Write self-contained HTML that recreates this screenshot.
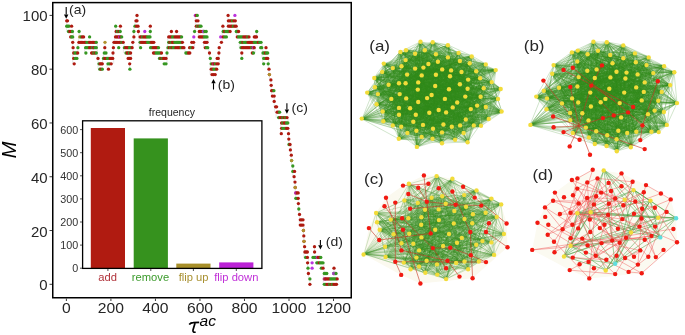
<!DOCTYPE html>
<html><head><meta charset="utf-8"><style>
html,body{margin:0;padding:0;background:#fff;}
body{width:685px;height:335px;overflow:hidden;position:relative;font-family:"Liberation Sans",sans-serif;}
</style></head><body>
<svg width="685" height="335" viewBox="0 0 685 335" style="position:absolute;left:0;top:0;will-change:transform">
<path d="M137.0 15.4V20.8M195.3 15.4V20.8M228.1 15.4V20.8M66.7 20.8V26.2M135.0 20.8V26.2M195.3 20.8V26.2M227.4 20.8V26.2M66.7 26.2V31.5M115.7 26.2V31.5M120.4 26.2V31.5M134.0 26.2V31.5M139.0 26.2V31.5M150.3 26.2V31.5M195.3 26.2V31.5M222.9 26.2V31.5M237.1 26.2V31.5M73.4 31.5V36.9M79.1 31.5V36.9M115.2 31.5V36.9M133.9 31.5V36.9M138.4 31.5V36.9M150.3 31.5V36.9M198.3 31.5V36.9M222.2 31.5V36.9M236.3 31.5V36.9M256.7 31.5V36.9M73.7 36.9V42.3M78.7 36.9V42.3M114.5 36.9V42.3M133.9 36.9V42.3M139.1 36.9V42.3M167.7 36.9V42.3M208.0 36.9V42.3M222.2 36.9V42.3M72.7 42.3V47.7M77.9 42.3V47.7M97.3 42.3V47.7M105.0 42.3V47.7M113.0 42.3V47.7M124.2 42.3V47.7M132.8 42.3V47.7M139.1 42.3V47.7M167.7 42.3V47.7M194.6 42.3V47.7M203.5 42.3V47.7M239.3 42.3V47.7M262.0 42.3V47.7M73.1 47.7V53.0M77.9 47.7V53.0M84.6 47.7V53.0M97.3 47.7V53.0M104.8 47.7V53.0M113.4 47.7V53.0M123.4 47.7V53.0M167.0 47.7V53.0M184.9 47.7V53.0M208.7 47.7V53.0M219.2 47.7V53.0M255.2 47.7V53.0M262.7 47.7V53.0M72.7 53.0V58.4M97.3 53.0V58.4M103.3 53.0V58.4M113.0 53.0V58.4M131.6 53.0V58.4M167.0 53.0V58.4M209.5 53.0V58.4M218.9 53.0V58.4M241.8 53.0V58.4M262.0 53.0V58.4M72.7 58.4V63.8M98.0 58.4V63.8M102.5 58.4V63.8M113.7 58.4V63.8M167.0 58.4V63.8M210.3 58.4V63.8M219.2 58.4V63.8M262.7 58.4V63.8M268.7 58.4V63.8M98.0 63.8V69.2M107.0 63.8V69.2M129.7 63.8V69.2M210.2 63.8V69.2M268.2 63.8V69.2M210.2 69.2V74.6M269.0 69.2V74.6M269.4 74.6V79.9M270.9 79.9V85.3M271.2 85.3V90.7M271.6 90.7V96.1M274.2 96.1V101.4M274.2 101.4V106.8M274.6 106.8V112.2M276.1 112.2V117.6M288.0 117.6V123.0M280.6 123.0V128.3M280.6 128.3V133.7M288.8 128.3V133.7M288.5 133.7V139.1M288.8 139.1V144.5M291.0 144.5V149.9M290.4 149.9V155.2M291.3 155.2V160.6M291.6 160.6V166.0M292.8 166.0V171.4M292.8 171.4V176.7M294.1 176.7V182.1M295.0 182.1V187.5M295.2 187.5V192.9M295.8 192.9V198.3M298.2 198.3V203.6M298.4 203.6V209.0M298.8 209.0V214.4M299.5 214.4V219.8M299.3 219.8V225.1M304.0 225.1V230.5M303.4 230.5V235.9M303.8 235.9V241.3M304.0 241.3V246.7M304.6 246.7V252.0M314.5 246.7V252.0M303.9 252.0V257.4M308.4 257.4V262.8M307.6 262.8V268.2M324.0 262.8V268.2M308.0 268.2V273.5M324.0 268.2V273.5M334.0 268.2V273.5M308.4 273.5V278.9M323.3 273.5V278.9M309.9 278.9V284.3M323.3 278.9V284.3" stroke="#cfcfcf" stroke-width="0.5" fill="none"/>
<style>.r{fill:#ae1a10}.g{fill:#369722}.p{fill:#bb33dd}.o{fill:#b0922e}</style>
<g><circle class="r" cx="66.7" cy="20.8" r="1.65"/><circle class="g" cx="66.7" cy="26.2" r="1.65"/><circle class="r" cx="67.5" cy="20.8" r="1.65"/><circle class="g" cx="67.8" cy="26.2" r="1.65"/><circle class="g" cx="68.5" cy="31.5" r="1.65"/><circle class="g" cx="69.0" cy="26.2" r="1.65"/><circle class="r" cx="69.8" cy="31.5" r="1.65"/><circle class="r" cx="70.7" cy="36.9" r="1.65"/><circle class="r" cx="71.1" cy="31.5" r="1.65"/><circle class="r" cx="71.6" cy="26.2" r="1.65"/><circle class="g" cx="71.7" cy="36.9" r="1.65"/><circle class="g" cx="72.4" cy="31.5" r="1.65"/><circle class="g" cx="72.7" cy="36.9" r="1.65"/><circle class="r" cx="72.7" cy="42.3" r="1.65"/><circle class="r" cx="73.1" cy="47.7" r="1.65"/><circle class="r" cx="73.7" cy="53.0" r="1.65"/><circle class="r" cx="73.7" cy="58.4" r="1.65"/><circle class="r" cx="74.2" cy="63.8" r="1.65"/><circle class="g" cx="75.0" cy="53.0" r="1.65"/><circle class="g" cx="75.3" cy="58.4" r="1.65"/><circle class="g" cx="76.4" cy="53.0" r="1.65"/><circle class="g" cx="76.9" cy="58.4" r="1.65"/><circle class="r" cx="77.7" cy="53.0" r="1.65"/><circle class="g" cx="77.9" cy="47.7" r="1.65"/><circle class="r" cx="78.9" cy="42.3" r="1.65"/><circle class="g" cx="79.1" cy="31.5" r="1.65"/><circle class="o" cx="79.7" cy="36.9" r="1.65"/><circle class="r" cx="80.2" cy="42.3" r="1.65"/><circle class="g" cx="81.0" cy="36.9" r="1.65"/><circle class="r" cx="81.6" cy="42.3" r="1.65"/><circle class="r" cx="82.3" cy="36.9" r="1.65"/><circle class="r" cx="82.9" cy="42.3" r="1.65"/><circle class="r" cx="83.6" cy="36.9" r="1.65"/><circle class="r" cx="84.3" cy="42.3" r="1.65"/><circle class="r" cx="85.6" cy="42.3" r="1.65"/><circle class="g" cx="85.6" cy="47.7" r="1.65"/><circle class="g" cx="85.9" cy="53.0" r="1.65"/><circle class="g" cx="86.9" cy="42.3" r="1.65"/><circle class="g" cx="86.9" cy="47.7" r="1.65"/><circle class="g" cx="88.3" cy="42.3" r="1.65"/><circle class="g" cx="88.3" cy="47.7" r="1.65"/><circle class="g" cx="89.6" cy="36.9" r="1.65"/><circle class="r" cx="89.6" cy="42.3" r="1.65"/><circle class="r" cx="89.6" cy="47.7" r="1.65"/><circle class="r" cx="90.9" cy="42.3" r="1.65"/><circle class="r" cx="90.9" cy="47.7" r="1.65"/><circle class="r" cx="91.6" cy="53.0" r="1.65"/><circle class="r" cx="92.3" cy="42.3" r="1.65"/><circle class="g" cx="92.3" cy="47.7" r="1.65"/><circle class="r" cx="92.8" cy="53.0" r="1.65"/><circle class="p" cx="93.6" cy="47.7" r="1.65"/><circle class="r" cx="93.6" cy="42.3" r="1.65"/><circle class="r" cx="93.6" cy="47.7" r="1.65"/><circle class="g" cx="93.9" cy="53.0" r="1.65"/><circle class="r" cx="95.0" cy="42.3" r="1.65"/><circle class="g" cx="95.0" cy="47.7" r="1.65"/><circle class="r" cx="95.1" cy="53.0" r="1.65"/><circle class="g" cx="96.3" cy="42.3" r="1.65"/><circle class="g" cx="96.3" cy="47.7" r="1.65"/><circle class="g" cx="96.3" cy="53.0" r="1.65"/><circle class="r" cx="98.0" cy="58.4" r="1.65"/><circle class="g" cx="99.0" cy="63.8" r="1.65"/><circle class="g" cx="99.8" cy="69.2" r="1.65"/><circle class="r" cx="100.1" cy="63.8" r="1.65"/><circle class="r" cx="101.0" cy="69.2" r="1.65"/><circle class="r" cx="101.2" cy="63.8" r="1.65"/><circle class="r" cx="102.3" cy="63.8" r="1.65"/><circle class="g" cx="102.3" cy="69.2" r="1.65"/><circle class="g" cx="103.5" cy="58.4" r="1.65"/><circle class="g" cx="104.3" cy="53.0" r="1.65"/><circle class="r" cx="104.8" cy="47.7" r="1.65"/><circle class="r" cx="104.8" cy="58.4" r="1.65"/><circle class="o" cx="105.0" cy="42.3" r="1.65"/><circle class="g" cx="106.0" cy="53.0" r="1.65"/><circle class="r" cx="106.1" cy="58.4" r="1.65"/><circle class="g" cx="107.4" cy="58.4" r="1.65"/><circle class="g" cx="108.0" cy="63.8" r="1.65"/><circle class="r" cx="108.5" cy="69.2" r="1.65"/><circle class="g" cx="108.8" cy="58.4" r="1.65"/><circle class="g" cx="109.6" cy="63.8" r="1.65"/><circle class="r" cx="110.1" cy="58.4" r="1.65"/><circle class="r" cx="111.2" cy="63.8" r="1.65"/><circle class="r" cx="111.4" cy="58.4" r="1.65"/><circle class="r" cx="112.7" cy="58.4" r="1.65"/><circle class="r" cx="113.0" cy="53.0" r="1.65"/><circle class="r" cx="113.4" cy="47.7" r="1.65"/><circle class="r" cx="114.0" cy="42.3" r="1.65"/><circle class="r" cx="115.3" cy="42.3" r="1.65"/><circle class="r" cx="115.5" cy="36.9" r="1.65"/><circle class="g" cx="115.7" cy="26.2" r="1.65"/><circle class="r" cx="116.2" cy="31.5" r="1.65"/><circle class="r" cx="116.6" cy="42.3" r="1.65"/><circle class="r" cx="116.7" cy="36.9" r="1.65"/><circle class="g" cx="117.5" cy="31.5" r="1.65"/><circle class="r" cx="117.9" cy="42.3" r="1.65"/><circle class="r" cx="118.0" cy="36.9" r="1.65"/><circle class="g" cx="118.7" cy="47.7" r="1.65"/><circle class="r" cx="118.9" cy="31.5" r="1.65"/><circle class="r" cx="119.2" cy="36.9" r="1.65"/><circle class="r" cx="119.3" cy="42.3" r="1.65"/><circle class="p" cx="119.7" cy="36.9" r="1.65"/><circle class="g" cx="120.2" cy="31.5" r="1.65"/><circle class="r" cx="120.4" cy="26.2" r="1.65"/><circle class="r" cx="120.5" cy="36.9" r="1.65"/><circle class="r" cx="120.6" cy="42.3" r="1.65"/><circle class="g" cx="121.7" cy="36.9" r="1.65"/><circle class="g" cx="121.9" cy="42.3" r="1.65"/><circle class="r" cx="123.2" cy="42.3" r="1.65"/><circle class="g" cx="124.4" cy="47.7" r="1.65"/><circle class="r" cx="125.7" cy="47.7" r="1.65"/><circle class="g" cx="126.0" cy="53.0" r="1.65"/><circle class="r" cx="127.0" cy="47.7" r="1.65"/><circle class="r" cx="127.2" cy="53.0" r="1.65"/><circle class="r" cx="128.2" cy="58.4" r="1.65"/><circle class="r" cx="128.2" cy="47.7" r="1.65"/><circle class="r" cx="128.3" cy="53.0" r="1.65"/><circle class="r" cx="129.4" cy="58.4" r="1.65"/><circle class="g" cx="129.4" cy="53.0" r="1.65"/><circle class="g" cx="129.5" cy="47.7" r="1.65"/><circle class="r" cx="129.7" cy="63.8" r="1.65"/><circle class="g" cx="129.9" cy="69.2" r="1.65"/><circle class="r" cx="130.6" cy="53.0" r="1.65"/><circle class="r" cx="130.6" cy="58.4" r="1.65"/><circle class="g" cx="130.8" cy="47.7" r="1.65"/><circle class="r" cx="132.1" cy="47.7" r="1.65"/><circle class="r" cx="132.8" cy="42.3" r="1.65"/><circle class="g" cx="133.9" cy="31.5" r="1.65"/><circle class="r" cx="133.9" cy="36.9" r="1.65"/><circle class="g" cx="135.0" cy="26.2" r="1.65"/><circle class="r" cx="136.0" cy="20.8" r="1.65"/><circle class="r" cx="136.5" cy="26.2" r="1.65"/><circle class="r" cx="137.0" cy="15.4" r="1.65"/><circle class="r" cx="137.0" cy="20.8" r="1.65"/><circle class="r" cx="138.0" cy="26.2" r="1.65"/><circle class="r" cx="138.4" cy="31.5" r="1.65"/><circle class="r" cx="140.1" cy="36.9" r="1.65"/><circle class="g" cx="140.1" cy="42.3" r="1.65"/><circle class="g" cx="140.6" cy="47.7" r="1.65"/><circle class="r" cx="141.3" cy="36.9" r="1.65"/><circle class="r" cx="141.3" cy="42.3" r="1.65"/><circle class="g" cx="142.6" cy="36.9" r="1.65"/><circle class="r" cx="142.6" cy="42.3" r="1.65"/><circle class="r" cx="143.8" cy="36.9" r="1.65"/><circle class="r" cx="143.8" cy="42.3" r="1.65"/><circle class="p" cx="144.8" cy="31.5" r="1.65"/><circle class="r" cx="145.1" cy="36.9" r="1.65"/><circle class="r" cx="145.1" cy="42.3" r="1.65"/><circle class="r" cx="146.3" cy="36.9" r="1.65"/><circle class="r" cx="146.3" cy="42.3" r="1.65"/><circle class="g" cx="147.5" cy="36.9" r="1.65"/><circle class="g" cx="147.6" cy="42.3" r="1.65"/><circle class="g" cx="148.8" cy="36.9" r="1.65"/><circle class="g" cx="148.8" cy="42.3" r="1.65"/><circle class="g" cx="150.0" cy="36.9" r="1.65"/><circle class="g" cx="150.1" cy="42.3" r="1.65"/><circle class="r" cx="150.3" cy="26.2" r="1.65"/><circle class="g" cx="150.3" cy="31.5" r="1.65"/><circle class="g" cx="150.6" cy="47.7" r="1.65"/><circle class="r" cx="151.3" cy="42.3" r="1.65"/><circle class="g" cx="151.9" cy="47.7" r="1.65"/><circle class="r" cx="152.6" cy="42.3" r="1.65"/><circle class="r" cx="153.2" cy="47.7" r="1.65"/><circle class="r" cx="153.5" cy="53.0" r="1.65"/><circle class="r" cx="153.8" cy="42.3" r="1.65"/><circle class="r" cx="154.6" cy="47.7" r="1.65"/><circle class="r" cx="154.8" cy="53.0" r="1.65"/><circle class="r" cx="155.9" cy="47.7" r="1.65"/><circle class="g" cx="156.2" cy="53.0" r="1.65"/><circle class="r" cx="157.2" cy="47.7" r="1.65"/><circle class="g" cx="157.5" cy="53.0" r="1.65"/><circle class="g" cx="158.5" cy="47.7" r="1.65"/><circle class="g" cx="158.8" cy="53.0" r="1.65"/><circle class="g" cx="159.5" cy="58.4" r="1.65"/><circle class="g" cx="160.2" cy="53.0" r="1.65"/><circle class="r" cx="160.8" cy="58.4" r="1.65"/><circle class="r" cx="161.5" cy="53.0" r="1.65"/><circle class="g" cx="162.1" cy="58.4" r="1.65"/><circle class="r" cx="163.4" cy="58.4" r="1.65"/><circle class="g" cx="164.2" cy="63.8" r="1.65"/><circle class="r" cx="164.7" cy="58.4" r="1.65"/><circle class="r" cx="166.0" cy="58.4" r="1.65"/><circle class="g" cx="166.0" cy="63.8" r="1.65"/><circle class="g" cx="167.0" cy="53.0" r="1.65"/><circle class="g" cx="168.0" cy="47.7" r="1.65"/><circle class="r" cx="168.7" cy="36.9" r="1.65"/><circle class="g" cx="168.7" cy="42.3" r="1.65"/><circle class="r" cx="169.3" cy="47.7" r="1.65"/><circle class="r" cx="169.9" cy="42.3" r="1.65"/><circle class="r" cx="170.0" cy="36.9" r="1.65"/><circle class="g" cx="170.7" cy="47.7" r="1.65"/><circle class="g" cx="171.2" cy="42.3" r="1.65"/><circle class="r" cx="171.3" cy="36.9" r="1.65"/><circle class="r" cx="171.4" cy="31.5" r="1.65"/><circle class="r" cx="172.0" cy="47.7" r="1.65"/><circle class="r" cx="172.4" cy="42.3" r="1.65"/><circle class="g" cx="172.6" cy="36.9" r="1.65"/><circle class="g" cx="173.3" cy="47.7" r="1.65"/><circle class="r" cx="173.7" cy="42.3" r="1.65"/><circle class="g" cx="173.9" cy="36.9" r="1.65"/><circle class="g" cx="174.6" cy="47.7" r="1.65"/><circle class="g" cx="174.9" cy="42.3" r="1.65"/><circle class="r" cx="175.1" cy="36.9" r="1.65"/><circle class="r" cx="175.9" cy="47.7" r="1.65"/><circle class="g" cx="176.2" cy="42.3" r="1.65"/><circle class="r" cx="176.4" cy="36.9" r="1.65"/><circle class="r" cx="176.6" cy="31.5" r="1.65"/><circle class="r" cx="177.3" cy="47.7" r="1.65"/><circle class="g" cx="177.4" cy="42.3" r="1.65"/><circle class="r" cx="177.7" cy="36.9" r="1.65"/><circle class="r" cx="178.6" cy="47.7" r="1.65"/><circle class="g" cx="178.7" cy="42.3" r="1.65"/><circle class="r" cx="179.0" cy="36.9" r="1.65"/><circle class="g" cx="179.9" cy="42.3" r="1.65"/><circle class="r" cx="179.9" cy="47.7" r="1.65"/><circle class="r" cx="180.3" cy="36.9" r="1.65"/><circle class="g" cx="181.2" cy="42.3" r="1.65"/><circle class="g" cx="181.2" cy="47.7" r="1.65"/><circle class="g" cx="181.6" cy="36.9" r="1.65"/><circle class="r" cx="182.4" cy="42.3" r="1.65"/><circle class="r" cx="182.6" cy="47.7" r="1.65"/><circle class="r" cx="183.9" cy="47.7" r="1.65"/><circle class="g" cx="185.9" cy="53.0" r="1.65"/><circle class="g" cx="187.2" cy="53.0" r="1.65"/><circle class="r" cx="188.5" cy="53.0" r="1.65"/><circle class="r" cx="189.6" cy="47.7" r="1.65"/><circle class="r" cx="189.8" cy="53.0" r="1.65"/><circle class="g" cx="191.2" cy="47.7" r="1.65"/><circle class="r" cx="191.8" cy="42.3" r="1.65"/><circle class="r" cx="192.8" cy="47.7" r="1.65"/><circle class="r" cx="193.6" cy="42.3" r="1.65"/><circle class="p" cx="193.8" cy="36.9" r="1.65"/><circle class="g" cx="194.6" cy="31.5" r="1.65"/><circle class="p" cx="195.3" cy="15.4" r="1.65"/><circle class="r" cx="196.3" cy="15.4" r="1.65"/><circle class="r" cx="196.3" cy="20.8" r="1.65"/><circle class="r" cx="196.3" cy="26.2" r="1.65"/><circle class="g" cx="197.3" cy="15.4" r="1.65"/><circle class="g" cx="197.5" cy="26.2" r="1.65"/><circle class="r" cx="198.0" cy="20.8" r="1.65"/><circle class="r" cx="198.7" cy="26.2" r="1.65"/><circle class="r" cx="199.3" cy="31.5" r="1.65"/><circle class="r" cx="199.3" cy="36.9" r="1.65"/><circle class="g" cx="199.8" cy="26.2" r="1.65"/><circle class="r" cx="200.6" cy="36.9" r="1.65"/><circle class="r" cx="200.7" cy="31.5" r="1.65"/><circle class="g" cx="201.0" cy="26.2" r="1.65"/><circle class="r" cx="201.9" cy="36.9" r="1.65"/><circle class="r" cx="202.1" cy="31.5" r="1.65"/><circle class="r" cx="203.2" cy="36.9" r="1.65"/><circle class="g" cx="203.4" cy="31.5" r="1.65"/><circle class="p" cx="203.5" cy="31.5" r="1.65"/><circle class="g" cx="204.4" cy="36.9" r="1.65"/><circle class="r" cx="204.5" cy="42.3" r="1.65"/><circle class="g" cx="204.8" cy="31.5" r="1.65"/><circle class="r" cx="205.3" cy="47.7" r="1.65"/><circle class="g" cx="205.7" cy="36.9" r="1.65"/><circle class="r" cx="205.8" cy="42.3" r="1.65"/><circle class="g" cx="206.2" cy="31.5" r="1.65"/><circle class="g" cx="206.5" cy="47.7" r="1.65"/><circle class="g" cx="207.0" cy="36.9" r="1.65"/><circle class="r" cx="207.0" cy="42.3" r="1.65"/><circle class="g" cx="207.7" cy="47.7" r="1.65"/><circle class="r" cx="209.5" cy="53.0" r="1.65"/><circle class="g" cx="210.3" cy="58.4" r="1.65"/><circle class="g" cx="211.2" cy="63.8" r="1.65"/><circle class="r" cx="211.2" cy="69.2" r="1.65"/><circle class="r" cx="212.0" cy="74.6" r="1.65"/><circle class="r" cx="212.6" cy="69.2" r="1.65"/><circle class="r" cx="212.6" cy="63.8" r="1.65"/><circle class="r" cx="213.6" cy="74.6" r="1.65"/><circle class="p" cx="213.7" cy="63.8" r="1.65"/><circle class="g" cx="213.9" cy="69.2" r="1.65"/><circle class="r" cx="214.0" cy="63.8" r="1.65"/><circle class="r" cx="215.2" cy="74.6" r="1.65"/><circle class="g" cx="215.3" cy="69.2" r="1.65"/><circle class="g" cx="215.4" cy="63.8" r="1.65"/><circle class="r" cx="216.7" cy="69.2" r="1.65"/><circle class="r" cx="216.8" cy="63.8" r="1.65"/><circle class="r" cx="217.2" cy="58.4" r="1.65"/><circle class="r" cx="218.2" cy="58.4" r="1.65"/><circle class="r" cx="218.2" cy="63.8" r="1.65"/><circle class="r" cx="218.9" cy="53.0" r="1.65"/><circle class="r" cx="219.2" cy="47.7" r="1.65"/><circle class="p" cx="220.7" cy="36.9" r="1.65"/><circle class="r" cx="221.4" cy="42.3" r="1.65"/><circle class="r" cx="222.9" cy="26.2" r="1.65"/><circle class="g" cx="223.2" cy="31.5" r="1.65"/><circle class="r" cx="223.2" cy="36.9" r="1.65"/><circle class="r" cx="224.6" cy="31.5" r="1.65"/><circle class="g" cx="224.8" cy="36.9" r="1.65"/><circle class="g" cx="226.0" cy="31.5" r="1.65"/><circle class="g" cx="226.4" cy="36.9" r="1.65"/><circle class="g" cx="227.3" cy="31.5" r="1.65"/><circle class="r" cx="228.1" cy="15.4" r="1.65"/><circle class="r" cx="228.4" cy="20.8" r="1.65"/><circle class="r" cx="228.4" cy="26.2" r="1.65"/><circle class="g" cx="228.7" cy="31.5" r="1.65"/><circle class="r" cx="229.7" cy="26.2" r="1.65"/><circle class="r" cx="229.8" cy="20.8" r="1.65"/><circle class="r" cx="230.1" cy="31.5" r="1.65"/><circle class="r" cx="231.0" cy="26.2" r="1.65"/><circle class="r" cx="231.2" cy="20.8" r="1.65"/><circle class="r" cx="232.2" cy="26.2" r="1.65"/><circle class="g" cx="232.5" cy="20.8" r="1.65"/><circle class="g" cx="233.5" cy="26.2" r="1.65"/><circle class="r" cx="233.9" cy="20.8" r="1.65"/><circle class="r" cx="234.8" cy="26.2" r="1.65"/><circle class="p" cx="234.9" cy="15.4" r="1.65"/><circle class="r" cx="235.3" cy="20.8" r="1.65"/><circle class="r" cx="236.1" cy="26.2" r="1.65"/><circle class="g" cx="236.3" cy="31.5" r="1.65"/><circle class="r" cx="237.3" cy="36.9" r="1.65"/><circle class="g" cx="237.4" cy="31.5" r="1.65"/><circle class="r" cx="238.6" cy="31.5" r="1.65"/><circle class="g" cx="238.6" cy="36.9" r="1.65"/><circle class="g" cx="239.9" cy="36.9" r="1.65"/><circle class="g" cx="240.3" cy="42.3" r="1.65"/><circle class="g" cx="241.0" cy="47.7" r="1.65"/><circle class="g" cx="241.2" cy="36.9" r="1.65"/><circle class="g" cx="241.6" cy="42.3" r="1.65"/><circle class="r" cx="241.8" cy="53.0" r="1.65"/><circle class="g" cx="241.8" cy="58.4" r="1.65"/><circle class="r" cx="242.3" cy="47.7" r="1.65"/><circle class="g" cx="242.5" cy="36.9" r="1.65"/><circle class="r" cx="242.9" cy="42.3" r="1.65"/><circle class="r" cx="243.6" cy="47.7" r="1.65"/><circle class="r" cx="243.8" cy="36.9" r="1.65"/><circle class="g" cx="244.2" cy="42.3" r="1.65"/><circle class="r" cx="245.0" cy="47.7" r="1.65"/><circle class="r" cx="245.1" cy="36.9" r="1.65"/><circle class="g" cx="245.5" cy="42.3" r="1.65"/><circle class="r" cx="246.3" cy="47.7" r="1.65"/><circle class="r" cx="246.4" cy="36.9" r="1.65"/><circle class="g" cx="246.8" cy="42.3" r="1.65"/><circle class="r" cx="247.6" cy="47.7" r="1.65"/><circle class="g" cx="247.7" cy="36.9" r="1.65"/><circle class="r" cx="248.1" cy="42.3" r="1.65"/><circle class="r" cx="248.9" cy="47.7" r="1.65"/><circle class="r" cx="249.0" cy="36.9" r="1.65"/><circle class="r" cx="249.4" cy="42.3" r="1.65"/><circle class="r" cx="250.2" cy="47.7" r="1.65"/><circle class="r" cx="250.7" cy="42.3" r="1.65"/><circle class="g" cx="251.6" cy="47.7" r="1.65"/><circle class="r" cx="251.9" cy="42.3" r="1.65"/><circle class="r" cx="252.3" cy="53.0" r="1.65"/><circle class="r" cx="252.9" cy="47.7" r="1.65"/><circle class="r" cx="253.2" cy="42.3" r="1.65"/><circle class="p" cx="253.3" cy="47.7" r="1.65"/><circle class="g" cx="253.5" cy="53.0" r="1.65"/><circle class="p" cx="253.5" cy="47.7" r="1.65"/><circle class="r" cx="254.2" cy="47.7" r="1.65"/><circle class="r" cx="254.3" cy="36.9" r="1.65"/><circle class="g" cx="254.5" cy="42.3" r="1.65"/><circle class="r" cx="255.4" cy="36.9" r="1.65"/><circle class="g" cx="255.8" cy="42.3" r="1.65"/><circle class="r" cx="256.5" cy="36.9" r="1.65"/><circle class="g" cx="256.7" cy="31.5" r="1.65"/><circle class="g" cx="257.1" cy="42.3" r="1.65"/><circle class="r" cx="258.4" cy="42.3" r="1.65"/><circle class="g" cx="259.7" cy="42.3" r="1.65"/><circle class="g" cx="260.7" cy="47.7" r="1.65"/><circle class="g" cx="261.0" cy="42.3" r="1.65"/><circle class="g" cx="261.7" cy="47.7" r="1.65"/><circle class="g" cx="263.0" cy="53.0" r="1.65"/><circle class="g" cx="263.7" cy="58.4" r="1.65"/><circle class="g" cx="263.7" cy="63.8" r="1.65"/><circle class="g" cx="264.2" cy="53.0" r="1.65"/><circle class="g" cx="265.0" cy="58.4" r="1.65"/><circle class="r" cx="265.4" cy="53.0" r="1.65"/><circle class="r" cx="266.0" cy="47.7" r="1.65"/><circle class="r" cx="266.4" cy="58.4" r="1.65"/><circle class="g" cx="266.5" cy="53.0" r="1.65"/><circle class="g" cx="267.7" cy="53.0" r="1.65"/><circle class="r" cx="267.7" cy="58.4" r="1.65"/><circle class="g" cx="268.2" cy="63.8" r="1.65"/><circle class="r" cx="269.0" cy="69.2" r="1.65"/><circle class="r" cx="269.4" cy="74.6" r="1.65"/><circle class="o" cx="269.4" cy="74.6" r="1.65"/><circle class="r" cx="270.9" cy="79.9" r="1.65"/><circle class="r" cx="271.2" cy="85.3" r="1.65"/><circle class="r" cx="271.6" cy="90.7" r="1.65"/><circle class="r" cx="272.4" cy="96.1" r="1.65"/><circle class="r" cx="272.8" cy="90.7" r="1.65"/><circle class="g" cx="273.9" cy="90.7" r="1.65"/><circle class="r" cx="274.2" cy="96.1" r="1.65"/><circle class="r" cx="274.2" cy="101.4" r="1.65"/><circle class="r" cx="275.6" cy="106.8" r="1.65"/><circle class="r" cx="276.6" cy="106.8" r="1.65"/><circle class="r" cx="277.1" cy="112.2" r="1.65"/><circle class="r" cx="278.4" cy="112.2" r="1.65"/><circle class="g" cx="278.6" cy="117.6" r="1.65"/><circle class="g" cx="279.6" cy="112.2" r="1.65"/><circle class="r" cx="280.0" cy="117.6" r="1.65"/><circle class="r" cx="281.3" cy="133.7" r="1.65"/><circle class="r" cx="281.4" cy="117.6" r="1.65"/><circle class="r" cx="281.6" cy="123.0" r="1.65"/><circle class="r" cx="281.6" cy="128.3" r="1.65"/><circle class="g" cx="282.8" cy="117.6" r="1.65"/><circle class="g" cx="282.8" cy="123.0" r="1.65"/><circle class="g" cx="282.8" cy="128.3" r="1.65"/><circle class="r" cx="284.1" cy="123.0" r="1.65"/><circle class="g" cx="284.1" cy="128.3" r="1.65"/><circle class="r" cx="284.2" cy="117.6" r="1.65"/><circle class="r" cx="285.3" cy="123.0" r="1.65"/><circle class="g" cx="285.3" cy="128.3" r="1.65"/><circle class="g" cx="285.6" cy="117.6" r="1.65"/><circle class="g" cx="286.6" cy="123.0" r="1.65"/><circle class="r" cx="286.6" cy="128.3" r="1.65"/><circle class="r" cx="287.0" cy="117.6" r="1.65"/><circle class="g" cx="287.8" cy="123.0" r="1.65"/><circle class="r" cx="287.8" cy="128.3" r="1.65"/><circle class="r" cx="288.5" cy="133.7" r="1.65"/><circle class="r" cx="288.8" cy="139.1" r="1.65"/><circle class="g" cx="289.0" cy="144.5" r="1.65"/><circle class="r" cx="290.0" cy="144.5" r="1.65"/><circle class="r" cx="290.4" cy="149.9" r="1.65"/><circle class="r" cx="291.3" cy="155.2" r="1.65"/><circle class="g" cx="291.6" cy="160.6" r="1.65"/><circle class="o" cx="291.6" cy="160.6" r="1.65"/><circle class="g" cx="292.8" cy="166.0" r="1.65"/><circle class="g" cx="292.8" cy="171.4" r="1.65"/><circle class="r" cx="294.1" cy="176.7" r="1.65"/><circle class="r" cx="294.6" cy="171.4" r="1.65"/><circle class="r" cx="295.0" cy="182.1" r="1.65"/><circle class="r" cx="295.2" cy="187.5" r="1.65"/><circle class="o" cx="295.2" cy="187.5" r="1.65"/><circle class="r" cx="295.8" cy="192.9" r="1.65"/><circle class="g" cx="295.8" cy="198.3" r="1.65"/><circle class="p" cx="295.8" cy="192.9" r="1.65"/><circle class="r" cx="297.0" cy="192.9" r="1.65"/><circle class="g" cx="297.0" cy="198.3" r="1.65"/><circle class="r" cx="298.2" cy="192.9" r="1.65"/><circle class="r" cx="298.2" cy="198.3" r="1.65"/><circle class="r" cx="298.4" cy="203.6" r="1.65"/><circle class="g" cx="298.8" cy="209.0" r="1.65"/><circle class="r" cx="299.5" cy="214.4" r="1.65"/><circle class="r" cx="300.3" cy="219.8" r="1.65"/><circle class="r" cx="300.3" cy="225.1" r="1.65"/><circle class="r" cx="301.6" cy="219.8" r="1.65"/><circle class="r" cx="301.6" cy="225.1" r="1.65"/><circle class="r" cx="303.0" cy="219.8" r="1.65"/><circle class="r" cx="303.0" cy="225.1" r="1.65"/><circle class="r" cx="303.4" cy="230.5" r="1.65"/><circle class="o" cx="303.4" cy="230.5" r="1.65"/><circle class="r" cx="303.8" cy="235.9" r="1.65"/><circle class="r" cx="304.0" cy="241.3" r="1.65"/><circle class="o" cx="304.0" cy="241.3" r="1.65"/><circle class="r" cx="304.6" cy="246.7" r="1.65"/><circle class="r" cx="304.9" cy="252.0" r="1.65"/><circle class="g" cx="305.6" cy="257.4" r="1.65"/><circle class="r" cx="306.1" cy="252.0" r="1.65"/><circle class="r" cx="307.4" cy="252.0" r="1.65"/><circle class="r" cx="307.4" cy="257.4" r="1.65"/><circle class="r" cx="307.6" cy="262.8" r="1.65"/><circle class="g" cx="308.0" cy="268.2" r="1.65"/><circle class="r" cx="308.4" cy="273.5" r="1.65"/><circle class="g" cx="309.9" cy="278.9" r="1.65"/><circle class="r" cx="309.9" cy="284.3" r="1.65"/><circle class="p" cx="312.1" cy="262.8" r="1.65"/><circle class="p" cx="312.1" cy="268.2" r="1.65"/><circle class="g" cx="313.0" cy="257.4" r="1.65"/><circle class="g" cx="314.3" cy="257.4" r="1.65"/><circle class="r" cx="314.5" cy="246.7" r="1.65"/><circle class="r" cx="314.6" cy="252.0" r="1.65"/><circle class="g" cx="315.6" cy="257.4" r="1.65"/><circle class="g" cx="316.8" cy="262.8" r="1.65"/><circle class="g" cx="316.9" cy="257.4" r="1.65"/><circle class="p" cx="317.3" cy="257.4" r="1.65"/><circle class="g" cx="318.0" cy="262.8" r="1.65"/><circle class="r" cx="318.2" cy="257.4" r="1.65"/><circle class="r" cx="319.3" cy="262.8" r="1.65"/><circle class="r" cx="319.5" cy="257.4" r="1.65"/><circle class="g" cx="320.5" cy="262.8" r="1.65"/><circle class="g" cx="320.8" cy="257.4" r="1.65"/><circle class="g" cx="321.3" cy="268.2" r="1.65"/><circle class="g" cx="321.8" cy="262.8" r="1.65"/><circle class="g" cx="323.0" cy="262.8" r="1.65"/><circle class="r" cx="323.0" cy="268.2" r="1.65"/><circle class="g" cx="324.3" cy="273.5" r="1.65"/><circle class="r" cx="324.3" cy="278.9" r="1.65"/><circle class="g" cx="324.3" cy="284.3" r="1.65"/><circle class="p" cx="325.0" cy="278.9" r="1.65"/><circle class="g" cx="325.6" cy="273.5" r="1.65"/><circle class="r" cx="325.6" cy="278.9" r="1.65"/><circle class="g" cx="325.7" cy="284.3" r="1.65"/><circle class="g" cx="326.8" cy="273.5" r="1.65"/><circle class="r" cx="326.9" cy="278.9" r="1.65"/><circle class="r" cx="327.0" cy="284.3" r="1.65"/><circle class="r" cx="328.2" cy="278.9" r="1.65"/><circle class="r" cx="328.4" cy="284.3" r="1.65"/><circle class="r" cx="329.5" cy="278.9" r="1.65"/><circle class="g" cx="329.7" cy="284.3" r="1.65"/><circle class="g" cx="330.8" cy="278.9" r="1.65"/><circle class="r" cx="331.1" cy="284.3" r="1.65"/><circle class="g" cx="332.0" cy="278.9" r="1.65"/><circle class="g" cx="332.4" cy="284.3" r="1.65"/><circle class="g" cx="333.3" cy="278.9" r="1.65"/><circle class="g" cx="333.7" cy="273.5" r="1.65"/><circle class="p" cx="333.7" cy="273.5" r="1.65"/><circle class="r" cx="333.8" cy="284.3" r="1.65"/><circle class="r" cx="334.0" cy="268.2" r="1.65"/><circle class="g" cx="334.6" cy="278.9" r="1.65"/><circle class="g" cx="334.9" cy="273.5" r="1.65"/><circle class="p" cx="335.0" cy="273.5" r="1.65"/><circle class="r" cx="335.1" cy="284.3" r="1.65"/><circle class="g" cx="335.9" cy="278.9" r="1.65"/><circle class="g" cx="336.0" cy="273.5" r="1.65"/><circle class="r" cx="336.5" cy="284.3" r="1.65"/><circle class="r" cx="337.2" cy="278.9" r="1.65"/></g>
<rect x="52.75" y="2.6" width="298.5" height="295.15" fill="none" stroke="#000" stroke-width="1.5"/>
<path d="M49.5 284.30H52M49.5 230.52H52M49.5 176.74H52M49.5 122.96H52M49.5 69.18H52M49.5 15.40H52M66.40 298.5V301M110.92 298.5V301M155.44 298.5V301M199.96 298.5V301M244.48 298.5V301M289.00 298.5V301M333.52 298.5V301" stroke="#262626" stroke-width="0.9" fill="none"/>
<g font-family="Liberation Sans, sans-serif" font-size="14" fill="#262626"><text transform="translate(47.6,290.3) scale(1.07,1)" text-anchor="end">0</text><text transform="translate(47.6,236.5) scale(1.07,1)" text-anchor="end">20</text><text transform="translate(47.6,182.7) scale(1.07,1)" text-anchor="end">40</text><text transform="translate(47.6,129.0) scale(1.07,1)" text-anchor="end">60</text><text transform="translate(47.6,75.2) scale(1.07,1)" text-anchor="end">80</text><text transform="translate(47.6,21.4) scale(1.07,1)" text-anchor="end">100</text><text transform="translate(66.4,312.7) scale(1.12,1)" text-anchor="middle">0</text><text transform="translate(110.9,312.7) scale(1.12,1)" text-anchor="middle">200</text><text transform="translate(155.4,312.7) scale(1.12,1)" text-anchor="middle">400</text><text transform="translate(200.0,312.7) scale(1.12,1)" text-anchor="middle">600</text><text transform="translate(244.5,312.7) scale(1.12,1)" text-anchor="middle">800</text><text transform="translate(289.0,312.7) scale(1.12,1)" text-anchor="middle">1000</text><text transform="translate(333.5,312.7) scale(1.12,1)" text-anchor="middle">1200</text></g>
<text transform="translate(15.5,150) rotate(-90)" text-anchor="middle" font-family="Liberation Sans, sans-serif" font-style="italic" font-size="20" fill="#000">M</text>
<path d="M189.2 324.6C190.5 322.9 191.6 322.6 193.2 322.6L199.2 322.4M195.2 322.6L193.0 330.0C192.6 331.8 193.6 332.6 195.6 332.1" stroke="#000" stroke-width="1.7" fill="none" stroke-linecap="butt"/>
<text x="199.6" y="326.1" font-family="Liberation Sans, sans-serif" font-style="italic" font-size="15.5" fill="#000">ac</text>
<path d="M66.2 7.0V14.6" stroke="#000" stroke-width="1.1"/><path d="M64.0 14.6L68.4 14.6L66.2 18.8Z" fill="#000"/>
<path d="M213.5 89.5V83.2" stroke="#000" stroke-width="1.1"/><path d="M211.3 83.2L215.7 83.2L213.5 79.0Z" fill="#000"/>
<path d="M286.9 103.2V109.6" stroke="#000" stroke-width="1.1"/><path d="M284.7 109.6L289.1 109.6L286.9 113.8Z" fill="#000"/>
<path d="M320.4 239.9V245.3" stroke="#000" stroke-width="1.1"/><path d="M318.2 245.3L322.6 245.3L320.4 249.5Z" fill="#000"/>
<g font-family="Liberation Sans, sans-serif" font-size="14" fill="#262626"><text transform="translate(69.0,14.3) scale(1,0.9)">(a)</text><text transform="translate(217.8,89.4) scale(1,0.9)">(b)</text><text transform="translate(291.6,111.7) scale(1,0.9)">(c)</text><text transform="translate(325.8,246.2) scale(1,0.9)">(d)</text></g>
<rect x="90.8" y="128.0" width="34.2" height="140.2" fill="#b01b11"/>
<rect x="133.7" y="138.4" width="34.2" height="129.8" fill="#36921e"/>
<rect x="176.3" y="263.6" width="34.2" height="4.6" fill="#a78f2a"/>
<rect x="219.2" y="262.4" width="34.2" height="5.8" fill="#bb22d6"/>
<rect x="82.6" y="120.8" width="179.3" height="147.6" fill="none" stroke="#000" stroke-width="1.3"/>
<path d="M80 268.20H82M80 245.10H82M80 222.00H82M80 198.90H82M80 175.80H82M80 152.70H82M80 129.60H82M107.9 269V271M150.8 269V271M193.4 269V271M236.3 269V271" stroke="#262626" stroke-width="0.8" fill="none"/>
<g font-family="Liberation Sans, sans-serif" font-size="10" fill="#333"><text transform="translate(78.2,272.2) scale(1.08,1)" text-anchor="end">0</text><text transform="translate(78.2,249.1) scale(1.08,1)" text-anchor="end">100</text><text transform="translate(78.2,226.0) scale(1.08,1)" text-anchor="end">200</text><text transform="translate(78.2,202.9) scale(1.08,1)" text-anchor="end">300</text><text transform="translate(78.2,179.8) scale(1.08,1)" text-anchor="end">400</text><text transform="translate(78.2,156.7) scale(1.08,1)" text-anchor="end">500</text><text transform="translate(78.2,133.6) scale(1.08,1)" text-anchor="end">600</text></g>
<g font-family="Liberation Sans, sans-serif" font-size="11.2" text-anchor="middle"><text x="107.6" y="280.5" fill="#b0323a">add</text><text x="150.5" y="280.5" fill="#3a9a2a">remove</text><text x="193.6" y="280.5" fill="#a89030">flip up</text><text x="236.3" y="280.5" fill="#c030d8">flip down</text></g>
<text x="171.9" y="116.3" text-anchor="middle" font-family="Liberation Sans, sans-serif" font-size="10.5" fill="#262626">frequency</text>
<path d="M420 42L400 52M420 42L436 54M420 42L402 66M420 42L415 69M420 42L423 68M420 42L407 75M420 42L436 75M420 42L374 78M420 42L399 83M420 42L435 86M420 42L378 94M420 42L448 45M420 42L472 56M420 42L496 70M420 42L442 69M420 42L451 70M420 42L476 71M420 42L468 80M420 42L460 84M420 42L391 99M420 42L432 95M420 42L418 102M420 42L410 108M420 42L429 113M420 42L439 110M420 42L383 112M420 42L416 115M420 42L413 122M420 42L433 129M420 42L407 133M420 42L416 131M420 42L432 139M420 42L417 147M420 42L445 99M420 42L465 97M420 42L481 97M420 42L457 102M420 42L477 106M420 42L486 107M420 42L446 112M420 42L502 112M420 42L464 133M433 42L406 50M433 42L415 54M433 42L436 54M433 42L384 64M433 42L428 64M433 42L402 66M433 42L423 68M433 42L407 75M433 42L422 75M433 42L436 75M433 42L374 78M433 42L418 82M433 42L375 87M433 42L418 90M433 42L367 93M433 42L378 94M433 42L400 94M433 42L448 45M433 42L448 57M433 42L459 53M433 42L486 64M433 42L496 70M433 42L451 70M433 42L462 72M433 42L476 71M433 42L450 76M433 42L480 78M433 42L501 89M433 42L449 89M433 42L468 89M433 42L391 99M433 42L406 98M433 42L377 104M433 42L399 108M433 42L399 115M433 42L416 115M433 42L401 127M433 42L423 125M433 42L433 129M433 42L481 97M433 42L457 102M433 42L486 107M433 42L471 109M433 42L446 112M433 42L489 119M433 42L443 124M433 42L474 125M433 42L481 126M433 42L464 133M433 42L455 140M400 52L436 54M400 52L406 60M400 52L438 62M400 52L393 68M400 52L423 68M400 52L382 72M400 52L436 75M400 52L374 78M400 52L399 83M400 52L406 83M400 52L389 85M400 52L367 93M400 52L400 94M400 52L448 57M400 52L459 53M400 52L460 61M400 52L496 70M400 52L442 69M400 52L451 70M400 52L450 76M400 52L468 80M400 52L480 78M400 52L460 84M400 52L484 88M400 52L501 89M400 52L449 89M400 52L418 102M400 52L377 104M400 52L429 113M400 52L383 112M400 52L399 115M400 52L416 115M400 52L362 119M400 52L383 121M400 52L413 122M400 52L393 125M400 52L423 125M400 52L407 133M400 52L416 131M400 52L432 139M400 52L417 147M400 52L465 97M400 52L498 99M400 52L457 102M400 52L477 106M400 52L486 107M400 52L502 112M400 52L466 120M400 52L489 119M400 52L452 127M400 52L481 126M400 52L442 132M400 52L442 143M406 50L415 54M406 50L425 50M406 50L436 54M406 50L393 68M406 50L402 66M406 50L407 75M406 50L422 75M406 50L436 75M406 50L406 83M406 50L367 93M406 50L378 94M406 50L400 94M406 50L448 57M406 50L459 53M406 50L460 61M406 50L470 63M406 50L486 64M406 50L442 69M406 50L450 76M406 50L468 80M406 50L480 78M406 50L484 88M406 50L501 89M406 50L449 89M406 50L418 102M406 50L399 108M406 50L429 113M406 50L383 112M406 50L399 115M406 50L416 115M406 50L362 119M406 50L393 125M406 50L401 127M406 50L407 133M406 50L432 139M406 50L498 99M406 50L457 102M406 50L453 107M406 50L477 106M406 50L502 112M406 50L489 119M406 50L443 124M406 50L474 125M406 50L464 133M406 50L455 140M406 50L442 143M406 50L468 142M415 54L425 50M415 54L384 64M415 54L428 64M415 54L438 62M415 54L402 66M415 54L415 69M415 54L423 68M415 54L422 75M415 54L436 75M415 54L374 78M415 54L418 82M415 54L389 85M415 54L375 87M415 54L418 90M415 54L367 93M415 54L400 94M415 54L448 57M415 54L459 53M415 54L470 63M415 54L486 64M415 54L442 69M415 54L451 70M415 54L476 71M415 54L468 80M415 54L460 84M415 54L484 88M415 54L391 99M415 54L427 98M415 54L418 102M415 54L377 104M415 54L429 113M415 54L416 115M415 54L362 119M415 54L401 127M415 54L433 129M415 54L399 139M415 54L417 147M415 54L445 99M415 54L498 99M415 54L457 102M415 54L453 107M415 54L486 107M415 54L471 109M415 54L446 112M415 54L489 119M415 54L460 125M415 54L481 126M415 54L442 143M415 54L468 142M425 50L406 60M425 50L428 64M425 50L438 62M425 50L393 68M425 50L423 68M425 50L436 75M425 50L399 83M425 50L406 83M425 50L418 82M425 50L389 85M425 50L435 86M425 50L418 90M425 50L378 94M425 50L459 53M425 50L460 61M425 50L486 64M425 50L476 71M425 50L460 84M425 50L449 89M425 50L468 89M425 50L406 98M425 50L432 95M425 50L377 104M425 50L429 113M425 50L439 110M425 50L399 115M425 50L416 115M425 50L362 119M425 50L383 121M425 50L423 125M425 50L407 133M425 50L399 139M425 50L481 97M425 50L453 107M425 50L486 107M425 50L502 112M425 50L489 119M425 50L443 124M425 50L460 125M425 50L481 126M425 50L468 142M436 54L406 60M436 54L384 64M436 54L428 64M436 54L393 68M436 54L423 68M436 54L382 72M436 54L422 75M436 54L436 75M436 54L374 78M436 54L399 83M436 54L406 83M436 54L418 82M436 54L375 87M436 54L378 94M436 54L448 45M436 54L448 57M436 54L459 53M436 54L486 64M436 54L496 70M436 54L442 69M436 54L476 71M436 54L468 80M436 54L460 84M436 54L501 89M436 54L468 89M436 54L391 99M436 54L406 98M436 54L432 95M436 54L399 108M436 54L410 108M436 54L416 115M436 54L362 119M436 54L383 121M436 54L413 122M436 54L433 129M436 54L417 147M436 54L445 99M436 54L465 97M436 54L481 97M436 54L498 99M436 54L471 109M436 54L502 112M436 54L443 124M436 54L474 125M436 54L442 132M436 54L464 133M436 54L455 140M406 60L428 64M406 60L393 68M406 60L402 66M406 60L418 82M406 60L375 87M406 60L418 90M406 60L378 94M406 60L448 45M406 60L448 57M406 60L459 53M406 60L460 61M406 60L470 63M406 60L486 64M406 60L496 70M406 60L450 76M406 60L480 78M406 60L501 89M406 60L406 98M406 60L427 98M406 60L432 95M406 60L418 102M406 60L383 112M406 60L399 115M406 60L416 115M406 60L383 121M406 60L413 122M406 60L393 125M406 60L401 127M406 60L423 125M406 60L433 129M406 60L416 131M406 60L422 137M406 60L465 97M406 60L481 97M406 60L498 99M406 60L453 107M406 60L471 109M406 60L502 112M406 60L489 119M406 60L443 124M406 60L452 127M406 60L481 126M406 60L442 143M384 64L428 64M384 64L393 68M384 64L415 69M384 64L423 68M384 64L422 75M384 64L374 78M384 64L435 86M384 64L375 87M384 64L418 90M384 64L378 94M384 64L448 45M384 64L448 57M384 64L459 53M384 64L470 63M384 64L496 70M384 64L468 80M384 64L480 78M384 64L492 82M384 64L449 89M384 64L468 89M384 64L427 98M384 64L377 104M384 64L399 108M384 64L410 108M384 64L383 112M384 64L399 115M384 64L416 115M384 64L362 119M384 64L413 122M384 64L393 125M384 64L401 127M384 64L407 133M384 64L422 137M384 64L399 139M384 64L465 97M384 64L481 97M384 64L457 102M384 64L453 107M384 64L477 106M384 64L486 107M384 64L471 109M384 64L452 127M384 64L474 125M384 64L464 133M384 64L468 142M428 64L438 62M428 64L374 78M428 64L406 83M428 64L418 82M428 64L418 90M428 64L367 93M428 64L448 45M428 64L472 56M428 64L486 64M428 64L451 70M428 64L476 71M428 64L492 82M428 64L427 98M428 64L418 102M428 64L399 108M428 64L429 113M428 64L383 112M428 64L399 115M428 64L416 115M428 64L362 119M428 64L383 121M428 64L413 122M428 64L393 125M428 64L423 125M428 64L433 129M428 64L407 133M428 64L432 139M428 64L445 99M428 64L465 97M428 64L481 97M428 64L471 109M428 64L502 112M428 64L460 125M428 64L481 126M428 64L464 133M428 64L442 143M428 64L468 142M438 62L393 68M438 62L402 66M438 62L415 69M438 62L423 68M438 62L407 75M438 62L422 75M438 62L436 75M438 62L399 83M438 62L389 85M438 62L418 90M438 62L448 45M438 62L472 56M438 62L460 61M438 62L496 70M438 62L442 69M438 62L451 70M438 62L462 72M438 62L450 76M438 62L468 80M438 62L460 84M438 62L432 95M438 62L410 108M438 62L383 112M438 62L399 115M438 62L416 115M438 62L383 121M438 62L393 125M438 62L416 131M438 62L465 97M438 62L481 97M438 62L457 102M438 62L486 107M438 62L466 120M438 62L474 125M438 62L464 133M438 62L442 143M393 68L423 68M393 68L382 72M393 68L407 75M393 68L374 78M393 68L406 83M393 68L389 85M393 68L378 94M393 68L400 94M393 68L448 45M393 68L460 61M393 68L442 69M393 68L451 70M393 68L462 72M393 68L476 71M393 68L427 98M393 68L399 108M393 68L410 108M393 68L429 113M393 68L416 115M393 68L393 125M393 68L401 127M393 68L423 125M393 68L433 129M393 68L407 133M393 68L399 139M393 68L417 147M393 68L445 99M393 68L457 102M393 68L453 107M393 68L477 106M393 68L466 120M393 68L489 119M393 68L452 127M393 68L460 125M393 68L474 125M393 68L481 126M393 68L464 133M393 68L442 143M402 66L415 69M402 66L423 68M402 66L407 75M402 66L436 75M402 66L374 78M402 66L435 86M402 66L400 94M402 66L459 53M402 66L472 56M402 66L486 64M402 66L496 70M402 66L451 70M402 66L450 76M402 66L468 80M402 66L492 82M402 66L484 88M402 66L449 89M402 66L406 98M402 66L427 98M402 66L410 108M402 66L429 113M402 66L416 115M402 66L401 127M402 66L423 125M402 66L407 133M402 66L417 147M402 66L445 99M402 66L465 97M402 66L481 97M402 66L477 106M402 66L466 120M402 66L474 125M402 66L481 126M402 66L455 140M415 69L423 68M415 69L436 75M415 69L374 78M415 69L389 85M415 69L418 90M415 69L472 56M415 69L460 61M415 69L470 63M415 69L496 70M415 69L451 70M415 69L476 71M415 69L450 76M415 69L480 78M415 69L492 82M415 69L501 89M415 69L468 89M415 69L406 98M415 69L427 98M415 69L410 108M415 69L439 110M415 69L383 121M415 69L413 122M415 69L393 125M415 69L401 127M415 69L423 125M415 69L433 129M415 69L417 147M415 69L465 97M415 69L481 97M415 69L457 102M415 69L446 112M415 69L502 112M415 69L466 120M415 69L452 127M415 69L460 125M415 69L474 125M415 69L481 126M415 69L442 143M423 68L436 75M423 68L374 78M423 68L389 85M423 68L418 90M423 68L367 93M423 68L378 94M423 68L400 94M423 68L448 57M423 68L459 53M423 68L472 56M423 68L470 63M423 68L496 70M423 68L442 69M423 68L462 72M423 68L480 78M423 68L492 82M423 68L460 84M423 68L391 99M423 68L418 102M423 68L377 104M423 68L399 108M423 68L439 110M423 68L399 115M423 68L416 115M423 68L362 119M423 68L383 121M423 68L393 125M423 68L401 127M423 68L433 129M423 68L416 131M423 68L399 139M423 68L445 99M423 68L481 97M423 68L498 99M423 68L457 102M423 68L453 107M423 68L446 112M423 68L502 112M423 68L489 119M423 68L452 127M423 68L474 125M423 68L442 132M423 68L464 133M423 68L455 140M382 72L407 75M382 72L422 75M382 72L374 78M382 72L406 83M382 72L418 82M382 72L375 87M382 72L418 90M382 72L367 93M382 72L448 45M382 72L448 57M382 72L486 64M382 72L496 70M382 72L451 70M382 72L476 71M382 72L468 80M382 72L484 88M382 72L391 99M382 72L406 98M382 72L432 95M382 72L418 102M382 72L377 104M382 72L410 108M382 72L439 110M382 72L399 115M382 72L413 122M382 72L401 127M382 72L433 129M382 72L445 99M382 72L481 97M382 72L498 99M382 72L457 102M382 72L453 107M382 72L486 107M382 72L471 109M382 72L502 112M382 72L466 120M382 72L474 125M382 72L464 133M382 72L455 140M407 75L422 75M407 75L436 75M407 75L374 78M407 75L399 83M407 75L389 85M407 75L418 90M407 75L400 94M407 75L448 45M407 75L472 56M407 75L486 64M407 75L496 70M407 75L442 69M407 75L451 70M407 75L492 82M407 75L449 89M407 75L468 89M407 75L406 98M407 75L432 95M407 75L418 102M407 75L399 108M407 75L410 108M407 75L413 122M407 75L401 127M407 75L433 129M407 75L399 139M407 75L417 147M407 75L465 97M407 75L481 97M407 75L457 102M407 75L471 109M407 75L466 120M407 75L489 119M407 75L443 124M407 75L452 127M407 75L460 125M407 75L474 125M407 75L481 126M407 75L442 132M422 75L374 78M422 75L375 87M422 75L418 90M422 75L367 93M422 75L400 94M422 75L448 57M422 75L459 53M422 75L460 61M422 75L496 70M422 75L451 70M422 75L476 71M422 75L450 76M422 75L480 78M422 75L492 82M422 75L460 84M422 75L484 88M422 75L449 89M422 75L468 89M422 75L427 98M422 75L432 95M422 75L418 102M422 75L401 127M422 75L433 129M422 75L417 147M422 75L498 99M422 75L486 107M422 75L471 109M422 75L502 112M422 75L466 120M422 75L460 125M422 75L474 125M422 75L481 126M422 75L442 132M422 75L442 143M436 75L374 78M436 75L389 85M436 75L435 86M436 75L418 90M436 75L367 93M436 75L496 70M436 75L442 69M436 75L462 72M436 75L480 78M436 75L492 82M436 75L460 84M436 75L406 98M436 75L418 102M436 75L410 108M436 75L429 113M436 75L416 115M436 75L423 125M436 75L433 129M436 75L407 133M436 75L399 139M436 75L432 139M436 75L465 97M436 75L457 102M436 75L453 107M436 75L486 107M436 75L446 112M436 75L502 112M436 75L452 127M436 75L481 126M436 75L468 142M374 78L399 83M374 78L406 83M374 78L389 85M374 78L435 86M374 78L375 87M374 78L448 45M374 78L448 57M374 78L472 56M374 78L470 63M374 78L486 64M374 78L496 70M374 78L442 69M374 78L476 71M374 78L450 76M374 78L468 80M374 78L480 78M374 78L501 89M374 78L468 89M374 78L391 99M374 78L432 95M374 78L399 108M374 78L399 115M374 78L416 115M374 78L383 121M374 78L413 122M374 78L433 129M374 78L407 133M374 78L416 131M374 78L422 137M374 78L432 139M374 78L445 99M374 78L481 97M374 78L498 99M374 78L457 102M374 78L453 107M374 78L486 107M374 78L471 109M374 78L446 112M374 78L502 112M374 78L466 120M374 78L489 119M374 78L452 127M374 78L460 125M374 78L481 126M374 78L442 132M374 78L455 140M374 78L442 143M399 83L418 82M399 83L389 85M399 83L375 87M399 83L367 93M399 83L448 45M399 83L459 53M399 83L460 61M399 83L496 70M399 83L442 69M399 83L462 72M399 83L450 76M399 83L492 82M399 83L484 88M399 83L468 89M399 83L391 99M399 83L406 98M399 83L427 98M399 83L418 102M399 83L399 108M399 83L429 113M399 83L383 112M399 83L399 115M399 83L416 115M399 83L362 119M399 83L383 121M399 83L393 125M399 83L401 127M399 83L422 137M399 83L399 139M399 83L432 139M399 83L465 97M399 83L481 97M399 83L453 107M399 83L486 107M399 83L446 112M399 83L502 112M399 83L452 127M399 83L460 125M399 83L474 125M399 83L481 126M399 83L442 132M399 83L464 133M399 83L455 140M399 83L442 143M406 83L418 82M406 83L418 90M406 83L367 93M406 83L400 94M406 83L448 45M406 83L472 56M406 83L460 61M406 83L496 70M406 83L442 69M406 83L451 70M406 83L476 71M406 83L480 78M406 83L460 84M406 83L449 89M406 83L468 89M406 83L406 98M406 83L429 113M406 83L383 112M406 83L362 119M406 83L413 122M406 83L423 125M406 83L399 139M406 83L432 139M406 83L417 147M406 83L445 99M406 83L465 97M406 83L481 97M406 83L498 99M406 83L477 106M406 83L486 107M406 83L446 112M406 83L466 120M406 83L489 119M406 83L452 127M406 83L474 125M406 83L455 140M418 82L418 90M418 82L367 93M418 82L378 94M418 82L400 94M418 82L448 45M418 82L448 57M418 82L459 53M418 82L460 61M418 82L470 63M418 82L486 64M418 82L442 69M418 82L451 70M418 82L462 72M418 82L476 71M418 82L480 78M418 82L501 89M418 82L468 89M418 82L391 99M418 82L427 98M418 82L429 113M418 82L439 110M418 82L383 112M418 82L399 115M418 82L383 121M418 82L413 122M418 82L433 129M418 82L399 139M418 82L432 139M418 82L445 99M418 82L465 97M418 82L498 99M418 82L453 107M418 82L477 106M418 82L460 125M418 82L474 125M418 82L442 132M418 82L455 140M418 82L442 143M389 85L435 86M389 85L375 87M389 85L418 90M389 85L367 93M389 85L400 94M389 85L472 56M389 85L460 61M389 85L496 70M389 85L442 69M389 85L451 70M389 85L468 80M389 85L480 78M389 85L492 82M389 85L484 88M389 85L501 89M389 85L449 89M389 85L468 89M389 85L429 113M389 85L399 115M389 85L393 125M389 85L401 127M389 85L433 129M389 85L407 133M389 85L422 137M389 85L399 139M389 85L417 147M389 85L465 97M389 85L457 102M389 85L453 107M389 85L477 106M389 85L446 112M389 85L466 120M389 85L489 119M389 85L452 127M389 85L481 126M389 85L464 133M389 85L468 142M435 86L375 87M435 86L418 90M435 86L367 93M435 86L459 53M435 86L470 63M435 86L496 70M435 86L442 69M435 86L450 76M435 86L480 78M435 86L492 82M435 86L460 84M435 86L484 88M435 86L449 89M435 86L468 89M435 86L406 98M435 86L429 113M435 86L383 112M435 86L383 121M435 86L413 122M435 86L433 129M435 86L416 131M435 86L432 139M435 86L465 97M435 86L481 97M435 86L498 99M435 86L477 106M435 86L486 107M435 86L471 109M435 86L502 112M435 86L489 119M435 86L452 127M435 86L460 125M435 86L442 143M435 86L468 142M375 87L418 90M375 87L448 45M375 87L448 57M375 87L460 61M375 87L486 64M375 87L442 69M375 87L476 71M375 87L450 76M375 87L468 80M375 87L460 84M375 87L484 88M375 87L501 89M375 87L391 99M375 87L406 98M375 87L427 98M375 87L418 102M375 87L377 104M375 87L429 113M375 87L439 110M375 87L399 115M375 87L416 115M375 87L383 121M375 87L433 129M375 87L445 99M375 87L465 97M375 87L477 106M375 87L466 120M375 87L443 124M375 87L452 127M375 87L460 125M375 87L474 125M375 87L464 133M375 87L455 140M375 87L442 143M375 87L468 142M418 90L367 93M418 90L378 94M418 90L448 57M418 90L472 56M418 90L460 61M418 90L470 63M418 90L486 64M418 90L496 70M418 90L476 71M418 90L480 78M418 90L492 82M418 90L501 89M418 90L468 89M418 90L406 98M418 90L418 102M418 90L377 104M418 90L399 108M418 90L410 108M418 90L429 113M418 90L383 112M418 90L399 115M418 90L416 115M418 90L393 125M418 90L407 133M418 90L399 139M418 90L432 139M418 90L417 147M418 90L457 102M418 90L453 107M418 90L471 109M418 90L502 112M418 90L466 120M418 90L489 119M418 90L443 124M418 90L460 125M418 90L442 132M418 90L455 140M367 93L400 94M367 93L459 53M367 93L472 56M367 93L460 61M367 93L470 63M367 93L496 70M367 93L451 70M367 93L492 82M367 93L484 88M367 93L391 99M367 93L418 102M367 93L410 108M367 93L429 113M367 93L416 115M367 93L383 121M367 93L393 125M367 93L401 127M367 93L423 125M367 93L433 129M367 93L422 137M367 93L432 139M367 93L417 147M367 93L445 99M367 93L498 99M367 93L457 102M367 93L477 106M367 93L502 112M367 93L443 124M367 93L460 125M367 93L481 126M367 93L464 133M367 93L442 143M378 94L400 94M378 94L472 56M378 94L460 61M378 94L470 63M378 94L486 64M378 94L496 70M378 94L442 69M378 94L476 71M378 94L468 80M378 94L492 82M378 94L501 89M378 94L391 99M378 94L406 98M378 94L418 102M378 94L383 112M378 94L416 115M378 94L413 122M378 94L423 125M378 94L433 129M378 94L407 133M378 94L422 137M378 94L432 139M378 94L445 99M378 94L465 97M378 94L498 99M378 94L457 102M378 94L446 112M378 94L502 112M378 94L443 124M378 94L460 125M378 94L474 125M378 94L481 126M378 94L442 132M378 94L455 140M378 94L468 142M400 94L448 57M400 94L459 53M400 94L472 56M400 94L470 63M400 94L442 69M400 94L451 70M400 94L450 76M400 94L468 80M400 94L484 88M400 94L501 89M400 94L449 89M400 94L468 89M400 94L391 99M400 94L427 98M400 94L418 102M400 94L377 104M400 94L383 121M400 94L413 122M400 94L393 125M400 94L423 125M400 94L433 129M400 94L407 133M400 94L416 131M400 94L399 139M400 94L445 99M400 94L481 97M400 94L498 99M400 94L457 102M400 94L453 107M400 94L446 112M400 94L466 120M400 94L452 127M400 94L474 125M400 94L468 142M448 45L472 56M448 45L470 63M448 45L451 70M448 45L450 76M448 45L480 78M448 45L468 89M448 45L391 99M448 45L399 108M448 45L410 108M448 45L383 121M448 45L413 122M448 45L423 125M448 45L433 129M448 45L407 133M448 45L416 131M448 45L422 137M448 45L445 99M448 45L465 97M448 45L457 102M448 45L471 109M448 45L502 112M448 45L489 119M448 45L443 124M448 45L452 127M448 45L460 125M448 45L474 125M448 45L481 126M448 45L464 133M448 45L455 140M448 45L468 142M448 57L459 53M448 57L472 56M448 57L470 63M448 57L442 69M448 57L451 70M448 57L450 76M448 57L468 80M448 57L480 78M448 57L492 82M448 57L484 88M448 57L501 89M448 57L391 99M448 57L406 98M448 57L418 102M448 57L410 108M448 57L439 110M448 57L383 112M448 57L416 115M448 57L401 127M448 57L422 137M448 57L417 147M448 57L453 107M448 57L477 106M448 57L466 120M448 57L489 119M448 57L443 124M448 57L460 125M448 57L474 125M448 57L464 133M459 53L472 56M459 53L470 63M459 53L462 72M459 53L476 71M459 53L468 80M459 53L492 82M459 53L460 84M459 53L484 88M459 53L501 89M459 53L406 98M459 53L427 98M459 53L432 95M459 53L410 108M459 53L429 113M459 53L439 110M459 53L399 115M459 53L413 122M459 53L401 127M459 53L407 133M459 53L416 131M459 53L399 139M459 53L417 147M459 53L445 99M459 53L481 97M459 53L471 109M459 53L502 112M459 53L466 120M459 53L443 124M459 53L460 125M459 53L481 126M472 56L470 63M472 56L486 64M472 56L442 69M472 56L462 72M472 56L476 71M472 56L450 76M472 56L492 82M472 56L484 88M472 56L468 89M472 56L391 99M472 56L427 98M472 56L418 102M472 56L377 104M472 56L410 108M472 56L439 110M472 56L399 115M472 56L362 119M472 56L393 125M472 56L401 127M472 56L423 125M472 56L407 133M472 56L422 137M472 56L417 147M472 56L465 97M472 56L498 99M472 56L471 109M472 56L446 112M472 56L443 124M472 56L442 132M472 56L464 133M472 56L455 140M460 61L470 63M460 61L496 70M460 61L462 72M460 61L468 80M460 61L480 78M460 61L492 82M460 61L460 84M460 61L501 89M460 61L468 89M460 61L391 99M460 61L427 98M460 61L410 108M460 61L439 110M460 61L399 115M460 61L362 119M460 61L383 121M460 61L393 125M460 61L401 127M460 61L433 129M460 61L399 139M460 61L432 139M460 61L445 99M460 61L498 99M460 61L453 107M460 61L471 109M460 61L446 112M460 61L502 112M460 61L466 120M460 61L489 119M460 61L443 124M460 61L481 126M470 63L486 64M470 63L442 69M470 63L451 70M470 63L462 72M470 63L476 71M470 63L468 80M470 63L492 82M470 63L484 88M470 63L391 99M470 63L406 98M470 63L418 102M470 63L429 113M470 63L416 115M470 63L383 121M470 63L413 122M470 63L393 125M470 63L401 127M470 63L407 133M470 63L416 131M470 63L422 137M470 63L399 139M470 63L432 139M470 63L417 147M470 63L446 112M470 63L443 124M470 63L460 125M470 63L474 125M470 63L455 140M486 64L450 76M486 64L460 84M486 64L468 89M486 64L427 98M486 64L418 102M486 64L377 104M486 64L410 108M486 64L416 115M486 64L423 125M486 64L433 129M486 64L422 137M486 64L445 99M486 64L481 97M486 64L498 99M486 64L453 107M486 64L471 109M486 64L446 112M486 64L502 112M486 64L443 124M486 64L452 127M486 64L460 125M486 64L481 126M486 64L455 140M486 64L468 142M496 70L451 70M496 70L462 72M496 70L450 76M496 70L468 80M496 70L484 88M496 70L406 98M496 70L432 95M496 70L377 104M496 70L399 108M496 70L383 112M496 70L399 115M496 70L416 115M496 70L393 125M496 70L407 133M496 70L422 137M496 70L432 139M496 70L465 97M496 70L477 106M496 70L471 109M496 70L489 119M496 70L481 126M496 70L442 132M496 70L464 133M496 70L468 142M442 69L476 71M442 69L450 76M442 69L492 82M442 69L484 88M442 69L449 89M442 69L432 95M442 69L410 108M442 69L429 113M442 69L416 115M442 69L362 119M442 69L393 125M442 69L423 125M442 69L433 129M442 69L407 133M442 69L416 131M442 69L422 137M442 69L417 147M442 69L445 99M442 69L481 97M442 69L498 99M442 69L457 102M442 69L453 107M442 69L477 106M442 69L486 107M442 69L471 109M442 69L502 112M442 69L466 120M442 69L481 126M442 69L442 132M451 70L476 71M451 70L450 76M451 70L492 82M451 70L484 88M451 70L449 89M451 70L406 98M451 70L432 95M451 70L418 102M451 70L377 104M451 70L439 110M451 70L399 115M451 70L416 115M451 70L423 125M451 70L416 131M451 70L422 137M451 70L432 139M451 70L417 147M451 70L453 107M451 70L477 106M451 70L486 107M451 70L471 109M451 70L443 124M451 70L460 125M451 70L464 133M462 72L484 88M462 72L391 99M462 72L406 98M462 72L418 102M462 72L377 104M462 72L399 108M462 72L410 108M462 72L399 115M462 72L362 119M462 72L413 122M462 72L393 125M462 72L423 125M462 72L433 129M462 72L407 133M462 72L416 131M462 72L432 139M462 72L445 99M462 72L465 97M462 72L498 99M462 72L457 102M462 72L477 106M462 72L471 109M462 72L489 119M462 72L452 127M462 72L474 125M462 72L481 126M462 72L442 143M476 71L468 80M476 71L501 89M476 71L468 89M476 71L406 98M476 71L399 108M476 71L410 108M476 71L429 113M476 71L439 110M476 71L383 112M476 71L362 119M476 71L383 121M476 71L393 125M476 71L401 127M476 71L445 99M476 71L465 97M476 71L481 97M476 71L477 106M476 71L486 107M476 71L471 109M476 71L466 120M476 71L489 119M476 71L443 124M476 71L452 127M476 71L442 132M476 71L464 133M476 71L455 140M450 76L501 89M450 76L449 89M450 76L406 98M450 76L427 98M450 76L432 95M450 76L429 113M450 76L383 112M450 76L362 119M450 76L383 121M450 76L413 122M450 76L401 127M450 76L423 125M450 76L422 137M450 76L417 147M450 76L445 99M450 76L453 107M450 76L477 106M450 76L471 109M450 76L446 112M450 76L466 120M450 76L489 119M450 76L481 126M450 76L442 132M450 76L455 140M450 76L468 142M468 80L460 84M468 80L468 89M468 80L427 98M468 80L432 95M468 80L377 104M468 80L399 108M468 80L399 115M468 80L416 115M468 80L413 122M468 80L393 125M468 80L401 127M468 80L433 129M468 80L432 139M468 80L417 147M468 80L445 99M468 80L481 97M468 80L453 107M468 80L486 107M468 80L446 112M468 80L443 124M468 80L442 143M468 80L468 142M480 78L460 84M480 78L484 88M480 78L501 89M480 78L468 89M480 78L432 95M480 78L377 104M480 78L399 108M480 78L410 108M480 78L383 112M480 78L399 115M480 78L413 122M480 78L393 125M480 78L401 127M480 78L433 129M480 78L399 139M480 78L432 139M480 78L417 147M480 78L457 102M480 78L443 124M480 78L474 125M480 78L442 132M480 78L455 140M480 78L468 142M492 82L460 84M492 82L484 88M492 82L501 89M492 82L449 89M492 82L468 89M492 82L410 108M492 82L429 113M492 82L439 110M492 82L383 112M492 82L399 115M492 82L383 121M492 82L407 133M492 82L422 137M492 82L432 139M492 82L465 97M492 82L477 106M492 82L502 112M492 82L466 120M492 82L489 119M492 82L452 127M492 82L460 125M492 82L442 132M492 82L464 133M460 84L501 89M460 84L449 89M460 84L468 89M460 84L406 98M460 84L427 98M460 84L439 110M460 84L383 112M460 84L399 115M460 84L416 115M460 84L362 119M460 84L383 121M460 84L413 122M460 84L433 129M460 84L416 131M460 84L422 137M460 84L399 139M460 84L432 139M460 84L445 99M460 84L481 97M460 84L457 102M460 84L477 106M460 84L471 109M460 84L489 119M460 84L443 124M460 84L452 127M460 84L474 125M460 84L455 140M460 84L442 143M460 84L468 142M484 88L449 89M484 88L406 98M484 88L427 98M484 88L432 95M484 88L377 104M484 88L410 108M484 88L439 110M484 88L399 115M484 88L416 115M484 88L383 121M484 88L413 122M484 88L401 127M484 88L423 125M484 88L407 133M484 88L416 131M484 88L422 137M484 88L399 139M484 88L432 139M484 88L481 97M484 88L453 107M484 88L477 106M484 88L486 107M484 88L471 109M484 88L466 120M484 88L489 119M484 88L452 127M484 88L460 125M484 88L474 125M484 88L481 126M484 88L442 132M484 88L464 133M501 89L449 89M501 89L468 89M501 89L377 104M501 89L429 113M501 89L439 110M501 89L399 115M501 89L416 115M501 89L362 119M501 89L401 127M501 89L433 129M501 89L407 133M501 89L422 137M501 89L399 139M501 89L445 99M501 89L465 97M501 89L457 102M501 89L471 109M501 89L489 119M501 89L481 126M501 89L464 133M501 89L455 140M449 89L468 89M449 89L391 99M449 89L406 98M449 89L427 98M449 89L432 95M449 89L418 102M449 89L429 113M449 89L383 112M449 89L416 115M449 89L433 129M449 89L416 131M449 89L432 139M449 89L445 99M449 89L465 97M449 89L481 97M449 89L457 102M449 89L453 107M449 89L477 106M449 89L471 109M449 89L502 112M449 89L452 127M449 89L460 125M449 89L474 125M449 89L442 132M449 89L464 133M468 89L391 99M468 89L406 98M468 89L427 98M468 89L377 104M468 89L383 112M468 89L416 115M468 89L362 119M468 89L413 122M468 89L393 125M468 89L401 127M468 89L423 125M468 89L416 131M468 89L465 97M468 89L481 97M468 89L471 109M468 89L446 112M468 89L489 119M468 89L452 127M468 89L460 125M468 89L474 125M468 89L464 133M391 99L432 95M391 99L429 113M391 99L399 115M391 99L416 115M391 99L383 121M391 99L413 122M391 99L423 125M391 99L407 133M391 99L399 139M391 99L432 139M391 99L417 147M391 99L445 99M391 99L465 97M391 99L481 97M391 99L498 99M391 99L457 102M391 99L453 107M391 99L446 112M391 99L466 120M391 99L489 119M391 99L452 127M391 99L474 125M391 99L481 126M406 98L418 102M406 98L399 108M406 98L410 108M406 98L362 119M406 98L383 121M406 98L401 127M406 98L423 125M406 98L433 129M406 98L407 133M406 98L422 137M406 98L399 139M406 98L432 139M406 98L465 97M406 98L481 97M406 98L453 107M406 98L477 106M406 98L471 109M406 98L446 112M406 98L466 120M406 98L489 119M406 98L443 124M406 98L452 127M406 98L460 125M406 98L442 132M406 98L442 143M427 98L432 95M427 98L399 108M427 98L410 108M427 98L439 110M427 98L399 115M427 98L383 121M427 98L393 125M427 98L407 133M427 98L416 131M427 98L432 139M427 98L417 147M427 98L465 97M427 98L498 99M427 98L457 102M427 98L453 107M427 98L471 109M427 98L502 112M427 98L466 120M427 98L474 125M427 98L481 126M427 98L464 133M427 98L455 140M427 98L442 143M432 95L429 113M432 95L439 110M432 95L399 115M432 95L362 119M432 95L383 121M432 95L393 125M432 95L407 133M432 95L416 131M432 95L432 139M432 95L481 97M432 95L498 99M432 95L457 102M432 95L477 106M432 95L471 109M432 95L446 112M432 95L443 124M432 95L452 127M432 95L442 132M432 95L442 143M432 95L468 142M418 102L410 108M418 102L383 112M418 102L399 115M418 102L383 121M418 102L413 122M418 102L393 125M418 102L401 127M418 102L433 129M418 102L407 133M418 102L422 137M418 102L399 139M418 102L432 139M418 102L417 147M418 102L481 97M418 102L498 99M418 102L453 107M418 102L477 106M418 102L486 107M418 102L471 109M418 102L502 112M418 102L466 120M418 102L442 132M418 102L468 142M377 104L399 108M377 104L429 113M377 104L383 112M377 104L399 115M377 104L416 115M377 104L413 122M377 104L401 127M377 104L423 125M377 104L407 133M377 104L416 131M377 104L422 137M377 104L445 99M377 104L453 107M377 104L471 109M377 104L446 112M377 104L502 112M377 104L466 120M377 104L489 119M377 104L443 124M377 104L452 127M377 104L474 125M377 104L455 140M399 108L399 115M399 108L362 119M399 108L413 122M399 108L401 127M399 108L433 129M399 108L399 139M399 108L481 97M399 108L477 106M399 108L502 112M399 108L466 120M399 108L489 119M399 108L443 124M399 108L452 127M399 108L460 125M399 108L481 126M399 108L442 132M399 108L464 133M399 108L442 143M410 108L429 113M410 108L399 115M410 108L401 127M410 108L407 133M410 108L417 147M410 108L481 97M410 108L498 99M410 108L457 102M410 108L486 107M410 108L446 112M410 108L466 120M410 108L443 124M410 108L452 127M410 108L442 132M410 108L464 133M410 108L468 142M429 113L399 115M429 113L416 115M429 113L413 122M429 113L393 125M429 113L401 127M429 113L433 129M429 113L399 139M429 113L481 97M429 113L486 107M429 113L446 112M429 113L502 112M429 113L442 132M429 113L442 143M439 110L383 112M439 110L399 115M439 110L416 115M439 110L413 122M439 110L393 125M439 110L401 127M439 110L407 133M439 110L416 131M439 110L399 139M439 110L445 99M439 110L477 106M439 110L446 112M439 110L466 120M439 110L489 119M439 110L443 124M439 110L474 125M439 110L455 140M439 110L468 142M383 112L399 115M383 112L416 115M383 112L362 119M383 112L413 122M383 112L393 125M383 112L401 127M383 112L423 125M383 112L433 129M383 112L407 133M383 112L422 137M383 112L432 139M383 112L498 99M383 112L453 107M383 112L477 106M383 112L486 107M383 112L502 112M383 112L466 120M383 112L489 119M383 112L443 124M383 112L460 125M383 112L474 125M383 112L464 133M383 112L468 142M399 115L383 121M399 115L413 122M399 115L393 125M399 115L416 131M399 115L422 137M399 115L465 97M399 115L457 102M399 115L453 107M399 115L477 106M399 115L446 112M399 115L502 112M399 115L443 124M399 115L460 125M399 115L455 140M399 115L442 143M416 115L383 121M416 115L413 122M416 115L393 125M416 115L401 127M416 115L407 133M416 115L416 131M416 115L399 139M416 115L417 147M416 115L445 99M416 115L465 97M416 115L498 99M416 115L457 102M416 115L453 107M416 115L477 106M416 115L443 124M416 115L460 125M416 115L474 125M416 115L464 133M416 115L455 140M362 119L393 125M362 119L401 127M362 119L423 125M362 119L433 129M362 119L422 137M362 119L399 139M362 119L432 139M362 119L481 97M362 119L457 102M362 119L453 107M362 119L477 106M362 119L486 107M362 119L466 120M362 119L489 119M362 119L443 124M362 119L452 127M362 119L474 125M362 119L464 133M362 119L455 140M383 121L423 125M383 121L433 129M383 121L432 139M383 121L417 147M383 121L445 99M383 121L481 97M383 121L477 106M383 121L471 109M383 121L489 119M383 121L481 126M383 121L442 132M383 121L464 133M413 122L433 129M413 122L416 131M413 122L399 139M413 122L445 99M413 122L481 97M413 122L453 107M413 122L502 112M413 122L489 119M413 122L452 127M413 122L460 125M413 122L474 125M413 122L442 132M413 122L455 140M393 125L401 127M393 125L407 133M393 125L422 137M393 125L399 139M393 125L465 97M393 125L486 107M393 125L502 112M393 125L489 119M393 125L452 127M393 125L442 132M393 125L455 140M393 125L442 143M401 127L423 125M401 127L407 133M401 127L399 139M401 127L481 97M401 127L457 102M401 127L453 107M401 127L486 107M401 127L471 109M401 127L502 112M401 127L466 120M401 127L460 125M401 127L481 126M423 125L416 131M423 125L422 137M423 125L465 97M423 125L477 106M423 125L446 112M423 125L502 112M423 125L466 120M423 125L452 127M423 125L460 125M423 125L464 133M423 125L442 143M433 129L416 131M433 129L432 139M433 129L445 99M433 129L465 97M433 129L481 97M433 129L498 99M433 129L457 102M433 129L446 112M433 129L460 125M433 129L481 126M433 129L464 133M433 129L442 143M433 129L468 142M407 133L422 137M407 133L432 139M407 133L477 106M407 133L486 107M407 133L471 109M407 133L502 112M407 133L489 119M407 133L443 124M407 133L481 126M407 133L442 132M407 133L464 133M407 133L442 143M416 131L422 137M416 131L417 147M416 131L465 97M416 131L498 99M416 131L477 106M416 131L471 109M416 131L446 112M416 131L502 112M416 131L481 126M416 131L455 140M416 131L468 142M422 137L399 139M422 137L432 139M422 137L417 147M422 137L481 97M422 137L477 106M422 137L471 109M422 137L446 112M422 137L502 112M422 137L466 120M422 137L443 124M422 137L460 125M422 137L474 125M422 137L442 132M422 137L464 133M422 137L442 143M399 139L498 99M399 139L457 102M399 139L453 107M399 139L477 106M399 139L486 107M399 139L446 112M399 139L502 112M399 139L443 124M399 139L452 127M399 139L460 125M399 139L474 125M399 139L464 133M399 139L455 140M399 139L442 143M399 139L468 142M432 139L465 97M432 139L498 99M432 139L453 107M432 139L477 106M432 139L502 112M432 139L489 119M432 139L452 127M432 139L474 125M432 139L481 126M432 139L442 132M432 139L464 133M432 139L455 140M417 147L445 99M417 147L465 97M417 147L498 99M417 147L457 102M417 147L477 106M417 147L486 107M417 147L471 109M417 147L489 119M417 147L460 125M417 147L464 133M445 99L465 97M445 99L498 99M445 99L471 109M445 99L466 120M445 99L489 119M445 99L443 124M445 99L474 125M445 99L442 132M445 99L455 140M445 99L468 142M465 97L481 97M465 97L498 99M465 97L486 107M465 97L502 112M465 97L466 120M465 97L443 124M465 97L452 127M465 97L460 125M465 97L442 132M481 97L486 107M481 97L502 112M481 97L466 120M481 97L452 127M481 97L460 125M481 97L442 132M481 97L455 140M481 97L468 142M498 99L471 109M498 99L466 120M498 99L489 119M498 99L443 124M498 99L442 132M498 99L455 140M498 99L442 143M498 99L468 142M457 102L486 107M457 102L471 109M457 102L452 127M457 102L460 125M457 102L474 125M457 102L481 126M453 107L477 106M453 107L486 107M453 107L471 109M453 107L489 119M453 107L443 124M453 107L464 133M453 107L455 140M453 107L442 143M477 106L486 107M477 106L471 109M477 106L446 112M477 106L489 119M477 106L460 125M477 106L474 125M477 106L442 132M477 106L464 133M477 106L442 143M477 106L468 142M486 107L446 112M486 107L502 112M486 107L466 120M486 107L489 119M486 107L443 124M486 107L452 127M486 107L474 125M486 107L464 133M486 107L455 140M471 109L446 112M471 109L502 112M471 109L443 124M471 109L474 125M471 109L481 126M471 109L442 132M471 109L468 142M446 112L502 112M446 112L466 120M446 112L489 119M446 112L443 124M446 112L460 125M446 112L481 126M446 112L464 133M446 112L442 143M446 112L468 142M502 112L443 124M502 112L481 126M502 112L442 132M502 112L464 133M466 120L443 124M466 120L460 125M466 120L474 125M466 120L442 132M466 120L455 140M466 120L468 142M489 119L443 124M489 119L452 127M489 119L460 125M489 119L474 125M489 119L481 126M489 119L464 133M443 124L452 127M443 124L481 126M443 124L464 133M443 124L442 143M443 124L468 142M452 127L481 126M452 127L442 132M452 127L455 140M452 127L442 143M460 125L481 126M460 125L442 132M460 125L455 140M460 125L442 143M474 125L481 126M474 125L442 132M474 125L464 133M474 125L468 142M481 126L442 132M481 126L464 133M442 132L464 133M442 132L442 143M442 132L468 142M442 143L468 142" stroke="#318a1b" stroke-width="0.50" stroke-opacity="0.45" fill="none"/>
<g fill="#f2dc3a"><circle cx="420.5" cy="41.8" r="2.2"/><circle cx="432.7" cy="42.2" r="2.2"/><circle cx="400.4" cy="52.0" r="2.2"/><circle cx="406.0" cy="50.2" r="2.2"/><circle cx="415.1" cy="53.8" r="2.2"/><circle cx="424.8" cy="50.2" r="2.2"/><circle cx="435.9" cy="54.3" r="2.2"/><circle cx="405.6" cy="60.1" r="2.2"/><circle cx="383.8" cy="63.6" r="2.2"/><circle cx="428.4" cy="64.0" r="2.2"/><circle cx="437.9" cy="61.8" r="2.2"/><circle cx="392.8" cy="68.1" r="2.2"/><circle cx="401.5" cy="66.3" r="2.2"/><circle cx="415.1" cy="68.6" r="2.2"/><circle cx="423.4" cy="67.6" r="2.2"/><circle cx="382.2" cy="71.9" r="2.2"/><circle cx="407.1" cy="74.6" r="2.2"/><circle cx="421.7" cy="75.4" r="2.2"/><circle cx="435.9" cy="74.7" r="2.2"/><circle cx="374.3" cy="78.0" r="2.2"/><circle cx="399.0" cy="83.3" r="2.2"/><circle cx="405.6" cy="83.3" r="2.2"/><circle cx="418.2" cy="82.4" r="2.2"/><circle cx="388.6" cy="84.8" r="2.2"/><circle cx="435.2" cy="86.0" r="2.2"/><circle cx="374.9" cy="87.3" r="2.2"/><circle cx="417.8" cy="89.6" r="2.2"/><circle cx="367.2" cy="92.6" r="2.2"/><circle cx="377.9" cy="94.1" r="2.2"/><circle cx="399.7" cy="94.1" r="2.2"/><circle cx="447.9" cy="45.2" r="2.2"/><circle cx="447.9" cy="57.4" r="2.2"/><circle cx="458.6" cy="52.9" r="2.2"/><circle cx="471.7" cy="56.5" r="2.2"/><circle cx="459.9" cy="61.0" r="2.2"/><circle cx="469.7" cy="63.3" r="2.2"/><circle cx="485.8" cy="64.4" r="2.2"/><circle cx="495.7" cy="70.1" r="2.2"/><circle cx="442.2" cy="69.4" r="2.2"/><circle cx="451.1" cy="70.4" r="2.2"/><circle cx="461.5" cy="72.0" r="2.2"/><circle cx="476.2" cy="71.3" r="2.2"/><circle cx="450.0" cy="76.3" r="2.2"/><circle cx="468.1" cy="79.6" r="2.2"/><circle cx="480.1" cy="78.3" r="2.2"/><circle cx="491.7" cy="82.1" r="2.2"/><circle cx="459.9" cy="84.2" r="2.2"/><circle cx="483.7" cy="88.2" r="2.2"/><circle cx="500.7" cy="89.0" r="2.2"/><circle cx="449.0" cy="89.2" r="2.2"/><circle cx="467.6" cy="88.7" r="2.2"/><circle cx="391.3" cy="98.9" r="2.2"/><circle cx="406.2" cy="98.4" r="2.2"/><circle cx="427.1" cy="98.1" r="2.2"/><circle cx="431.6" cy="95.0" r="2.2"/><circle cx="418.2" cy="102.0" r="2.2"/><circle cx="376.6" cy="104.3" r="2.2"/><circle cx="399.0" cy="107.9" r="2.2"/><circle cx="410.1" cy="108.3" r="2.2"/><circle cx="429.3" cy="112.7" r="2.2"/><circle cx="438.7" cy="110.0" r="2.2"/><circle cx="382.7" cy="111.5" r="2.2"/><circle cx="399.0" cy="114.7" r="2.2"/><circle cx="415.8" cy="114.7" r="2.2"/><circle cx="361.8" cy="118.6" r="2.2"/><circle cx="383.3" cy="121.3" r="2.2"/><circle cx="413.3" cy="121.7" r="2.2"/><circle cx="392.8" cy="125.4" r="2.2"/><circle cx="401.2" cy="126.7" r="2.2"/><circle cx="423.0" cy="124.9" r="2.2"/><circle cx="433.0" cy="128.8" r="2.2"/><circle cx="407.4" cy="133.0" r="2.2"/><circle cx="416.4" cy="130.8" r="2.2"/><circle cx="421.7" cy="136.9" r="2.2"/><circle cx="398.8" cy="138.7" r="2.2"/><circle cx="432.5" cy="138.7" r="2.2"/><circle cx="416.9" cy="146.9" r="2.2"/><circle cx="444.9" cy="98.9" r="2.2"/><circle cx="465.3" cy="96.6" r="2.2"/><circle cx="480.6" cy="96.8" r="2.2"/><circle cx="498.0" cy="98.9" r="2.2"/><circle cx="457.2" cy="102.5" r="2.2"/><circle cx="452.7" cy="107.4" r="2.2"/><circle cx="477.1" cy="105.6" r="2.2"/><circle cx="485.8" cy="107.0" r="2.2"/><circle cx="470.8" cy="109.1" r="2.2"/><circle cx="446.1" cy="112.4" r="2.2"/><circle cx="501.6" cy="111.5" r="2.2"/><circle cx="465.8" cy="119.5" r="2.2"/><circle cx="488.7" cy="119.0" r="2.2"/><circle cx="443.4" cy="124.5" r="2.2"/><circle cx="451.8" cy="126.7" r="2.2"/><circle cx="460.1" cy="125.4" r="2.2"/><circle cx="473.8" cy="125.4" r="2.2"/><circle cx="481.0" cy="125.8" r="2.2"/><circle cx="442.0" cy="132.4" r="2.2"/><circle cx="463.6" cy="133.0" r="2.2"/><circle cx="455.1" cy="139.8" r="2.2"/><circle cx="442.0" cy="143.3" r="2.2"/><circle cx="467.6" cy="142.3" r="2.2"/></g>
<g fill="#f11a12"></g>
<g fill="#5fdede"></g>
<path d="M593 42L572 52M593 42L598 51M593 42L554 65M593 42L597 69M593 42L552 74M593 42L579 77M593 42L595 78M593 42L559 88M593 42L577 86M593 42L590 93M593 42L607 42M593 42L610 55M593 42L649 57M593 42L612 63M593 42L636 62M593 42L664 66M593 42L616 72M593 42L626 73M593 42L625 78M593 42L670 85M593 42L644 92M593 42L536 97M593 42L562 103M593 42L572 98M593 42L601 102M593 42L570 113M593 42L570 120M593 42L530 125M593 42L586 128M593 42L573 133M593 42L596 131M593 42L589 137M593 42L605 99M593 42L620 103M593 42L642 100M593 42L658 101M593 42L621 117M593 42L618 131M593 42L659 132M593 42L607 135M593 42L607 146M572 52L578 51M572 52L598 51M572 52L554 65M572 52L587 71M572 52L552 74M572 52L559 88M572 52L544 91M572 52L590 93M572 52L607 42M572 52L610 55M572 52L623 58M572 52L635 53M572 52L649 57M572 52L664 66M572 52L674 72M572 52L616 72M572 52L653 73M572 52L610 77M572 52L625 78M572 52L670 85M572 52L609 89M572 52L624 93M572 52L662 92M572 52L547 98M572 52L562 103M572 52L578 102M572 52L601 102M572 52L591 106M572 52L546 109M572 52L570 113M572 52L582 113M572 52L588 120M572 52L586 128M572 52L589 137M572 52L605 99M572 52L648 114M572 52L621 117M572 52L667 125M572 52L618 131M572 52L627 133M572 52L636 132M572 52L651 132M572 52L607 135M572 52L617 139M572 52L607 146M572 52L631 147M572 52L617 151M578 51L588 54M578 51L598 51M578 51L577 62M578 51L554 65M578 51L597 69M578 51L579 77M578 51L595 78M578 51L577 86M578 51L544 91M578 51L590 93M578 51L623 45M578 51L623 58M578 51L635 53M578 51L612 63M578 51L636 62M578 51L646 65M578 51L616 72M578 51L626 73M578 51L653 73M578 51L645 82M578 51L670 85M578 51L609 89M578 51L636 87M578 51L624 93M578 51L644 92M578 51L662 92M578 51L536 97M578 51L547 98M578 51L562 103M578 51L601 102M578 51L591 106M578 51L546 109M578 51L570 113M578 51L582 113M578 51L586 128M578 51L573 133M578 51L589 137M578 51L605 99M578 51L620 103M578 51L642 100M578 51L677 103M578 51L648 114M578 51L655 111M578 51L667 125M578 51L618 131M578 51L627 133M578 51L651 132M578 51L607 135M578 51L617 139M578 51L607 146M578 51L631 147M578 51L617 151M588 54L577 62M588 54L554 65M588 54L552 74M588 54L577 86M588 54L544 91M588 54L590 93M588 54L610 55M588 54L612 63M588 54L636 62M588 54L646 65M588 54L664 66M588 54L674 72M588 54L616 72M588 54L638 74M588 54L610 77M588 54L625 78M588 54L670 85M588 54L636 87M588 54L644 92M588 54L536 97M588 54L547 98M588 54L562 103M588 54L572 98M588 54L578 102M588 54L601 102M588 54L591 106M588 54L546 109M588 54L582 113M588 54L570 120M588 54L588 120M588 54L586 128M588 54L589 137M588 54L605 99M588 54L620 103M588 54L642 100M588 54L658 101M588 54L648 114M588 54L655 111M588 54L621 117M588 54L667 125M588 54L618 131M588 54L627 133M588 54L659 132M588 54L607 135M588 54L617 139M588 54L607 146M588 54L631 147M598 51L577 62M598 51L554 65M598 51L597 69M598 51L579 77M598 51L595 78M598 51L577 86M598 51L544 91M598 51L590 93M598 51L607 42M598 51L623 45M598 51L610 55M598 51L623 58M598 51L635 53M598 51L649 57M598 51L612 63M598 51L636 62M598 51L646 65M598 51L674 72M598 51L616 72M598 51L626 73M598 51L653 73M598 51L625 78M598 51L670 85M598 51L609 89M598 51L624 93M598 51L644 92M598 51L536 97M598 51L562 103M598 51L572 98M598 51L578 102M598 51L601 102M598 51L591 106M598 51L546 109M598 51L570 113M598 51L582 113M598 51L588 120M598 51L586 128M598 51L573 133M598 51L596 131M598 51L589 137M598 51L595 144M598 51L620 103M598 51L642 100M598 51L677 103M598 51L667 125M598 51L636 132M598 51L617 139M598 51L607 146M598 51L617 151M577 62L554 65M577 62L597 69M577 62L552 74M577 62L595 78M577 62L577 86M577 62L544 91M577 62L623 45M577 62L610 55M577 62L635 53M577 62L649 57M577 62L612 63M577 62L674 72M577 62L616 72M577 62L626 73M577 62L638 74M577 62L670 85M577 62L636 87M577 62L562 103M577 62L578 102M577 62L601 102M577 62L591 106M577 62L588 120M577 62L530 125M577 62L586 128M577 62L573 133M577 62L596 131M577 62L589 137M577 62L595 144M577 62L620 103M577 62L658 101M577 62L648 114M577 62L655 111M577 62L664 112M577 62L621 117M577 62L667 125M577 62L618 131M577 62L627 133M577 62L651 132M577 62L659 132M577 62L617 139M577 62L607 146M577 62L631 147M577 62L617 151M554 65L597 69M554 65L552 74M554 65L579 77M554 65L595 78M554 65L577 86M554 65L607 42M554 65L610 55M554 65L612 63M554 65L646 65M554 65L664 66M554 65L674 72M554 65L616 72M554 65L626 73M554 65L653 73M554 65L645 82M554 65L636 87M554 65L624 93M554 65L662 92M554 65L536 97M554 65L547 98M554 65L570 113M554 65L582 113M554 65L588 120M554 65L530 125M554 65L596 131M554 65L605 99M554 65L620 103M554 65L642 100M554 65L658 101M554 65L655 111M554 65L667 125M554 65L627 133M554 65L636 132M554 65L651 132M554 65L659 132M554 65L607 135M554 65L617 139M554 65L631 147M587 71L552 74M587 71L579 77M587 71L595 78M587 71L559 88M587 71L577 86M587 71L590 93M587 71L607 42M587 71L623 58M587 71L635 53M587 71L649 57M587 71L612 63M587 71L636 62M587 71L646 65M587 71L638 74M587 71L653 73M587 71L610 77M587 71L625 78M587 71L645 82M587 71L609 89M587 71L636 87M587 71L624 93M587 71L644 92M587 71L662 92M587 71L536 97M587 71L572 98M587 71L578 102M587 71L601 102M587 71L582 113M587 71L530 125M587 71L589 137M587 71L595 144M587 71L605 99M587 71L620 103M587 71L677 103M587 71L648 114M587 71L664 112M587 71L667 125M587 71L627 133M587 71L636 132M587 71L651 132M587 71L607 146M587 71L617 151M597 69L595 78M597 69L559 88M597 69L544 91M597 69L607 42M597 69L623 58M597 69L635 53M597 69L649 57M597 69L636 62M597 69L664 66M597 69L674 72M597 69L653 73M597 69L610 77M597 69L625 78M597 69L645 82M597 69L609 89M597 69L636 87M597 69L662 92M597 69L536 97M597 69L547 98M597 69L572 98M597 69L601 102M597 69L591 106M597 69L570 113M597 69L582 113M597 69L570 120M597 69L588 120M597 69L530 125M597 69L573 133M597 69L596 131M597 69L595 144M597 69L605 99M597 69L658 101M597 69L655 111M597 69L664 112M597 69L618 131M597 69L617 139M597 69L617 151M552 74L577 86M552 74L544 91M552 74L590 93M552 74L607 42M552 74L623 45M552 74L635 53M552 74L636 62M552 74L674 72M552 74L616 72M552 74L626 73M552 74L653 73M552 74L625 78M552 74L645 82M552 74L670 85M552 74L636 87M552 74L624 93M552 74L662 92M552 74L547 98M552 74L562 103M552 74L601 102M552 74L591 106M552 74L546 109M552 74L570 113M552 74L582 113M552 74L586 128M552 74L596 131M552 74L589 137M552 74L595 144M552 74L605 99M552 74L642 100M552 74L658 101M552 74L677 103M552 74L664 112M552 74L621 117M552 74L627 133M552 74L636 132M552 74L659 132M552 74L607 135M552 74L617 139M552 74L607 146M552 74L617 151M579 77L595 78M579 77L577 86M579 77L544 91M579 77L623 45M579 77L610 55M579 77L636 62M579 77L646 65M579 77L664 66M579 77L674 72M579 77L616 72M579 77L610 77M579 77L645 82M579 77L624 93M579 77L662 92M579 77L562 103M579 77L578 102M579 77L591 106M579 77L546 109M579 77L570 113M579 77L588 120M579 77L586 128M579 77L573 133M579 77L596 131M579 77L589 137M579 77L642 100M579 77L658 101M579 77L677 103M579 77L648 114M579 77L655 111M579 77L664 112M579 77L667 125M579 77L618 131M579 77L627 133M579 77L636 132M579 77L659 132M579 77L607 135M579 77L617 139M579 77L607 146M579 77L631 147M579 77L617 151M595 78L559 88M595 78L544 91M595 78L590 93M595 78L607 42M595 78L623 45M595 78L610 55M595 78L649 57M595 78L636 62M595 78L646 65M595 78L664 66M595 78L674 72M595 78L616 72M595 78L653 73M595 78L645 82M595 78L670 85M595 78L609 89M595 78L624 93M595 78L644 92M595 78L662 92M595 78L536 97M595 78L572 98M595 78L578 102M595 78L601 102M595 78L591 106M595 78L546 109M595 78L582 113M595 78L588 120M595 78L586 128M595 78L596 131M595 78L589 137M595 78L595 144M595 78L642 100M595 78L677 103M595 78L648 114M595 78L655 111M595 78L621 117M595 78L667 125M595 78L651 132M595 78L659 132M595 78L617 139M595 78L631 147M559 88L577 86M559 88L607 42M559 88L610 55M559 88L635 53M559 88L649 57M559 88L612 63M559 88L646 65M559 88L664 66M559 88L616 72M559 88L638 74M559 88L653 73M559 88L625 78M559 88L645 82M559 88L670 85M559 88L609 89M559 88L662 92M559 88L562 103M559 88L572 98M559 88L578 102M559 88L591 106M559 88L546 109M559 88L570 113M559 88L582 113M559 88L570 120M559 88L530 125M559 88L586 128M559 88L596 131M559 88L595 144M559 88L605 99M559 88L620 103M559 88L642 100M559 88L658 101M559 88L655 111M559 88L667 125M559 88L618 131M559 88L651 132M559 88L659 132M559 88L607 135M559 88L617 139M559 88L607 146M559 88L617 151M577 86L590 93M577 86L607 42M577 86L610 55M577 86L623 58M577 86L635 53M577 86L649 57M577 86L612 63M577 86L636 62M577 86L646 65M577 86L664 66M577 86L674 72M577 86L616 72M577 86L626 73M577 86L610 77M577 86L670 85M577 86L609 89M577 86L636 87M577 86L624 93M577 86L536 97M577 86L572 98M577 86L601 102M577 86L591 106M577 86L570 113M577 86L582 113M577 86L588 120M577 86L586 128M577 86L596 131M577 86L595 144M577 86L605 99M577 86L620 103M577 86L642 100M577 86L658 101M577 86L677 103M577 86L655 111M577 86L667 125M577 86L618 131M577 86L636 132M577 86L659 132M577 86L607 135M577 86L607 146M544 91L590 93M544 91L607 42M544 91L610 55M544 91L636 62M544 91L664 66M544 91L626 73M544 91L653 73M544 91L625 78M544 91L670 85M544 91L636 87M544 91L644 92M544 91L662 92M544 91L536 97M544 91L547 98M544 91L562 103M544 91L601 102M544 91L582 113M544 91L586 128M544 91L596 131M544 91L589 137M544 91L605 99M544 91L620 103M544 91L658 101M544 91L677 103M544 91L648 114M544 91L621 117M544 91L667 125M544 91L636 132M544 91L651 132M544 91L659 132M544 91L617 139M544 91L607 146M544 91L631 147M590 93L607 42M590 93L635 53M590 93L612 63M590 93L636 62M590 93L646 65M590 93L664 66M590 93L616 72M590 93L638 74M590 93L653 73M590 93L610 77M590 93L625 78M590 93L670 85M590 93L636 87M590 93L624 93M590 93L662 92M590 93L536 97M590 93L547 98M590 93L562 103M590 93L572 98M590 93L578 102M590 93L601 102M590 93L546 109M590 93L530 125M590 93L573 133M590 93L596 131M590 93L589 137M590 93L605 99M590 93L620 103M590 93L648 114M590 93L655 111M590 93L664 112M590 93L636 132M590 93L651 132M590 93L607 146M590 93L631 147M607 42L623 45M607 42L610 55M607 42L623 58M607 42L635 53M607 42L649 57M607 42L612 63M607 42L636 62M607 42L646 65M607 42L664 66M607 42L674 72M607 42L626 73M607 42L638 74M607 42L610 77M607 42L625 78M607 42L645 82M607 42L670 85M607 42L609 89M607 42L636 87M607 42L662 92M607 42L536 97M607 42L547 98M607 42L562 103M607 42L601 102M607 42L591 106M607 42L582 113M607 42L570 120M607 42L588 120M607 42L596 131M607 42L589 137M607 42L620 103M607 42L642 100M607 42L658 101M607 42L648 114M607 42L621 117M607 42L636 132M607 42L651 132M607 42L659 132M607 42L607 135M607 42L631 147M607 42L617 151M623 45L610 55M623 45L623 58M623 45L635 53M623 45L649 57M623 45L636 62M623 45L664 66M623 45L626 73M623 45L653 73M623 45L610 77M623 45L670 85M623 45L609 89M623 45L636 87M623 45L624 93M623 45L644 92M623 45L662 92M623 45L562 103M623 45L572 98M623 45L578 102M623 45L601 102M623 45L546 109M623 45L570 113M623 45L582 113M623 45L588 120M623 45L530 125M623 45L586 128M623 45L573 133M623 45L596 131M623 45L589 137M623 45L605 99M623 45L620 103M623 45L642 100M623 45L648 114M623 45L664 112M623 45L667 125M623 45L627 133M623 45L636 132M623 45L651 132M623 45L607 135M623 45L607 146M623 45L631 147M623 45L617 151M610 55L623 58M610 55L635 53M610 55L612 63M610 55L636 62M610 55L664 66M610 55L674 72M610 55L616 72M610 55L626 73M610 55L653 73M610 55L610 77M610 55L625 78M610 55L645 82M610 55L670 85M610 55L609 89M610 55L547 98M610 55L562 103M610 55L572 98M610 55L578 102M610 55L601 102M610 55L546 109M610 55L570 113M610 55L582 113M610 55L530 125M610 55L586 128M610 55L596 131M610 55L595 144M610 55L620 103M610 55L658 101M610 55L677 103M610 55L648 114M610 55L618 131M610 55L627 133M610 55L636 132M610 55L659 132M610 55L617 139M610 55L607 146M610 55L631 147M623 58L635 53M623 58L649 57M623 58L646 65M623 58L664 66M623 58L616 72M623 58L626 73M623 58L638 74M623 58L653 73M623 58L610 77M623 58L625 78M623 58L609 89M623 58L636 87M623 58L644 92M623 58L662 92M623 58L536 97M623 58L572 98M623 58L578 102M623 58L546 109M623 58L570 120M623 58L588 120M623 58L586 128M623 58L573 133M623 58L596 131M623 58L589 137M623 58L595 144M623 58L605 99M623 58L620 103M623 58L642 100M623 58L658 101M623 58L648 114M623 58L655 111M623 58L627 133M623 58L651 132M623 58L659 132M623 58L607 135M623 58L617 139M623 58L631 147M623 58L617 151M635 53L649 57M635 53L612 63M635 53L616 72M635 53L626 73M635 53L610 77M635 53L625 78M635 53L645 82M635 53L609 89M635 53L624 93M635 53L644 92M635 53L662 92M635 53L562 103M635 53L578 102M635 53L546 109M635 53L570 113M635 53L582 113M635 53L530 125M635 53L586 128M635 53L573 133M635 53L589 137M635 53L605 99M635 53L620 103M635 53L642 100M635 53L658 101M635 53L677 103M635 53L648 114M635 53L664 112M635 53L621 117M635 53L659 132M635 53L607 135M635 53L617 139M635 53L631 147M635 53L617 151M649 57L636 62M649 57L646 65M649 57L616 72M649 57L626 73M649 57L638 74M649 57L645 82M649 57L609 89M649 57L624 93M649 57L536 97M649 57L547 98M649 57L572 98M649 57L601 102M649 57L570 113M649 57L570 120M649 57L588 120M649 57L573 133M649 57L595 144M649 57L605 99M649 57L620 103M649 57L642 100M649 57L658 101M649 57L677 103M649 57L648 114M649 57L655 111M649 57L667 125M649 57L618 131M649 57L627 133M649 57L651 132M649 57L631 147M649 57L617 151M612 63L636 62M612 63L646 65M612 63L664 66M612 63L638 74M612 63L653 73M612 63L610 77M612 63L625 78M612 63L645 82M612 63L670 85M612 63L609 89M612 63L624 93M612 63L644 92M612 63L662 92M612 63L572 98M612 63L578 102M612 63L601 102M612 63L591 106M612 63L546 109M612 63L582 113M612 63L573 133M612 63L596 131M612 63L589 137M612 63L620 103M612 63L642 100M612 63L658 101M612 63L677 103M612 63L648 114M612 63L655 111M612 63L621 117M612 63L618 131M612 63L627 133M612 63L636 132M612 63L659 132M612 63L617 139M612 63L607 146M636 62L664 66M636 62L674 72M636 62L626 73M636 62L653 73M636 62L610 77M636 62L645 82M636 62L670 85M636 62L609 89M636 62L636 87M636 62L536 97M636 62L562 103M636 62L572 98M636 62L601 102M636 62L591 106M636 62L546 109M636 62L570 113M636 62L588 120M636 62L586 128M636 62L596 131M636 62L589 137M636 62L595 144M636 62L642 100M636 62L655 111M636 62L664 112M636 62L621 117M636 62L651 132M636 62L659 132M636 62L617 139M636 62L631 147M636 62L617 151M646 65L664 66M646 65L674 72M646 65L626 73M646 65L638 74M646 65L653 73M646 65L610 77M646 65L625 78M646 65L645 82M646 65L670 85M646 65L636 87M646 65L624 93M646 65L547 98M646 65L562 103M646 65L578 102M646 65L601 102M646 65L591 106M646 65L546 109M646 65L570 113M646 65L582 113M646 65L588 120M646 65L530 125M646 65L573 133M646 65L596 131M646 65L589 137M646 65L605 99M646 65L620 103M646 65L642 100M646 65L658 101M646 65L677 103M646 65L655 111M646 65L621 117M646 65L667 125M646 65L627 133M646 65L651 132M646 65L617 139M646 65L607 146M664 66L674 72M664 66L616 72M664 66L653 73M664 66L610 77M664 66L625 78M664 66L645 82M664 66L636 87M664 66L624 93M664 66L644 92M664 66L547 98M664 66L578 102M664 66L591 106M664 66L582 113M664 66L570 120M664 66L530 125M664 66L586 128M664 66L573 133M664 66L620 103M664 66L642 100M664 66L658 101M664 66L677 103M664 66L648 114M664 66L655 111M664 66L621 117M664 66L618 131M664 66L636 132M664 66L659 132M664 66L607 135M664 66L607 146M664 66L631 147M664 66L617 151M674 72L626 73M674 72L638 74M674 72L653 73M674 72L645 82M674 72L609 89M674 72L636 87M674 72L624 93M674 72L644 92M674 72L578 102M674 72L601 102M674 72L582 113M674 72L570 120M674 72L530 125M674 72L586 128M674 72L573 133M674 72L596 131M674 72L589 137M674 72L642 100M674 72L658 101M674 72L677 103M674 72L667 125M674 72L618 131M674 72L627 133M674 72L659 132M674 72L607 135M674 72L607 146M674 72L631 147M674 72L617 151M616 72L638 74M616 72L625 78M616 72L624 93M616 72L662 92M616 72L536 97M616 72L547 98M616 72L572 98M616 72L578 102M616 72L601 102M616 72L546 109M616 72L582 113M616 72L588 120M616 72L530 125M616 72L589 137M616 72L620 103M616 72L642 100M616 72L658 101M616 72L677 103M616 72L648 114M616 72L655 111M616 72L664 112M616 72L621 117M616 72L636 132M616 72L617 139M616 72L607 146M616 72L631 147M616 72L617 151M626 73L638 74M626 73L645 82M626 73L670 85M626 73L609 89M626 73L636 87M626 73L624 93M626 73L644 92M626 73L662 92M626 73L547 98M626 73L572 98M626 73L601 102M626 73L591 106M626 73L582 113M626 73L570 120M626 73L588 120M626 73L586 128M626 73L573 133M626 73L596 131M626 73L589 137M626 73L595 144M626 73L605 99M626 73L620 103M626 73L642 100M626 73L658 101M626 73L677 103M626 73L648 114M626 73L655 111M626 73L664 112M626 73L621 117M626 73L667 125M626 73L636 132M626 73L651 132M626 73L659 132M626 73L617 139M626 73L607 146M638 74L653 73M638 74L610 77M638 74L625 78M638 74L645 82M638 74L670 85M638 74L662 92M638 74L536 97M638 74L547 98M638 74L601 102M638 74L546 109M638 74L570 113M638 74L582 113M638 74L586 128M638 74L596 131M638 74L589 137M638 74L605 99M638 74L620 103M638 74L642 100M638 74L677 103M638 74L648 114M638 74L655 111M638 74L667 125M638 74L636 132M638 74L651 132M638 74L659 132M638 74L607 135M638 74L617 139M638 74L607 146M638 74L631 147M653 73L625 78M653 73L645 82M653 73L670 85M653 73L609 89M653 73L636 87M653 73L624 93M653 73L644 92M653 73L536 97M653 73L562 103M653 73L572 98M653 73L578 102M653 73L601 102M653 73L546 109M653 73L570 113M653 73L582 113M653 73L586 128M653 73L620 103M653 73L642 100M653 73L658 101M653 73L677 103M653 73L655 111M653 73L621 117M653 73L667 125M653 73L607 135M653 73L607 146M653 73L617 151M610 77L625 78M610 77L645 82M610 77L670 85M610 77L609 89M610 77L636 87M610 77L624 93M610 77L644 92M610 77L662 92M610 77L536 97M610 77L547 98M610 77L562 103M610 77L572 98M610 77L578 102M610 77L601 102M610 77L591 106M610 77L546 109M610 77L570 113M610 77L570 120M610 77L588 120M610 77L530 125M610 77L573 133M610 77L589 137M610 77L595 144M610 77L605 99M610 77L620 103M610 77L642 100M610 77L658 101M610 77L648 114M610 77L655 111M610 77L667 125M610 77L627 133M610 77L636 132M610 77L659 132M610 77L607 135M610 77L617 139M610 77L631 147M625 78L645 82M625 78L609 89M625 78L636 87M625 78L644 92M625 78L662 92M625 78L536 97M625 78L562 103M625 78L572 98M625 78L601 102M625 78L591 106M625 78L570 120M625 78L530 125M625 78L573 133M625 78L589 137M625 78L595 144M625 78L605 99M625 78L620 103M625 78L642 100M625 78L658 101M625 78L648 114M625 78L664 112M625 78L621 117M625 78L667 125M625 78L618 131M625 78L627 133M625 78L659 132M625 78L631 147M625 78L617 151M645 82L609 89M645 82L636 87M645 82L624 93M645 82L644 92M645 82L662 92M645 82L536 97M645 82L547 98M645 82L562 103M645 82L578 102M645 82L601 102M645 82L570 120M645 82L588 120M645 82L530 125M645 82L586 128M645 82L589 137M645 82L595 144M645 82L642 100M645 82L658 101M645 82L677 103M645 82L648 114M645 82L664 112M645 82L621 117M645 82L618 131M645 82L636 132M645 82L659 132M645 82L617 139M645 82L631 147M645 82L617 151M670 85L609 89M670 85L636 87M670 85L624 93M670 85L662 92M670 85L547 98M670 85L562 103M670 85L572 98M670 85L578 102M670 85L601 102M670 85L591 106M670 85L546 109M670 85L570 120M670 85L588 120M670 85L530 125M670 85L586 128M670 85L605 99M670 85L658 101M670 85L648 114M670 85L655 111M670 85L664 112M670 85L621 117M670 85L636 132M670 85L651 132M670 85L607 135M670 85L617 139M670 85L631 147M609 89L624 93M609 89L662 92M609 89L572 98M609 89L578 102M609 89L601 102M609 89L546 109M609 89L570 113M609 89L582 113M609 89L588 120M609 89L530 125M609 89L573 133M609 89L596 131M609 89L589 137M609 89L605 99M609 89L620 103M609 89L642 100M609 89L648 114M609 89L655 111M609 89L664 112M609 89L621 117M609 89L618 131M609 89L627 133M609 89L636 132M609 89L651 132M609 89L607 135M609 89L607 146M609 89L631 147M609 89L617 151M636 87L624 93M636 87L644 92M636 87L536 97M636 87L547 98M636 87L562 103M636 87L591 106M636 87L546 109M636 87L582 113M636 87L530 125M636 87L586 128M636 87L596 131M636 87L589 137M636 87L620 103M636 87L642 100M636 87L658 101M636 87L677 103M636 87L648 114M636 87L664 112M636 87L667 125M636 87L627 133M636 87L636 132M636 87L651 132M636 87L659 132M636 87L617 139M636 87L607 146M636 87L631 147M636 87L617 151M624 93L662 92M624 93L536 97M624 93L572 98M624 93L578 102M624 93L591 106M624 93L570 113M624 93L582 113M624 93L570 120M624 93L586 128M624 93L573 133M624 93L589 137M624 93L595 144M624 93L648 114M624 93L655 111M624 93L621 117M624 93L667 125M624 93L636 132M624 93L651 132M624 93L659 132M624 93L631 147M624 93L617 151M644 92L662 92M644 92L536 97M644 92L547 98M644 92L562 103M644 92L572 98M644 92L570 113M644 92L570 120M644 92L530 125M644 92L586 128M644 92L596 131M644 92L595 144M644 92L620 103M644 92L642 100M644 92L648 114M644 92L655 111M644 92L664 112M644 92L667 125M644 92L618 131M644 92L627 133M644 92L651 132M644 92L659 132M644 92L617 139M644 92L631 147M644 92L617 151M662 92L536 97M662 92L572 98M662 92L591 106M662 92L570 113M662 92L582 113M662 92L588 120M662 92L530 125M662 92L573 133M662 92L596 131M662 92L595 144M662 92L605 99M662 92L620 103M662 92L642 100M662 92L658 101M662 92L677 103M662 92L621 117M662 92L618 131M662 92L607 135M662 92L607 146M536 97L547 98M536 97L562 103M536 97L572 98M536 97L578 102M536 97L546 109M536 97L570 113M536 97L570 120M536 97L588 120M536 97L586 128M536 97L573 133M536 97L596 131M536 97L589 137M536 97L605 99M536 97L677 103M536 97L648 114M536 97L655 111M536 97L664 112M536 97L621 117M536 97L667 125M536 97L636 132M536 97L651 132M536 97L607 135M536 97L631 147M547 98L572 98M547 98L578 102M547 98L591 106M547 98L582 113M547 98L570 120M547 98L573 133M547 98L596 131M547 98L595 144M547 98L605 99M547 98L642 100M547 98L677 103M547 98L648 114M547 98L664 112M547 98L659 132M547 98L617 151M562 103L572 98M562 103L578 102M562 103L546 109M562 103L582 113M562 103L570 120M562 103L588 120M562 103L530 125M562 103L573 133M562 103L596 131M562 103L595 144M562 103L620 103M562 103L642 100M562 103L677 103M562 103L648 114M562 103L655 111M562 103L664 112M562 103L621 117M562 103L667 125M562 103L627 133M562 103L636 132M562 103L659 132M562 103L617 139M562 103L631 147M562 103L617 151M572 98L578 102M572 98L591 106M572 98L546 109M572 98L570 113M572 98L582 113M572 98L570 120M572 98L530 125M572 98L586 128M572 98L573 133M572 98L596 131M572 98L595 144M572 98L620 103M572 98L658 101M572 98L677 103M572 98L648 114M572 98L655 111M572 98L664 112M572 98L667 125M572 98L627 133M572 98L636 132M572 98L651 132M572 98L617 139M572 98L607 146M572 98L631 147M572 98L617 151M578 102L601 102M578 102L591 106M578 102L570 113M578 102L570 120M578 102L588 120M578 102L530 125M578 102L586 128M578 102L596 131M578 102L589 137M578 102L620 103M578 102L677 103M578 102L648 114M578 102L655 111M578 102L621 117M578 102L618 131M578 102L651 132M578 102L659 132M578 102L607 135M578 102L617 139M578 102L607 146M578 102L631 147M601 102L591 106M601 102L530 125M601 102L586 128M601 102L605 99M601 102L620 103M601 102L642 100M601 102L658 101M601 102L677 103M601 102L648 114M601 102L664 112M601 102L667 125M601 102L618 131M601 102L627 133M601 102L651 132M601 102L607 135M601 102L617 139M601 102L607 146M601 102L631 147M601 102L617 151M591 106L570 113M591 106L582 113M591 106L570 120M591 106L530 125M591 106L573 133M591 106L596 131M591 106L595 144M591 106L605 99M591 106L620 103M591 106L658 101M591 106L677 103M591 106L648 114M591 106L655 111M591 106L664 112M591 106L667 125M591 106L618 131M591 106L627 133M591 106L636 132M591 106L607 135M591 106L607 146M591 106L631 147M591 106L617 151M546 109L582 113M546 109L570 120M546 109L588 120M546 109L530 125M546 109L586 128M546 109L605 99M546 109L620 103M546 109L658 101M546 109L648 114M546 109L664 112M546 109L621 117M546 109L667 125M546 109L618 131M546 109L627 133M546 109L636 132M546 109L659 132M546 109L617 151M570 113L570 120M570 113L573 133M570 113L596 131M570 113L620 103M570 113L655 111M570 113L664 112M570 113L618 131M570 113L636 132M570 113L651 132M570 113L659 132M570 113L607 135M570 113L607 146M570 113L617 151M582 113L570 120M582 113L586 128M582 113L573 133M582 113L596 131M582 113L595 144M582 113L605 99M582 113L620 103M582 113L642 100M582 113L677 103M582 113L621 117M582 113L667 125M582 113L618 131M582 113L627 133M582 113L636 132M582 113L607 135M582 113L631 147M570 120L588 120M570 120L530 125M570 120L586 128M570 120L596 131M570 120L589 137M570 120L605 99M570 120L620 103M570 120L642 100M570 120L658 101M570 120L648 114M570 120L664 112M570 120L621 117M570 120L618 131M570 120L627 133M570 120L651 132M570 120L659 132M570 120L607 135M570 120L617 139M570 120L631 147M570 120L617 151M588 120L530 125M588 120L586 128M588 120L573 133M588 120L596 131M588 120L595 144M588 120L605 99M588 120L620 103M588 120L642 100M588 120L658 101M588 120L648 114M588 120L655 111M588 120L664 112M588 120L636 132M588 120L651 132M588 120L617 139M588 120L607 146M588 120L631 147M588 120L617 151M530 125L573 133M530 125L595 144M530 125L620 103M530 125L642 100M530 125L658 101M530 125L648 114M530 125L664 112M530 125L621 117M530 125L627 133M530 125L651 132M530 125L607 135M530 125L617 139M530 125L631 147M586 128L573 133M586 128L596 131M586 128L589 137M586 128L595 144M586 128L605 99M586 128L620 103M586 128L658 101M586 128L655 111M586 128L667 125M586 128L618 131M586 128L627 133M586 128L636 132M586 128L651 132M586 128L659 132M586 128L617 139M586 128L631 147M573 133L596 131M573 133L595 144M573 133L620 103M573 133L658 101M573 133L648 114M573 133L655 111M573 133L664 112M573 133L667 125M573 133L627 133M573 133L651 132M573 133L659 132M573 133L607 135M573 133L607 146M573 133L631 147M573 133L617 151M596 131L589 137M596 131L595 144M596 131L605 99M596 131L620 103M596 131L658 101M596 131L655 111M596 131L664 112M596 131L621 117M596 131L627 133M596 131L636 132M596 131L651 132M596 131L607 135M596 131L631 147M589 137L605 99M589 137L677 103M589 137L655 111M589 137L667 125M589 137L659 132M589 137L607 146M589 137L631 147M589 137L617 151M595 144L605 99M595 144L620 103M595 144L655 111M595 144L664 112M595 144L667 125M595 144L618 131M595 144L636 132M595 144L651 132M595 144L659 132M595 144L607 135M595 144L607 146M605 99L642 100M605 99L677 103M605 99L648 114M605 99L664 112M605 99L667 125M605 99L618 131M605 99L627 133M605 99L636 132M605 99L659 132M605 99L607 146M605 99L617 151M620 103L642 100M620 103L658 101M620 103L655 111M620 103L621 117M620 103L667 125M620 103L618 131M620 103L636 132M620 103L651 132M620 103L659 132M620 103L607 135M620 103L617 139M620 103L607 146M620 103L631 147M620 103L617 151M642 100L677 103M642 100L664 112M642 100L621 117M642 100L627 133M642 100L651 132M642 100L607 135M642 100L617 139M642 100L607 146M658 101L648 114M658 101L621 117M658 101L618 131M658 101L627 133M658 101L607 135M658 101L617 139M658 101L607 146M658 101L617 151M677 103L648 114M677 103L655 111M677 103L664 112M677 103L667 125M677 103L618 131M677 103L627 133M677 103L636 132M677 103L607 135M677 103L617 139M648 114L664 112M648 114L621 117M648 114L667 125M648 114L618 131M648 114L627 133M648 114L636 132M648 114L651 132M648 114L607 135M648 114L617 139M648 114L607 146M648 114L631 147M648 114L617 151M655 111L664 112M655 111L618 131M655 111L659 132M655 111L617 139M655 111L607 146M655 111L617 151M664 112L618 131M664 112L627 133M664 112L651 132M664 112L617 139M664 112L607 146M664 112L631 147M621 117L636 132M621 117L607 135M621 117L617 139M621 117L607 146M621 117L617 151M667 125L618 131M667 125L627 133M667 125L636 132M667 125L651 132M667 125L659 132M667 125L607 146M667 125L631 147M667 125L617 151M618 131L627 133M618 131L636 132M618 131L651 132M618 131L617 139M618 131L617 151M627 133L636 132M627 133L651 132M627 133L659 132M627 133L607 135M627 133L617 139M627 133L617 151M636 132L607 135M636 132L631 147M651 132L607 135M651 132L617 139M651 132L631 147M651 132L617 151M659 132L607 135M607 135L617 139M607 135L607 146M607 135L631 147M607 135L617 151M617 139L607 146M617 139L631 147M617 139L617 151M607 146L631 147M631 147L617 151" stroke="#318a1b" stroke-width="0.50" stroke-opacity="0.45" fill="none"/>
<path d="M563.5 70.0L633.1 107.0M572.8 67.8L628.1 112.4M602.0 65.4L591.2 85.6M591.2 85.6L579.0 126.0M543.4 80.6L579.0 126.0M570.3 86.9L579.0 126.0M553.1 116.5L579.0 126.0M553.6 127.2L579.0 126.0M563.5 132.1L579.0 126.0M569.7 146.4L579.0 126.0M590.0 154.7L579.0 126.0M602.9 118.1L579.0 126.0M579.0 126.0L644.7 149.1M579.6 139.8L563.5 132.1M602.9 118.1L613.8 115.4M613.8 115.4L628.1 112.4M613.8 115.4L595.0 96.0M657.8 81.2L642.4 125.4M642.4 125.4L640.3 140.1M628.1 112.4L642.4 125.4M591.2 85.6L615.0 101.0" stroke="#c8321e" stroke-width="0.70" stroke-opacity="0.85" fill="none"/>
<g fill="#f2dc3a"><circle cx="593.4" cy="41.8" r="2.2"/><circle cx="571.9" cy="52.4" r="2.2"/><circle cx="577.8" cy="50.6" r="2.2"/><circle cx="587.6" cy="54.3" r="2.2"/><circle cx="598.0" cy="50.7" r="2.2"/><circle cx="577.3" cy="61.5" r="2.2"/><circle cx="553.6" cy="65.1" r="2.2"/><circle cx="587.3" cy="70.8" r="2.2"/><circle cx="596.6" cy="69.4" r="2.2"/><circle cx="552.2" cy="73.8" r="2.2"/><circle cx="578.7" cy="77.1" r="2.2"/><circle cx="594.8" cy="78.0" r="2.2"/><circle cx="559.0" cy="87.8" r="2.2"/><circle cx="577.4" cy="86.5" r="2.2"/><circle cx="543.8" cy="90.8" r="2.2"/><circle cx="590.3" cy="92.6" r="2.2"/><circle cx="606.8" cy="42.2" r="2.2"/><circle cx="623.3" cy="45.4" r="2.2"/><circle cx="610.2" cy="55.0" r="2.2"/><circle cx="623.3" cy="58.3" r="2.2"/><circle cx="634.9" cy="53.4" r="2.2"/><circle cx="648.7" cy="57.4" r="2.2"/><circle cx="612.5" cy="63.3" r="2.2"/><circle cx="635.8" cy="62.2" r="2.2"/><circle cx="646.5" cy="65.1" r="2.2"/><circle cx="664.1" cy="66.3" r="2.2"/><circle cx="674.3" cy="72.2" r="2.2"/><circle cx="616.5" cy="71.7" r="2.2"/><circle cx="626.5" cy="72.6" r="2.2"/><circle cx="637.6" cy="74.4" r="2.2"/><circle cx="653.3" cy="73.1" r="2.2"/><circle cx="610.4" cy="77.4" r="2.2"/><circle cx="625.4" cy="78.5" r="2.2"/><circle cx="644.7" cy="82.4" r="2.2"/><circle cx="670.2" cy="85.1" r="2.2"/><circle cx="609.3" cy="88.7" r="2.2"/><circle cx="636.2" cy="87.4" r="2.2"/><circle cx="624.2" cy="92.6" r="2.2"/><circle cx="643.8" cy="91.9" r="2.2"/><circle cx="661.7" cy="91.9" r="2.2"/><circle cx="536.3" cy="96.6" r="2.2"/><circle cx="547.0" cy="98.4" r="2.2"/><circle cx="562.0" cy="103.4" r="2.2"/><circle cx="572.1" cy="98.4" r="2.2"/><circle cx="578.2" cy="102.5" r="2.2"/><circle cx="600.7" cy="102.2" r="2.2"/><circle cx="590.9" cy="106.5" r="2.2"/><circle cx="546.5" cy="109.2" r="2.2"/><circle cx="570.1" cy="112.9" r="2.2"/><circle cx="582.3" cy="113.3" r="2.2"/><circle cx="570.3" cy="120.1" r="2.2"/><circle cx="588.5" cy="120.4" r="2.2"/><circle cx="530.4" cy="124.9" r="2.2"/><circle cx="585.9" cy="127.6" r="2.2"/><circle cx="572.8" cy="133.0" r="2.2"/><circle cx="596.2" cy="131.2" r="2.2"/><circle cx="588.9" cy="137.4" r="2.2"/><circle cx="594.8" cy="144.0" r="2.2"/><circle cx="605.4" cy="98.9" r="2.2"/><circle cx="619.7" cy="103.1" r="2.2"/><circle cx="641.7" cy="100.4" r="2.2"/><circle cx="658.2" cy="100.7" r="2.2"/><circle cx="677.0" cy="103.1" r="2.2"/><circle cx="648.0" cy="114.2" r="2.2"/><circle cx="654.6" cy="110.6" r="2.2"/><circle cx="663.9" cy="112.0" r="2.2"/><circle cx="621.1" cy="117.4" r="2.2"/><circle cx="666.8" cy="124.9" r="2.2"/><circle cx="618.3" cy="130.8" r="2.2"/><circle cx="627.2" cy="133.0" r="2.2"/><circle cx="636.3" cy="131.7" r="2.2"/><circle cx="651.4" cy="131.7" r="2.2"/><circle cx="658.7" cy="132.1" r="2.2"/><circle cx="607.2" cy="135.3" r="2.2"/><circle cx="616.6" cy="139.2" r="2.2"/><circle cx="606.6" cy="146.0" r="2.2"/><circle cx="630.8" cy="147.3" r="2.2"/><circle cx="616.8" cy="151.2" r="2.2"/></g>
<g fill="#f11a12"><circle cx="563.5" cy="69.9" r="2.2"/><circle cx="572.8" cy="67.8" r="2.2"/><circle cx="602.0" cy="65.4" r="2.2"/><circle cx="543.4" cy="80.6" r="2.2"/><circle cx="570.3" cy="86.9" r="2.2"/><circle cx="591.2" cy="85.6" r="2.2"/><circle cx="657.8" cy="81.2" r="2.2"/><circle cx="553.1" cy="116.5" r="2.2"/><circle cx="602.9" cy="118.1" r="2.2"/><circle cx="553.6" cy="127.2" r="2.2"/><circle cx="563.5" cy="132.1" r="2.2"/><circle cx="579.6" cy="139.8" r="2.2"/><circle cx="569.7" cy="146.4" r="2.2"/><circle cx="590.0" cy="154.7" r="2.2"/><circle cx="633.1" cy="107.0" r="2.2"/><circle cx="628.1" cy="112.4" r="2.2"/><circle cx="613.8" cy="115.4" r="2.2"/><circle cx="642.4" cy="125.4" r="2.2"/><circle cx="640.3" cy="140.1" r="2.2"/><circle cx="644.7" cy="149.1" r="2.2"/></g>
<g fill="#5fdede"></g>
<polygon points="363.6,254.5 368.9,228.1 376.1,213.0 386.0,197.8 403.0,185.6 423.9,175.4 436.6,176.1 452.4,178.8 476.5,190.4 491.4,198.6 501.2,204.4 506.6,223.5 507.5,247.2 472.6,278.2 420.4,283.5 401.2,274.9" fill="#fbf9ef"/>
<path d="M437 176L409 184M437 176L404 200M437 176L418 203M437 176L408 218M437 176L391 220M437 176L439 209M437 176L464 195M437 176L491 199M437 176L501 204M437 176L466 207M437 176L473 214M437 176L454 224M437 176L472 223M437 176L380 230M437 176L421 225M437 176L394 234M437 176L435 230M437 176L413 244M437 176L419 250M437 176L364 254M437 176L386 257M437 176L404 263M437 176L419 266M437 176L425 273M437 176L437 275M437 176L457 243M437 176L482 241M437 176L491 242M437 176L494 255M437 176L464 262M437 176L479 262M437 176L468 269M409 184L418 203M409 184L425 210M409 184L408 218M409 184L439 209M409 184L446 204M409 184L466 207M409 184L473 214M409 184L486 213M409 184L497 217M409 184L439 220M409 184L464 219M409 184L380 230M409 184L421 225M409 184L402 243M409 184L413 244M409 184L386 257M409 184L416 258M409 184L427 261M409 184L449 234M409 184L482 241M409 184L491 242M409 184L456 263M409 184L464 262M432 198L404 200M432 198L425 210M432 198L408 218M432 198L391 220M432 198L452 179M432 198L464 195M432 198L446 204M432 198L466 207M432 198L454 211M432 198L473 214M432 198L486 213M432 198L472 223M432 198L409 234M432 198L421 225M432 198L394 234M432 198L435 230M432 198L402 243M432 198L413 244M432 198L364 254M432 198L386 257M432 198L404 263M432 198L427 261M432 198L437 264M432 198L411 269M432 198L425 273M432 198L437 275M432 198L449 234M432 198L482 241M432 198L443 246M432 198L464 262M432 198L479 262M432 198L446 279M404 200L425 210M404 200L376 213M404 200L408 218M404 200L476 190M404 200L464 195M404 200L501 204M404 200L446 204M404 200L466 207M404 200L454 211M404 200L486 213M404 200L439 220M404 200L421 225M404 200L435 230M404 200L385 247M404 200L419 250M404 200L404 263M404 200L411 269M404 200L449 234M404 200L504 234M404 200L462 238M404 200L457 243M404 200L482 241M404 200L491 242M404 200L443 246M404 200L494 255M418 203L425 210M418 203L376 213M418 203L408 218M418 203L377 222M418 203L452 179M418 203L476 190M418 203L501 204M418 203L486 213M418 203L439 220M418 203L421 225M418 203L394 234M418 203L435 230M418 203L421 237M418 203L413 244M418 203L385 247M418 203L419 250M418 203L364 254M418 203L416 258M418 203L404 263M418 203L411 269M418 203L437 275M418 203L449 234M418 203L504 234M418 203L462 238M418 203L482 241M418 203L443 246M418 203L464 262M418 203L479 262M418 203L446 279M425 210L376 213M425 210L421 217M425 210L408 218M425 210L391 220M425 210L452 179M425 210L476 190M425 210L442 196M425 210L501 204M425 210L466 207M425 210L454 211M425 210L473 214M425 210L497 217M425 210L439 220M425 210L454 224M425 210L380 230M425 210L409 234M425 210L421 225M425 210L435 230M425 210L419 250M425 210L364 254M425 210L386 257M425 210L416 258M425 210L404 263M425 210L411 269M425 210L419 266M425 210L425 273M425 210L504 234M425 210L482 241M425 210L491 242M425 210L443 246M425 210L468 269M376 213L408 218M376 213L391 220M376 213L377 222M376 213L452 179M376 213L454 211M376 213L473 214M376 213L497 217M376 213L394 234M376 213L435 230M376 213L402 243M376 213L413 244M376 213L419 250M376 213L364 254M376 213L437 264M376 213L411 269M376 213L419 266M376 213L425 273M376 213L504 234M376 213L457 243M376 213L482 241M376 213L476 245M376 213L464 262M376 213L446 279M421 217L391 220M421 217L377 222M421 217L439 209M421 217L442 196M421 217L464 195M421 217L466 207M421 217L473 214M421 217L486 213M421 217L497 217M421 217L454 224M421 217L380 230M421 217L409 234M421 217L435 230M421 217L404 263M421 217L437 264M421 217L449 234M421 217L457 243M421 217L476 245M421 217L464 262M421 217L446 279M408 218L377 222M408 218L452 179M408 218L476 190M408 218L442 196M408 218L491 199M408 218L454 211M408 218L473 214M408 218L486 213M408 218L439 220M408 218L472 223M408 218L380 230M408 218L409 234M408 218L421 225M408 218L435 230M408 218L421 237M408 218L402 243M408 218L416 258M408 218L427 261M408 218L419 266M408 218L437 275M408 218L504 234M408 218L457 243M408 218L482 241M408 218L491 242M408 218L443 246M408 218L476 245M408 218L464 262M408 218L479 262M408 218L446 279M391 220L377 222M391 220L452 179M391 220L464 195M391 220L491 199M391 220L501 204M391 220L446 204M391 220L466 207M391 220L486 213M391 220L497 217M391 220L439 220M391 220L464 219M391 220L454 224M391 220L472 223M391 220L380 230M391 220L435 230M391 220L402 243M391 220L364 254M391 220L386 257M391 220L437 264M391 220L419 266M391 220L449 234M391 220L504 234M391 220L491 242M391 220L443 246M391 220L456 263M391 220L464 262M391 220L468 269M391 220L446 279M377 222L439 209M377 222L442 196M377 222L491 199M377 222L501 204M377 222L454 224M377 222L472 223M377 222L409 234M377 222L421 225M377 222L435 230M377 222L402 243M377 222L413 244M377 222L386 257M377 222L416 258M377 222L437 264M377 222L425 273M377 222L437 275M377 222L449 234M377 222L457 243M377 222L491 242M377 222L476 245M377 222L479 262M377 222L468 269M377 222L446 279M439 209L476 190M439 209L491 199M439 209L497 217M439 209L439 220M439 209L380 230M439 209L409 234M439 209L394 234M439 209L435 230M439 209L421 237M439 209L364 254M439 209L416 258M439 209L411 269M439 209L425 273M439 209L449 234M439 209L457 243M439 209L482 241M439 209L464 262M439 209L468 269M452 179L442 196M452 179L464 195M452 179L491 199M452 179L501 204M452 179L446 204M452 179L454 211M452 179L464 219M452 179L380 230M452 179L409 234M452 179L421 225M452 179L394 234M452 179L402 243M452 179L385 247M452 179L419 250M452 179L364 254M452 179L416 258M452 179L427 261M452 179L437 264M452 179L419 266M452 179L449 234M452 179L504 234M452 179L494 255M452 179L479 262M476 190L464 195M476 190L501 204M476 190L454 211M476 190L486 213M476 190L497 217M476 190L439 220M476 190L464 219M476 190L454 224M476 190L409 234M476 190L421 225M476 190L394 234M476 190L421 237M476 190L413 244M476 190L385 247M476 190L386 257M476 190L416 258M476 190L427 261M476 190L419 266M476 190L425 273M476 190L437 275M476 190L449 234M476 190L504 234M476 190L456 263M476 190L464 262M476 190L468 269M476 190L446 279M442 196L501 204M442 196L446 204M442 196L466 207M442 196L454 211M442 196L473 214M442 196L497 217M442 196L439 220M442 196L464 219M442 196L380 230M442 196L409 234M442 196L421 225M442 196L421 237M442 196L402 243M442 196L413 244M442 196L385 247M442 196L416 258M442 196L404 263M442 196L427 261M442 196L437 264M442 196L419 266M442 196L425 273M442 196L437 275M442 196L504 234M442 196L462 238M442 196L457 243M442 196L456 263M442 196L464 262M442 196L468 269M464 195L501 204M464 195L446 204M464 195L466 207M464 195L486 213M464 195L497 217M464 195L464 219M464 195L472 223M464 195L421 225M464 195L421 237M464 195L419 250M464 195L404 263M464 195L437 264M464 195L411 269M464 195L457 243M464 195L482 241M464 195L491 242M464 195L476 245M464 195L494 255M464 195L456 263M464 195L464 262M464 195L468 269M464 195L446 279M491 199L501 204M491 199L466 207M491 199L454 211M491 199L473 214M491 199L486 213M491 199L497 217M491 199L439 220M491 199L464 219M491 199L454 224M491 199L409 234M491 199L421 225M491 199L435 230M491 199L413 244M491 199L419 250M491 199L427 261M491 199L419 266M491 199L425 273M491 199L437 275M491 199L449 234M491 199L504 234M491 199L457 243M491 199L482 241M491 199L476 245M491 199L494 255M491 199L456 263M491 199L464 262M491 199L468 269M501 204L446 204M501 204L466 207M501 204L473 214M501 204L439 220M501 204L454 224M501 204L394 234M501 204L413 244M501 204L364 254M501 204L386 257M501 204L416 258M501 204L427 261M501 204L411 269M501 204L437 275M501 204L449 234M501 204L504 234M501 204L491 242M501 204L443 246M446 204L466 207M446 204L486 213M446 204L497 217M446 204L464 219M446 204L472 223M446 204L380 230M446 204L394 234M446 204L386 257M446 204L416 258M446 204L427 261M446 204L411 269M446 204L419 266M446 204L504 234M446 204L443 246M446 204L494 255M446 204L456 263M446 204L479 262M466 207L454 211M466 207L454 224M466 207L421 225M466 207L394 234M466 207L421 237M466 207L402 243M466 207L413 244M466 207L385 247M466 207L419 250M466 207L364 254M466 207L416 258M466 207L427 261M466 207L419 266M466 207L504 234M466 207L462 238M466 207L491 242M466 207L443 246M466 207L494 255M466 207L456 263M466 207L479 262M466 207L468 269M466 207L446 279M454 211L486 213M454 211L497 217M454 211L439 220M454 211L464 219M454 211L454 224M454 211L409 234M454 211L421 225M454 211L394 234M454 211L435 230M454 211L386 257M454 211L416 258M454 211L427 261M454 211L411 269M454 211L419 266M454 211L437 275M454 211L462 238M454 211L457 243M454 211L482 241M454 211L494 255M454 211L456 263M454 211L479 262M454 211L468 269M473 214L497 217M473 214L464 219M473 214L380 230M473 214L421 225M473 214L421 237M473 214L402 243M473 214L416 258M473 214L437 264M473 214L419 266M473 214L457 243M473 214L482 241M473 214L476 245M473 214L456 263M473 214L479 262M473 214L468 269M473 214L446 279M486 213L497 217M486 213L454 224M486 213L421 225M486 213L394 234M486 213L435 230M486 213L421 237M486 213L413 244M486 213L419 250M486 213L437 264M486 213L425 273M486 213L437 275M486 213L462 238M486 213L443 246M486 213L476 245M486 213L494 255M486 213L464 262M486 213L446 279M497 217L439 220M497 217L454 224M497 217L380 230M497 217L409 234M497 217L421 225M497 217L394 234M497 217L421 237M497 217L402 243M497 217L413 244M497 217L364 254M497 217L386 257M497 217L416 258M497 217L427 261M497 217L437 264M497 217L419 266M497 217L425 273M497 217L504 234M497 217L462 238M497 217L482 241M497 217L491 242M497 217L476 245M497 217L494 255M497 217L464 262M497 217L468 269M439 220L454 224M439 220L409 234M439 220L421 225M439 220L394 234M439 220L413 244M439 220L385 247M439 220L416 258M439 220L404 263M439 220L411 269M439 220L425 273M439 220L449 234M439 220L462 238M439 220L457 243M439 220L482 241M439 220L494 255M439 220L456 263M439 220L479 262M439 220L446 279M464 219L454 224M464 219L472 223M464 219L380 230M464 219L421 225M464 219L413 244M464 219L385 247M464 219L364 254M464 219L416 258M464 219L427 261M464 219L437 264M464 219L411 269M464 219L419 266M464 219L425 273M464 219L504 234M464 219L457 243M464 219L482 241M464 219L491 242M464 219L443 246M464 219L476 245M464 219L456 263M464 219L468 269M464 219L446 279M454 224L472 223M454 224L421 225M454 224L394 234M454 224L435 230M454 224L402 243M454 224L413 244M454 224L419 250M454 224L416 258M454 224L404 263M454 224L437 264M454 224L419 266M454 224L437 275M454 224L449 234M454 224L482 241M454 224L491 242M454 224L443 246M454 224L494 255M454 224L464 262M454 224L468 269M472 223L380 230M472 223L394 234M472 223L364 254M472 223L427 261M472 223L419 266M472 223L457 243M472 223L476 245M472 223L456 263M472 223L446 279M380 230L421 225M380 230L394 234M380 230L435 230M380 230L402 243M380 230L419 250M380 230L364 254M380 230L386 257M380 230L404 263M380 230L427 261M380 230L437 264M380 230L411 269M380 230L419 266M380 230L437 275M380 230L449 234M380 230L504 234M380 230L457 243M380 230L476 245M380 230L494 255M380 230L456 263M380 230L464 262M380 230L479 262M380 230L468 269M409 234L421 225M409 234L402 243M409 234L386 257M409 234L427 261M409 234L437 264M409 234L411 269M409 234L419 266M409 234L504 234M409 234L462 238M409 234L482 241M409 234L494 255M409 234L456 263M409 234L479 262M421 225L435 230M421 225L385 247M421 225L364 254M421 225L404 263M421 225L437 264M421 225L411 269M421 225L425 273M421 225L449 234M421 225L462 238M421 225L457 243M421 225L491 242M421 225L443 246M421 225L476 245M421 225L479 262M421 225L468 269M394 234L435 230M394 234L416 258M394 234L404 263M394 234L425 273M394 234L449 234M394 234L504 234M394 234L443 246M394 234L476 245M394 234L494 255M394 234L456 263M394 234L464 262M394 234L468 269M435 230L421 237M435 230L402 243M435 230L385 247M435 230L364 254M435 230L386 257M435 230L416 258M435 230L404 263M435 230L419 266M435 230L425 273M435 230L437 275M435 230L491 242M435 230L443 246M435 230L476 245M435 230L494 255M435 230L464 262M435 230L479 262M421 237L413 244M421 237L385 247M421 237L419 250M421 237L386 257M421 237L416 258M421 237L427 261M421 237L437 264M421 237L419 266M421 237L449 234M421 237L462 238M421 237L494 255M421 237L456 263M421 237L464 262M421 237L479 262M421 237L468 269M402 243L385 247M402 243L364 254M402 243L386 257M402 243L404 263M402 243L425 273M402 243L437 275M402 243L449 234M402 243L462 238M402 243L494 255M402 243L464 262M413 244L419 250M413 244L416 258M413 244L427 261M413 244L411 269M413 244L437 275M413 244L462 238M413 244L457 243M413 244L443 246M413 244L476 245M413 244L494 255M413 244L464 262M413 244L446 279M385 247L364 254M385 247L404 263M385 247L437 264M385 247L449 234M385 247L457 243M385 247L476 245M385 247L464 262M385 247L446 279M419 250L364 254M419 250L386 257M419 250L416 258M419 250L404 263M419 250L427 261M419 250L411 269M419 250L425 273M419 250L449 234M419 250L504 234M419 250L462 238M419 250L457 243M419 250L491 242M419 250L443 246M419 250L494 255M419 250L464 262M419 250L479 262M364 254L404 263M364 254L427 261M364 254L437 264M364 254L425 273M364 254L449 234M364 254L462 238M364 254L457 243M364 254L491 242M364 254L494 255M364 254L456 263M364 254L464 262M364 254L479 262M364 254L446 279M386 257L404 263M386 257L427 261M386 257L437 264M386 257L419 266M386 257L425 273M386 257L449 234M386 257L504 234M386 257L462 238M386 257L491 242M386 257L456 263M386 257L464 262M386 257L479 262M386 257L468 269M416 258L404 263M416 258L419 266M416 258L425 273M416 258L449 234M416 258L504 234M416 258L462 238M416 258L491 242M416 258L443 246M416 258L494 255M416 258L479 262M416 258L468 269M404 263L427 261M404 263L437 264M404 263L425 273M404 263L437 275M404 263L462 238M404 263L482 241M404 263L491 242M404 263L476 245M404 263L464 262M404 263L479 262M404 263L468 269M404 263L446 279M427 261L504 234M427 261L476 245M427 261L494 255M427 261L456 263M437 264L419 266M437 264L425 273M437 264L437 275M437 264L462 238M437 264L457 243M437 264L491 242M437 264L494 255M437 264L479 262M437 264L446 279M411 269L419 266M411 269L462 238M411 269L457 243M411 269L491 242M411 269L443 246M411 269L476 245M411 269L456 263M411 269L468 269M419 266L425 273M419 266L437 275M419 266L449 234M419 266L457 243M419 266L482 241M419 266L443 246M419 266L456 263M419 266L464 262M419 266L446 279M425 273L437 275M425 273L449 234M425 273L462 238M425 273L482 241M425 273L443 246M425 273L479 262M437 275L449 234M437 275L457 243M437 275L482 241M437 275L494 255M437 275L456 263M437 275L464 262M437 275L479 262M437 275L446 279M449 234L482 241M449 234L491 242M449 234L443 246M449 234L464 262M449 234L468 269M449 234L446 279M504 234L491 242M504 234L443 246M504 234L476 245M504 234L494 255M504 234L456 263M504 234L479 262M504 234L468 269M462 238L457 243M462 238L482 241M462 238L491 242M462 238L476 245M462 238L456 263M462 238L464 262M462 238L446 279M457 243L456 263M457 243L479 262M457 243L446 279M482 241L491 242M482 241L443 246M482 241L456 263M482 241L464 262M482 241L479 262M482 241L446 279M491 242L456 263M443 246L476 245M443 246L468 269M476 245L494 255M476 245L456 263M476 245L464 262M476 245L468 269M476 245L446 279M494 255L456 263M494 255L464 262M494 255L479 262M456 263L479 262M464 262L446 279M479 262L468 269M479 262L446 279M468 269L446 279" stroke="#318a1b" stroke-width="0.50" stroke-opacity="0.45" fill="none"/>
<path d="M424 175L437 176M424 175L409 184M424 175L432 198M424 175L404 200M424 175L418 203M424 175L425 210M424 175L376 213M424 175L421 217M424 175L408 218M424 175L391 220M424 175L377 222M424 175L439 209M424 175L452 179M424 175L476 190M424 175L442 196M424 175L464 195M424 175L491 199M424 175L501 204M424 175L446 204M424 175L466 207M424 175L454 211M424 175L473 214M424 175L486 213M424 175L497 217M424 175L439 220M424 175L464 219M424 175L454 224M424 175L472 223M424 175L380 230M424 175L409 234M424 175L421 225M424 175L394 234M424 175L435 230M424 175L421 237M424 175L402 243M424 175L413 244M424 175L385 247M424 175L419 250M424 175L364 254M424 175L386 257M424 175L416 258M424 175L404 263M424 175L427 261M424 175L437 264M424 175L411 269M424 175L419 266M424 175L425 273M424 175L437 275M424 175L449 234M424 175L504 234M424 175L462 238M424 175L457 243M424 175L482 241M424 175L491 242M424 175L443 246M424 175L476 245M424 175L494 255M424 175L456 263M424 175L464 262M424 175L479 262M424 175L468 269M424 175L446 279M403 186L437 176M403 186L409 184M403 186L432 198M403 186L404 200M403 186L418 203M403 186L425 210M403 186L376 213M403 186L421 217M403 186L408 218M403 186L391 220M403 186L377 222M403 186L439 209M403 186L452 179M403 186L476 190M403 186L442 196M403 186L464 195M403 186L491 199M403 186L501 204M403 186L446 204M403 186L466 207M403 186L454 211M403 186L473 214M403 186L486 213M403 186L497 217M403 186L439 220M403 186L464 219M403 186L454 224M403 186L472 223M403 186L380 230M403 186L409 234M403 186L421 225M403 186L394 234M403 186L435 230M403 186L421 237M403 186L402 243M403 186L413 244M403 186L385 247M403 186L419 250M403 186L364 254M403 186L386 257M403 186L416 258M403 186L404 263M403 186L427 261M403 186L437 264M403 186L411 269M403 186L419 266M403 186L425 273M403 186L437 275M403 186L449 234M403 186L504 234M403 186L462 238M403 186L457 243M403 186L482 241M403 186L491 242M403 186L443 246M403 186L476 245M403 186L494 255M403 186L456 263M403 186L464 262M403 186L479 262M403 186L468 269M403 186L446 279M428 184L437 176M428 184L409 184M428 184L432 198M428 184L404 200M428 184L418 203M428 184L425 210M428 184L376 213M428 184L421 217M428 184L408 218M428 184L391 220M428 184L377 222M428 184L439 209M428 184L452 179M428 184L476 190M428 184L442 196M428 184L464 195M428 184L491 199M428 184L501 204M428 184L446 204M428 184L466 207M428 184L454 211M428 184L473 214M428 184L486 213M428 184L497 217M428 184L439 220M428 184L464 219M428 184L454 224M428 184L472 223M428 184L380 230M428 184L409 234M428 184L421 225M428 184L394 234M428 184L435 230M428 184L421 237M428 184L402 243M428 184L413 244M428 184L385 247M428 184L419 250M428 184L364 254M428 184L386 257M428 184L416 258M428 184L404 263M428 184L427 261M428 184L437 264M428 184L411 269M428 184L419 266M428 184L425 273M428 184L437 275M428 184L449 234M428 184L504 234M428 184L462 238M428 184L457 243M428 184L482 241M428 184L491 242M428 184L443 246M428 184L476 245M428 184L494 255M428 184L456 263M428 184L464 262M428 184L479 262M428 184L468 269M428 184L446 279M418 188L437 176M418 188L409 184M418 188L432 198M418 188L404 200M418 188L418 203M418 188L425 210M418 188L376 213M418 188L421 217M418 188L408 218M418 188L391 220M418 188L377 222M418 188L439 209M418 188L452 179M418 188L476 190M418 188L442 196M418 188L464 195M418 188L491 199M418 188L501 204M418 188L446 204M418 188L466 207M418 188L454 211M418 188L473 214M418 188L486 213M418 188L497 217M418 188L439 220M418 188L464 219M418 188L454 224M418 188L472 223M418 188L380 230M418 188L409 234M418 188L421 225M418 188L394 234M418 188L435 230M418 188L421 237M418 188L402 243M418 188L413 244M418 188L385 247M418 188L419 250M418 188L364 254M418 188L386 257M418 188L416 258M418 188L404 263M418 188L427 261M418 188L437 264M418 188L411 269M418 188L419 266M418 188L425 273M418 188L437 275M418 188L449 234M418 188L504 234M418 188L462 238M418 188L457 243M418 188L482 241M418 188L491 242M418 188L443 246M418 188L476 245M418 188L494 255M418 188L456 263M418 188L464 262M418 188L479 262M418 188L468 269M418 188L446 279M439 188L437 176M439 188L409 184M439 188L432 198M439 188L404 200M439 188L418 203M439 188L425 210M439 188L376 213M439 188L421 217M439 188L408 218M439 188L391 220M439 188L377 222M439 188L439 209M439 188L452 179M439 188L476 190M439 188L442 196M439 188L464 195M439 188L491 199M439 188L501 204M439 188L446 204M439 188L466 207M439 188L454 211M439 188L473 214M439 188L486 213M439 188L497 217M439 188L439 220M439 188L464 219M439 188L454 224M439 188L472 223M439 188L380 230M439 188L409 234M439 188L421 225M439 188L394 234M439 188L435 230M439 188L421 237M439 188L402 243M439 188L413 244M439 188L385 247M439 188L419 250M439 188L364 254M439 188L386 257M439 188L416 258M439 188L404 263M439 188L427 261M439 188L437 264M439 188L411 269M439 188L419 266M439 188L425 273M439 188L437 275M439 188L449 234M439 188L504 234M439 188L462 238M439 188L457 243M439 188L482 241M439 188L491 242M439 188L443 246M439 188L476 245M439 188L494 255M439 188L456 263M439 188L464 262M439 188L479 262M439 188L468 269M439 188L446 279M408 194L437 176M408 194L409 184M408 194L432 198M408 194L404 200M408 194L418 203M408 194L425 210M408 194L376 213M408 194L421 217M408 194L408 218M408 194L391 220M408 194L377 222M408 194L439 209M408 194L452 179M408 194L476 190M408 194L442 196M408 194L464 195M408 194L491 199M408 194L501 204M408 194L446 204M408 194L466 207M408 194L454 211M408 194L473 214M408 194L486 213M408 194L497 217M408 194L439 220M408 194L464 219M408 194L454 224M408 194L472 223M408 194L380 230M408 194L409 234M408 194L421 225M408 194L394 234M408 194L435 230M408 194L421 237M408 194L402 243M408 194L413 244M408 194L385 247M408 194L419 250M408 194L364 254M408 194L386 257M408 194L416 258M408 194L404 263M408 194L427 261M408 194L437 264M408 194L411 269M408 194L419 266M408 194L425 273M408 194L437 275M408 194L449 234M408 194L504 234M408 194L462 238M408 194L457 243M408 194L482 241M408 194L491 242M408 194L443 246M408 194L476 245M408 194L494 255M408 194L456 263M408 194L464 262M408 194L479 262M408 194L468 269M408 194L446 279M386 198L437 176M386 198L409 184M386 198L432 198M386 198L404 200M386 198L418 203M386 198L425 210M386 198L376 213M386 198L421 217M386 198L408 218M386 198L391 220M386 198L377 222M386 198L439 209M386 198L452 179M386 198L476 190M386 198L442 196M386 198L464 195M386 198L491 199M386 198L501 204M386 198L446 204M386 198L466 207M386 198L454 211M386 198L473 214M386 198L486 213M386 198L497 217M386 198L439 220M386 198L464 219M386 198L454 224M386 198L472 223M386 198L380 230M386 198L409 234M386 198L421 225M386 198L394 234M386 198L435 230M386 198L421 237M386 198L402 243M386 198L413 244M386 198L385 247M386 198L419 250M386 198L364 254M386 198L386 257M386 198L416 258M386 198L404 263M386 198L427 261M386 198L437 264M386 198L411 269M386 198L419 266M386 198L425 273M386 198L437 275M386 198L449 234M386 198L504 234M386 198L462 238M386 198L457 243M386 198L482 241M386 198L491 242M386 198L443 246M386 198L476 245M386 198L494 255M386 198L456 263M386 198L464 262M386 198L479 262M386 198L468 269M386 198L446 279M395 203L437 176M395 203L409 184M395 203L432 198M395 203L404 200M395 203L418 203M395 203L425 210M395 203L376 213M395 203L421 217M395 203L408 218M395 203L391 220M395 203L377 222M395 203L439 209M395 203L452 179M395 203L476 190M395 203L442 196M395 203L464 195M395 203L491 199M395 203L501 204M395 203L446 204M395 203L466 207M395 203L454 211M395 203L473 214M395 203L486 213M395 203L497 217M395 203L439 220M395 203L464 219M395 203L454 224M395 203L472 223M395 203L380 230M395 203L409 234M395 203L421 225M395 203L394 234M395 203L435 230M395 203L421 237M395 203L402 243M395 203L413 244M395 203L385 247M395 203L419 250M395 203L364 254M395 203L386 257M395 203L416 258M395 203L404 263M395 203L427 261M395 203L437 264M395 203L411 269M395 203L419 266M395 203L425 273M395 203L437 275M395 203L449 234M395 203L504 234M395 203L462 238M395 203L457 243M395 203L482 241M395 203L491 242M395 203L443 246M395 203L476 245M395 203L494 255M395 203L456 263M395 203L464 262M395 203L479 262M395 203L468 269M395 203L446 279M427 202L437 176M427 202L409 184M427 202L432 198M427 202L404 200M427 202L418 203M427 202L425 210M427 202L376 213M427 202L421 217M427 202L408 218M427 202L391 220M427 202L377 222M427 202L439 209M427 202L452 179M427 202L476 190M427 202L442 196M427 202L464 195M427 202L491 199M427 202L501 204M427 202L446 204M427 202L466 207M427 202L454 211M427 202L473 214M427 202L486 213M427 202L497 217M427 202L439 220M427 202L464 219M427 202L454 224M427 202L472 223M427 202L380 230M427 202L409 234M427 202L421 225M427 202L394 234M427 202L435 230M427 202L421 237M427 202L402 243M427 202L413 244M427 202L385 247M427 202L419 250M427 202L364 254M427 202L386 257M427 202L416 258M427 202L404 263M427 202L427 261M427 202L437 264M427 202L411 269M427 202L419 266M427 202L425 273M427 202L437 275M427 202L449 234M427 202L504 234M427 202L462 238M427 202L457 243M427 202L482 241M427 202L491 242M427 202L443 246M427 202L476 245M427 202L494 255M427 202L456 263M427 202L464 262M427 202L479 262M427 202L468 269M427 202L446 279M384 206L437 176M384 206L409 184M384 206L432 198M384 206L404 200M384 206L418 203M384 206L425 210M384 206L376 213M384 206L421 217M384 206L408 218M384 206L391 220M384 206L377 222M384 206L439 209M384 206L452 179M384 206L476 190M384 206L442 196M384 206L464 195M384 206L491 199M384 206L501 204M384 206L446 204M384 206L466 207M384 206L454 211M384 206L473 214M384 206L486 213M384 206L497 217M384 206L439 220M384 206L464 219M384 206L454 224M384 206L472 223M384 206L380 230M384 206L409 234M384 206L421 225M384 206L394 234M384 206L435 230M384 206L421 237M384 206L402 243M384 206L413 244M384 206L385 247M384 206L419 250M384 206L364 254M384 206L386 257M384 206L416 258M384 206L404 263M384 206L427 261M384 206L437 264M384 206L411 269M384 206L419 266M384 206L425 273M384 206L437 275M384 206L449 234M384 206L504 234M384 206L462 238M384 206L457 243M384 206L482 241M384 206L491 242M384 206L443 246M384 206L476 245M384 206L494 255M384 206L456 263M384 206L464 262M384 206L479 262M384 206L468 269M384 206L446 279M410 209L437 176M410 209L409 184M410 209L432 198M410 209L404 200M410 209L418 203M410 209L425 210M410 209L376 213M410 209L421 217M410 209L408 218M410 209L391 220M410 209L377 222M410 209L439 209M410 209L452 179M410 209L476 190M410 209L442 196M410 209L464 195M410 209L491 199M410 209L501 204M410 209L446 204M410 209L466 207M410 209L454 211M410 209L473 214M410 209L486 213M410 209L497 217M410 209L439 220M410 209L464 219M410 209L454 224M410 209L472 223M410 209L380 230M410 209L409 234M410 209L421 225M410 209L394 234M410 209L435 230M410 209L421 237M410 209L402 243M410 209L413 244M410 209L385 247M410 209L419 250M410 209L364 254M410 209L386 257M410 209L416 258M410 209L404 263M410 209L427 261M410 209L437 264M410 209L411 269M410 209L419 266M410 209L425 273M410 209L437 275M410 209L449 234M410 209L504 234M410 209L462 238M410 209L457 243M410 209L482 241M410 209L491 242M410 209L443 246M410 209L476 245M410 209L494 255M410 209L456 263M410 209L464 262M410 209L479 262M410 209L468 269M410 209L446 279M402 218L437 176M402 218L409 184M402 218L432 198M402 218L404 200M402 218L418 203M402 218L425 210M402 218L376 213M402 218L421 217M402 218L408 218M402 218L391 220M402 218L377 222M402 218L439 209M402 218L452 179M402 218L476 190M402 218L442 196M402 218L464 195M402 218L491 199M402 218L501 204M402 218L446 204M402 218L466 207M402 218L454 211M402 218L473 214M402 218L486 213M402 218L497 217M402 218L439 220M402 218L464 219M402 218L454 224M402 218L472 223M402 218L380 230M402 218L409 234M402 218L421 225M402 218L394 234M402 218L435 230M402 218L421 237M402 218L402 243M402 218L413 244M402 218L385 247M402 218L419 250M402 218L364 254M402 218L386 257M402 218L416 258M402 218L404 263M402 218L427 261M402 218L437 264M402 218L411 269M402 218L419 266M402 218L425 273M402 218L437 275M402 218L449 234M402 218L504 234M402 218L462 238M402 218L457 243M402 218L482 241M402 218L491 242M402 218L443 246M402 218L476 245M402 218L494 255M402 218L456 263M402 218L464 262M402 218L479 262M402 218L468 269M402 218L446 279M452 192L437 176M452 192L409 184M452 192L432 198M452 192L404 200M452 192L418 203M452 192L425 210M452 192L376 213M452 192L421 217M452 192L408 218M452 192L391 220M452 192L377 222M452 192L439 209M452 192L452 179M452 192L476 190M452 192L442 196M452 192L464 195M452 192L491 199M452 192L501 204M452 192L446 204M452 192L466 207M452 192L454 211M452 192L473 214M452 192L486 213M452 192L497 217M452 192L439 220M452 192L464 219M452 192L454 224M452 192L472 223M452 192L380 230M452 192L409 234M452 192L421 225M452 192L394 234M452 192L435 230M452 192L421 237M452 192L402 243M452 192L413 244M452 192L385 247M452 192L419 250M452 192L364 254M452 192L386 257M452 192L416 258M452 192L404 263M452 192L427 261M452 192L437 264M452 192L411 269M452 192L419 266M452 192L425 273M452 192L437 275M452 192L449 234M452 192L504 234M452 192L462 238M452 192L457 243M452 192L482 241M452 192L491 242M452 192L443 246M452 192L476 245M452 192L494 255M452 192L456 263M452 192L464 262M452 192L479 262M452 192L468 269M452 192L446 279M463 187L437 176M463 187L409 184M463 187L432 198M463 187L404 200M463 187L418 203M463 187L425 210M463 187L376 213M463 187L421 217M463 187L408 218M463 187L391 220M463 187L377 222M463 187L439 209M463 187L452 179M463 187L476 190M463 187L442 196M463 187L464 195M463 187L491 199M463 187L501 204M463 187L446 204M463 187L466 207M463 187L454 211M463 187L473 214M463 187L486 213M463 187L497 217M463 187L439 220M463 187L464 219M463 187L454 224M463 187L472 223M463 187L380 230M463 187L409 234M463 187L421 225M463 187L394 234M463 187L435 230M463 187L421 237M463 187L402 243M463 187L413 244M463 187L385 247M463 187L419 250M463 187L364 254M463 187L386 257M463 187L416 258M463 187L404 263M463 187L427 261M463 187L437 264M463 187L411 269M463 187L419 266M463 187L425 273M463 187L437 275M463 187L449 234M463 187L504 234M463 187L462 238M463 187L457 243M463 187L482 241M463 187L491 242M463 187L443 246M463 187L476 245M463 187L494 255M463 187L456 263M463 187L464 262M463 187L479 262M463 187L468 269M463 187L446 279M475 198L437 176M475 198L409 184M475 198L432 198M475 198L404 200M475 198L418 203M475 198L425 210M475 198L376 213M475 198L421 217M475 198L408 218M475 198L391 220M475 198L377 222M475 198L439 209M475 198L452 179M475 198L476 190M475 198L442 196M475 198L464 195M475 198L491 199M475 198L501 204M475 198L446 204M475 198L466 207M475 198L454 211M475 198L473 214M475 198L486 213M475 198L497 217M475 198L439 220M475 198L464 219M475 198L454 224M475 198L472 223M475 198L380 230M475 198L409 234M475 198L421 225M475 198L394 234M475 198L435 230M475 198L421 237M475 198L402 243M475 198L413 244M475 198L385 247M475 198L419 250M475 198L364 254M475 198L386 257M475 198L416 258M475 198L404 263M475 198L427 261M475 198L437 264M475 198L411 269M475 198L419 266M475 198L425 273M475 198L437 275M475 198L449 234M475 198L504 234M475 198L462 238M475 198L457 243M475 198L482 241M475 198L491 242M475 198L443 246M475 198L476 245M475 198L494 255M475 198L456 263M475 198L464 262M475 198L479 262M475 198L468 269M475 198L446 279M456 205L437 176M456 205L409 184M456 205L432 198M456 205L404 200M456 205L418 203M456 205L425 210M456 205L376 213M456 205L421 217M456 205L408 218M456 205L391 220M456 205L377 222M456 205L439 209M456 205L452 179M456 205L476 190M456 205L442 196M456 205L464 195M456 205L491 199M456 205L501 204M456 205L446 204M456 205L466 207M456 205L454 211M456 205L473 214M456 205L486 213M456 205L497 217M456 205L439 220M456 205L464 219M456 205L454 224M456 205L472 223M456 205L380 230M456 205L409 234M456 205L421 225M456 205L394 234M456 205L435 230M456 205L421 237M456 205L402 243M456 205L413 244M456 205L385 247M456 205L419 250M456 205L364 254M456 205L386 257M456 205L416 258M456 205L404 263M456 205L427 261M456 205L437 264M456 205L411 269M456 205L419 266M456 205L425 273M456 205L437 275M456 205L449 234M456 205L504 234M456 205L462 238M456 205L457 243M456 205L482 241M456 205L491 242M456 205L443 246M456 205L476 245M456 205L494 255M456 205L456 263M456 205L464 262M456 205L479 262M456 205L468 269M456 205L446 279M481 206L437 176M481 206L409 184M481 206L432 198M481 206L404 200M481 206L418 203M481 206L425 210M481 206L376 213M481 206L421 217M481 206L408 218M481 206L391 220M481 206L377 222M481 206L439 209M481 206L452 179M481 206L476 190M481 206L442 196M481 206L464 195M481 206L491 199M481 206L501 204M481 206L446 204M481 206L466 207M481 206L454 211M481 206L473 214M481 206L486 213M481 206L497 217M481 206L439 220M481 206L464 219M481 206L454 224M481 206L472 223M481 206L380 230M481 206L409 234M481 206L421 225M481 206L394 234M481 206L435 230M481 206L421 237M481 206L402 243M481 206L413 244M481 206L385 247M481 206L419 250M481 206L364 254M481 206L386 257M481 206L416 258M481 206L404 263M481 206L427 261M481 206L437 264M481 206L411 269M481 206L419 266M481 206L425 273M481 206L437 275M481 206L449 234M481 206L504 234M481 206L462 238M481 206L457 243M481 206L482 241M481 206L491 242M481 206L443 246M481 206L476 245M481 206L494 255M481 206L456 263M481 206L464 262M481 206L479 262M481 206L468 269M481 206L446 279M489 223L437 176M489 223L409 184M489 223L432 198M489 223L404 200M489 223L418 203M489 223L425 210M489 223L376 213M489 223L421 217M489 223L408 218M489 223L391 220M489 223L377 222M489 223L439 209M489 223L452 179M489 223L476 190M489 223L442 196M489 223L464 195M489 223L491 199M489 223L501 204M489 223L446 204M489 223L466 207M489 223L454 211M489 223L473 214M489 223L486 213M489 223L497 217M489 223L439 220M489 223L464 219M489 223L454 224M489 223L472 223M489 223L380 230M489 223L409 234M489 223L421 225M489 223L394 234M489 223L435 230M489 223L421 237M489 223L402 243M489 223L413 244M489 223L385 247M489 223L419 250M489 223L364 254M489 223L386 257M489 223L416 258M489 223L404 263M489 223L427 261M489 223L437 264M489 223L411 269M489 223L419 266M489 223L425 273M489 223L437 275M489 223L449 234M489 223L504 234M489 223L462 238M489 223L457 243M489 223L482 241M489 223L491 242M489 223L443 246M489 223L476 245M489 223L494 255M489 223L456 263M489 223L464 262M489 223L479 262M489 223L468 269M489 223L446 279M507 224L437 176M507 224L409 184M507 224L432 198M507 224L404 200M507 224L418 203M507 224L425 210M507 224L376 213M507 224L421 217M507 224L408 218M507 224L391 220M507 224L377 222M507 224L439 209M507 224L452 179M507 224L476 190M507 224L442 196M507 224L464 195M507 224L491 199M507 224L501 204M507 224L446 204M507 224L466 207M507 224L454 211M507 224L473 214M507 224L486 213M507 224L497 217M507 224L439 220M507 224L464 219M507 224L454 224M507 224L472 223M507 224L380 230M507 224L409 234M507 224L421 225M507 224L394 234M507 224L435 230M507 224L421 237M507 224L402 243M507 224L413 244M507 224L385 247M507 224L419 250M507 224L364 254M507 224L386 257M507 224L416 258M507 224L404 263M507 224L427 261M507 224L437 264M507 224L411 269M507 224L419 266M507 224L425 273M507 224L437 275M507 224L449 234M507 224L504 234M507 224L462 238M507 224L457 243M507 224L482 241M507 224L491 242M507 224L443 246M507 224L476 245M507 224L494 255M507 224L456 263M507 224L464 262M507 224L479 262M507 224L468 269M507 224L446 279M369 228L437 176M369 228L409 184M369 228L432 198M369 228L404 200M369 228L418 203M369 228L425 210M369 228L376 213M369 228L421 217M369 228L408 218M369 228L391 220M369 228L377 222M369 228L439 209M369 228L452 179M369 228L476 190M369 228L442 196M369 228L464 195M369 228L491 199M369 228L501 204M369 228L446 204M369 228L466 207M369 228L454 211M369 228L473 214M369 228L486 213M369 228L497 217M369 228L439 220M369 228L464 219M369 228L454 224M369 228L472 223M369 228L380 230M369 228L409 234M369 228L421 225M369 228L394 234M369 228L435 230M369 228L421 237M369 228L402 243M369 228L413 244M369 228L385 247M369 228L419 250M369 228L364 254M369 228L386 257M369 228L416 258M369 228L404 263M369 228L427 261M369 228L437 264M369 228L411 269M369 228L419 266M369 228L425 273M369 228L437 275M369 228L449 234M369 228L504 234M369 228L462 238M369 228L457 243M369 228L482 241M369 228L491 242M369 228L443 246M369 228L476 245M369 228L494 255M369 228L456 263M369 228L464 262M369 228L479 262M369 228L468 269M369 228L446 279M403 230L437 176M403 230L409 184M403 230L432 198M403 230L404 200M403 230L418 203M403 230L425 210M403 230L376 213M403 230L421 217M403 230L408 218M403 230L391 220M403 230L377 222M403 230L439 209M403 230L452 179M403 230L476 190M403 230L442 196M403 230L464 195M403 230L491 199M403 230L501 204M403 230L446 204M403 230L466 207M403 230L454 211M403 230L473 214M403 230L486 213M403 230L497 217M403 230L439 220M403 230L464 219M403 230L454 224M403 230L472 223M403 230L380 230M403 230L409 234M403 230L421 225M403 230L394 234M403 230L435 230M403 230L421 237M403 230L402 243M403 230L413 244M403 230L385 247M403 230L419 250M403 230L364 254M403 230L386 257M403 230L416 258M403 230L404 263M403 230L427 261M403 230L437 264M403 230L411 269M403 230L419 266M403 230L425 273M403 230L437 275M403 230L449 234M403 230L504 234M403 230L462 238M403 230L457 243M403 230L482 241M403 230L491 242M403 230L443 246M403 230L476 245M403 230L494 255M403 230L456 263M403 230L464 262M403 230L479 262M403 230L468 269M403 230L446 279M431 233L437 176M431 233L409 184M431 233L432 198M431 233L404 200M431 233L418 203M431 233L425 210M431 233L376 213M431 233L421 217M431 233L408 218M431 233L391 220M431 233L377 222M431 233L439 209M431 233L452 179M431 233L476 190M431 233L442 196M431 233L464 195M431 233L491 199M431 233L501 204M431 233L446 204M431 233L466 207M431 233L454 211M431 233L473 214M431 233L486 213M431 233L497 217M431 233L439 220M431 233L464 219M431 233L454 224M431 233L472 223M431 233L380 230M431 233L409 234M431 233L421 225M431 233L394 234M431 233L435 230M431 233L421 237M431 233L402 243M431 233L413 244M431 233L385 247M431 233L419 250M431 233L364 254M431 233L386 257M431 233L416 258M431 233L404 263M431 233L427 261M431 233L437 264M431 233L411 269M431 233L419 266M431 233L425 273M431 233L437 275M431 233L449 234M431 233L504 234M431 233L462 238M431 233L457 243M431 233L482 241M431 233L491 242M431 233L443 246M431 233L476 245M431 233L494 255M431 233L456 263M431 233L464 262M431 233L479 262M431 233L468 269M431 233L446 279M379 240L437 176M379 240L409 184M379 240L432 198M379 240L404 200M379 240L418 203M379 240L425 210M379 240L376 213M379 240L421 217M379 240L408 218M379 240L391 220M379 240L377 222M379 240L439 209M379 240L452 179M379 240L476 190M379 240L442 196M379 240L464 195M379 240L491 199M379 240L501 204M379 240L446 204M379 240L466 207M379 240L454 211M379 240L473 214M379 240L486 213M379 240L497 217M379 240L439 220M379 240L464 219M379 240L454 224M379 240L472 223M379 240L380 230M379 240L409 234M379 240L421 225M379 240L394 234M379 240L435 230M379 240L421 237M379 240L402 243M379 240L413 244M379 240L385 247M379 240L419 250M379 240L364 254M379 240L386 257M379 240L416 258M379 240L404 263M379 240L427 261M379 240L437 264M379 240L411 269M379 240L419 266M379 240L425 273M379 240L437 275M379 240L449 234M379 240L504 234M379 240L462 238M379 240L457 243M379 240L482 241M379 240L491 242M379 240L443 246M379 240L476 245M379 240L494 255M379 240L456 263M379 240L464 262M379 240L479 262M379 240L468 269M379 240L446 279M433 248L437 176M433 248L409 184M433 248L432 198M433 248L404 200M433 248L418 203M433 248L425 210M433 248L376 213M433 248L421 217M433 248L408 218M433 248L391 220M433 248L377 222M433 248L439 209M433 248L452 179M433 248L476 190M433 248L442 196M433 248L464 195M433 248L491 199M433 248L501 204M433 248L446 204M433 248L466 207M433 248L454 211M433 248L473 214M433 248L486 213M433 248L497 217M433 248L439 220M433 248L464 219M433 248L454 224M433 248L472 223M433 248L380 230M433 248L409 234M433 248L421 225M433 248L394 234M433 248L435 230M433 248L421 237M433 248L402 243M433 248L413 244M433 248L385 247M433 248L419 250M433 248L364 254M433 248L386 257M433 248L416 258M433 248L404 263M433 248L427 261M433 248L437 264M433 248L411 269M433 248L419 266M433 248L425 273M433 248L437 275M433 248L449 234M433 248L504 234M433 248L462 238M433 248L457 243M433 248L482 241M433 248L491 242M433 248L443 246M433 248L476 245M433 248L494 255M433 248L456 263M433 248L464 262M433 248L479 262M433 248L468 269M433 248L446 279M402 250L437 176M402 250L409 184M402 250L432 198M402 250L404 200M402 250L418 203M402 250L425 210M402 250L376 213M402 250L421 217M402 250L408 218M402 250L391 220M402 250L377 222M402 250L439 209M402 250L452 179M402 250L476 190M402 250L442 196M402 250L464 195M402 250L491 199M402 250L501 204M402 250L446 204M402 250L466 207M402 250L454 211M402 250L473 214M402 250L486 213M402 250L497 217M402 250L439 220M402 250L464 219M402 250L454 224M402 250L472 223M402 250L380 230M402 250L409 234M402 250L421 225M402 250L394 234M402 250L435 230M402 250L421 237M402 250L402 243M402 250L413 244M402 250L385 247M402 250L419 250M402 250L364 254M402 250L386 257M402 250L416 258M402 250L404 263M402 250L427 261M402 250L437 264M402 250L411 269M402 250L419 266M402 250L425 273M402 250L437 275M402 250L449 234M402 250L504 234M402 250L462 238M402 250L457 243M402 250L482 241M402 250L491 242M402 250L443 246M402 250L476 245M402 250L494 255M402 250L456 263M402 250L464 262M402 250L479 262M402 250L468 269M402 250L446 279M395 262L437 176M395 262L409 184M395 262L432 198M395 262L404 200M395 262L418 203M395 262L425 210M395 262L376 213M395 262L421 217M395 262L408 218M395 262L391 220M395 262L377 222M395 262L439 209M395 262L452 179M395 262L476 190M395 262L442 196M395 262L464 195M395 262L491 199M395 262L501 204M395 262L446 204M395 262L466 207M395 262L454 211M395 262L473 214M395 262L486 213M395 262L497 217M395 262L439 220M395 262L464 219M395 262L454 224M395 262L472 223M395 262L380 230M395 262L409 234M395 262L421 225M395 262L394 234M395 262L435 230M395 262L421 237M395 262L402 243M395 262L413 244M395 262L385 247M395 262L419 250M395 262L364 254M395 262L386 257M395 262L416 258M395 262L404 263M395 262L427 261M395 262L437 264M395 262L411 269M395 262L419 266M395 262L425 273M395 262L437 275M395 262L449 234M395 262L504 234M395 262L462 238M395 262L457 243M395 262L482 241M395 262L491 242M395 262L443 246M395 262L476 245M395 262L494 255M395 262L456 263M395 262L464 262M395 262L479 262M395 262L468 269M395 262L446 279M401 275L437 176M401 275L409 184M401 275L432 198M401 275L404 200M401 275L418 203M401 275L425 210M401 275L376 213M401 275L421 217M401 275L408 218M401 275L391 220M401 275L377 222M401 275L439 209M401 275L452 179M401 275L476 190M401 275L442 196M401 275L464 195M401 275L491 199M401 275L501 204M401 275L446 204M401 275L466 207M401 275L454 211M401 275L473 214M401 275L486 213M401 275L497 217M401 275L439 220M401 275L464 219M401 275L454 224M401 275L472 223M401 275L380 230M401 275L409 234M401 275L421 225M401 275L394 234M401 275L435 230M401 275L421 237M401 275L402 243M401 275L413 244M401 275L385 247M401 275L419 250M401 275L364 254M401 275L386 257M401 275L416 258M401 275L404 263M401 275L427 261M401 275L437 264M401 275L411 269M401 275L419 266M401 275L425 273M401 275L437 275M401 275L449 234M401 275L504 234M401 275L462 238M401 275L457 243M401 275L482 241M401 275L491 242M401 275L443 246M401 275L476 245M401 275L494 255M401 275L456 263M401 275L464 262M401 275L479 262M401 275L468 269M401 275L446 279M420 284L437 176M420 284L409 184M420 284L432 198M420 284L404 200M420 284L418 203M420 284L425 210M420 284L376 213M420 284L421 217M420 284L408 218M420 284L391 220M420 284L377 222M420 284L439 209M420 284L452 179M420 284L476 190M420 284L442 196M420 284L464 195M420 284L491 199M420 284L501 204M420 284L446 204M420 284L466 207M420 284L454 211M420 284L473 214M420 284L486 213M420 284L497 217M420 284L439 220M420 284L464 219M420 284L454 224M420 284L472 223M420 284L380 230M420 284L409 234M420 284L421 225M420 284L394 234M420 284L435 230M420 284L421 237M420 284L402 243M420 284L413 244M420 284L385 247M420 284L419 250M420 284L364 254M420 284L386 257M420 284L416 258M420 284L404 263M420 284L427 261M420 284L437 264M420 284L411 269M420 284L419 266M420 284L425 273M420 284L437 275M420 284L449 234M420 284L504 234M420 284L462 238M420 284L457 243M420 284L482 241M420 284L491 242M420 284L443 246M420 284L476 245M420 284L494 255M420 284L456 263M420 284L464 262M420 284L479 262M420 284L468 269M420 284L446 279M470 232L437 176M470 232L409 184M470 232L432 198M470 232L404 200M470 232L418 203M470 232L425 210M470 232L376 213M470 232L421 217M470 232L408 218M470 232L391 220M470 232L377 222M470 232L439 209M470 232L452 179M470 232L476 190M470 232L442 196M470 232L464 195M470 232L491 199M470 232L501 204M470 232L446 204M470 232L466 207M470 232L454 211M470 232L473 214M470 232L486 213M470 232L497 217M470 232L439 220M470 232L464 219M470 232L454 224M470 232L472 223M470 232L380 230M470 232L409 234M470 232L421 225M470 232L394 234M470 232L435 230M470 232L421 237M470 232L402 243M470 232L413 244M470 232L385 247M470 232L419 250M470 232L364 254M470 232L386 257M470 232L416 258M470 232L404 263M470 232L427 261M470 232L437 264M470 232L411 269M470 232L419 266M470 232L425 273M470 232L437 275M470 232L449 234M470 232L504 234M470 232L462 238M470 232L457 243M470 232L482 241M470 232L491 242M470 232L443 246M470 232L476 245M470 232L494 255M470 232L456 263M470 232L464 262M470 232L479 262M470 232L468 269M470 232L446 279M486 232L437 176M486 232L409 184M486 232L432 198M486 232L404 200M486 232L418 203M486 232L425 210M486 232L376 213M486 232L421 217M486 232L408 218M486 232L391 220M486 232L377 222M486 232L439 209M486 232L452 179M486 232L476 190M486 232L442 196M486 232L464 195M486 232L491 199M486 232L501 204M486 232L446 204M486 232L466 207M486 232L454 211M486 232L473 214M486 232L486 213M486 232L497 217M486 232L439 220M486 232L464 219M486 232L454 224M486 232L472 223M486 232L380 230M486 232L409 234M486 232L421 225M486 232L394 234M486 232L435 230M486 232L421 237M486 232L402 243M486 232L413 244M486 232L385 247M486 232L419 250M486 232L364 254M486 232L386 257M486 232L416 258M486 232L404 263M486 232L427 261M486 232L437 264M486 232L411 269M486 232L419 266M486 232L425 273M486 232L437 275M486 232L449 234M486 232L504 234M486 232L462 238M486 232L457 243M486 232L482 241M486 232L491 242M486 232L443 246M486 232L476 245M486 232L494 255M486 232L456 263M486 232L464 262M486 232L479 262M486 232L468 269M486 232L446 279M450 248L437 176M450 248L409 184M450 248L432 198M450 248L404 200M450 248L418 203M450 248L425 210M450 248L376 213M450 248L421 217M450 248L408 218M450 248L391 220M450 248L377 222M450 248L439 209M450 248L452 179M450 248L476 190M450 248L442 196M450 248L464 195M450 248L491 199M450 248L501 204M450 248L446 204M450 248L466 207M450 248L454 211M450 248L473 214M450 248L486 213M450 248L497 217M450 248L439 220M450 248L464 219M450 248L454 224M450 248L472 223M450 248L380 230M450 248L409 234M450 248L421 225M450 248L394 234M450 248L435 230M450 248L421 237M450 248L402 243M450 248L413 244M450 248L385 247M450 248L419 250M450 248L364 254M450 248L386 257M450 248L416 258M450 248L404 263M450 248L427 261M450 248L437 264M450 248L411 269M450 248L419 266M450 248L425 273M450 248L437 275M450 248L449 234M450 248L504 234M450 248L462 238M450 248L457 243M450 248L482 241M450 248L491 242M450 248L443 246M450 248L476 245M450 248L494 255M450 248L456 263M450 248L464 262M450 248L479 262M450 248L468 269M450 248L446 279M508 247L437 176M508 247L409 184M508 247L432 198M508 247L404 200M508 247L418 203M508 247L425 210M508 247L376 213M508 247L421 217M508 247L408 218M508 247L391 220M508 247L377 222M508 247L439 209M508 247L452 179M508 247L476 190M508 247L442 196M508 247L464 195M508 247L491 199M508 247L501 204M508 247L446 204M508 247L466 207M508 247L454 211M508 247L473 214M508 247L486 213M508 247L497 217M508 247L439 220M508 247L464 219M508 247L454 224M508 247L472 223M508 247L380 230M508 247L409 234M508 247L421 225M508 247L394 234M508 247L435 230M508 247L421 237M508 247L402 243M508 247L413 244M508 247L385 247M508 247L419 250M508 247L364 254M508 247L386 257M508 247L416 258M508 247L404 263M508 247L427 261M508 247L437 264M508 247L411 269M508 247L419 266M508 247L425 273M508 247L437 275M508 247L449 234M508 247L504 234M508 247L462 238M508 247L457 243M508 247L482 241M508 247L491 242M508 247L443 246M508 247L476 245M508 247L494 255M508 247L456 263M508 247L464 262M508 247L479 262M508 247L468 269M508 247L446 279M471 255L437 176M471 255L409 184M471 255L432 198M471 255L404 200M471 255L418 203M471 255L425 210M471 255L376 213M471 255L421 217M471 255L408 218M471 255L391 220M471 255L377 222M471 255L439 209M471 255L452 179M471 255L476 190M471 255L442 196M471 255L464 195M471 255L491 199M471 255L501 204M471 255L446 204M471 255L466 207M471 255L454 211M471 255L473 214M471 255L486 213M471 255L497 217M471 255L439 220M471 255L464 219M471 255L454 224M471 255L472 223M471 255L380 230M471 255L409 234M471 255L421 225M471 255L394 234M471 255L435 230M471 255L421 237M471 255L402 243M471 255L413 244M471 255L385 247M471 255L419 250M471 255L364 254M471 255L386 257M471 255L416 258M471 255L404 263M471 255L427 261M471 255L437 264M471 255L411 269M471 255L419 266M471 255L425 273M471 255L437 275M471 255L449 234M471 255L504 234M471 255L462 238M471 255L457 243M471 255L482 241M471 255L491 242M471 255L443 246M471 255L476 245M471 255L494 255M471 255L456 263M471 255L464 262M471 255L479 262M471 255L468 269M471 255L446 279M448 261L437 176M448 261L409 184M448 261L432 198M448 261L404 200M448 261L418 203M448 261L425 210M448 261L376 213M448 261L421 217M448 261L408 218M448 261L391 220M448 261L377 222M448 261L439 209M448 261L452 179M448 261L476 190M448 261L442 196M448 261L464 195M448 261L491 199M448 261L501 204M448 261L446 204M448 261L466 207M448 261L454 211M448 261L473 214M448 261L486 213M448 261L497 217M448 261L439 220M448 261L464 219M448 261L454 224M448 261L472 223M448 261L380 230M448 261L409 234M448 261L421 225M448 261L394 234M448 261L435 230M448 261L421 237M448 261L402 243M448 261L413 244M448 261L385 247M448 261L419 250M448 261L364 254M448 261L386 257M448 261L416 258M448 261L404 263M448 261L427 261M448 261L437 264M448 261L411 269M448 261L419 266M448 261L425 273M448 261L437 275M448 261L449 234M448 261L504 234M448 261L462 238M448 261L457 243M448 261L482 241M448 261L491 242M448 261L443 246M448 261L476 245M448 261L494 255M448 261L456 263M448 261L464 262M448 261L479 262M448 261L468 269M448 261L446 279M486 262L437 176M486 262L409 184M486 262L432 198M486 262L404 200M486 262L418 203M486 262L425 210M486 262L376 213M486 262L421 217M486 262L408 218M486 262L391 220M486 262L377 222M486 262L439 209M486 262L452 179M486 262L476 190M486 262L442 196M486 262L464 195M486 262L491 199M486 262L501 204M486 262L446 204M486 262L466 207M486 262L454 211M486 262L473 214M486 262L486 213M486 262L497 217M486 262L439 220M486 262L464 219M486 262L454 224M486 262L472 223M486 262L380 230M486 262L409 234M486 262L421 225M486 262L394 234M486 262L435 230M486 262L421 237M486 262L402 243M486 262L413 244M486 262L385 247M486 262L419 250M486 262L364 254M486 262L386 257M486 262L416 258M486 262L404 263M486 262L427 261M486 262L437 264M486 262L411 269M486 262L419 266M486 262L425 273M486 262L437 275M486 262L449 234M486 262L504 234M486 262L462 238M486 262L457 243M486 262L482 241M486 262L491 242M486 262L443 246M486 262L476 245M486 262L494 255M486 262L456 263M486 262L464 262M486 262L479 262M486 262L468 269M486 262L446 279M446 268L437 176M446 268L409 184M446 268L432 198M446 268L404 200M446 268L418 203M446 268L425 210M446 268L376 213M446 268L421 217M446 268L408 218M446 268L391 220M446 268L377 222M446 268L439 209M446 268L452 179M446 268L476 190M446 268L442 196M446 268L464 195M446 268L491 199M446 268L501 204M446 268L446 204M446 268L466 207M446 268L454 211M446 268L473 214M446 268L486 213M446 268L497 217M446 268L439 220M446 268L464 219M446 268L454 224M446 268L472 223M446 268L380 230M446 268L409 234M446 268L421 225M446 268L394 234M446 268L435 230M446 268L421 237M446 268L402 243M446 268L413 244M446 268L385 247M446 268L419 250M446 268L364 254M446 268L386 257M446 268L416 258M446 268L404 263M446 268L427 261M446 268L437 264M446 268L411 269M446 268L419 266M446 268L425 273M446 268L437 275M446 268L449 234M446 268L504 234M446 268L462 238M446 268L457 243M446 268L482 241M446 268L491 242M446 268L443 246M446 268L476 245M446 268L494 255M446 268L456 263M446 268L464 262M446 268L479 262M446 268L468 269M446 268L446 279M460 277L437 176M460 277L409 184M460 277L432 198M460 277L404 200M460 277L418 203M460 277L425 210M460 277L376 213M460 277L421 217M460 277L408 218M460 277L391 220M460 277L377 222M460 277L439 209M460 277L452 179M460 277L476 190M460 277L442 196M460 277L464 195M460 277L491 199M460 277L501 204M460 277L446 204M460 277L466 207M460 277L454 211M460 277L473 214M460 277L486 213M460 277L497 217M460 277L439 220M460 277L464 219M460 277L454 224M460 277L472 223M460 277L380 230M460 277L409 234M460 277L421 225M460 277L394 234M460 277L435 230M460 277L421 237M460 277L402 243M460 277L413 244M460 277L385 247M460 277L419 250M460 277L364 254M460 277L386 257M460 277L416 258M460 277L404 263M460 277L427 261M460 277L437 264M460 277L411 269M460 277L419 266M460 277L425 273M460 277L437 275M460 277L449 234M460 277L504 234M460 277L462 238M460 277L457 243M460 277L482 241M460 277L491 242M460 277L443 246M460 277L476 245M460 277L494 255M460 277L456 263M460 277L464 262M460 277L479 262M460 277L468 269M460 277L446 279M473 278L437 176M473 278L409 184M473 278L432 198M473 278L404 200M473 278L418 203M473 278L425 210M473 278L376 213M473 278L421 217M473 278L408 218M473 278L391 220M473 278L377 222M473 278L439 209M473 278L452 179M473 278L476 190M473 278L442 196M473 278L464 195M473 278L491 199M473 278L501 204M473 278L446 204M473 278L466 207M473 278L454 211M473 278L473 214M473 278L486 213M473 278L497 217M473 278L439 220M473 278L464 219M473 278L454 224M473 278L472 223M473 278L380 230M473 278L409 234M473 278L421 225M473 278L394 234M473 278L435 230M473 278L421 237M473 278L402 243M473 278L413 244M473 278L385 247M473 278L419 250M473 278L364 254M473 278L386 257M473 278L416 258M473 278L404 263M473 278L427 261M473 278L437 264M473 278L411 269M473 278L419 266M473 278L425 273M473 278L437 275M473 278L449 234M473 278L504 234M473 278L462 238M473 278L457 243M473 278L482 241M473 278L491 242M473 278L443 246M473 278L476 245M473 278L494 255M473 278L456 263M473 278L464 262M473 278L479 262M473 278L468 269M473 278L446 279" stroke="#f7f3dc" stroke-width="0.45" stroke-opacity="0.02" fill="none"/>
<path d="M403.0 185.6L428.4 183.8M423.9 175.4L426.8 201.7M426.8 201.7L430.7 233.4M408.3 194.0L426.8 201.7M418.2 187.7L426.8 201.7M426.8 201.7L455.6 204.7M455.6 204.7L481.2 205.6M438.7 188.3L455.6 204.7M452.4 191.5L470.3 232.0M463.1 186.8L474.7 197.6M474.7 197.6L506.6 223.5M410.1 208.8L455.6 204.7M402.1 218.2L432.8 248.1M386.0 197.8L401.5 250.4M384.5 206.2L403.0 229.8M395.3 202.6L395.3 261.7M368.9 228.1L379.2 240.0M379.2 240.0L430.7 233.4M403.0 229.8L420.4 283.5M395.3 261.7L401.2 274.9M395.3 261.7L486.0 262.1M470.3 232.0L472.6 278.2M486.0 232.0L507.5 247.2M489.0 223.2L486.0 232.0M450.2 247.7L470.8 255.3M432.8 248.1L450.2 247.7M447.5 260.8L459.5 276.6M446.1 268.3L432.8 248.1M470.8 255.3L486.0 262.1M401.5 250.4L447.5 260.8" stroke="#c8321e" stroke-width="0.70" stroke-opacity="0.85" fill="none"/>
<g fill="#f2dc3a"><circle cx="436.6" cy="176.1" r="2.2"/><circle cx="408.9" cy="183.8" r="2.2"/><circle cx="431.6" cy="197.8" r="2.2"/><circle cx="404.4" cy="200.4" r="2.2"/><circle cx="417.8" cy="202.9" r="2.2"/><circle cx="425.0" cy="209.7" r="2.2"/><circle cx="376.1" cy="213.0" r="2.2"/><circle cx="421.4" cy="217.3" r="2.2"/><circle cx="408.3" cy="218.2" r="2.2"/><circle cx="390.8" cy="219.6" r="2.2"/><circle cx="377.0" cy="222.3" r="2.2"/><circle cx="438.7" cy="209.4" r="2.2"/><circle cx="452.4" cy="178.8" r="2.2"/><circle cx="476.5" cy="190.4" r="2.2"/><circle cx="442.2" cy="196.3" r="2.2"/><circle cx="464.2" cy="195.1" r="2.2"/><circle cx="491.4" cy="198.6" r="2.2"/><circle cx="501.2" cy="204.4" r="2.2"/><circle cx="445.7" cy="203.8" r="2.2"/><circle cx="466.0" cy="206.7" r="2.2"/><circle cx="454.3" cy="211.0" r="2.2"/><circle cx="472.9" cy="214.2" r="2.2"/><circle cx="485.6" cy="212.8" r="2.2"/><circle cx="496.7" cy="216.9" r="2.2"/><circle cx="438.9" cy="220.1" r="2.2"/><circle cx="464.5" cy="219.0" r="2.2"/><circle cx="453.8" cy="223.5" r="2.2"/><circle cx="472.2" cy="223.2" r="2.2"/><circle cx="379.7" cy="229.8" r="2.2"/><circle cx="409.2" cy="233.8" r="2.2"/><circle cx="421.2" cy="224.8" r="2.2"/><circle cx="393.6" cy="234.3" r="2.2"/><circle cx="435.2" cy="229.8" r="2.2"/><circle cx="421.4" cy="237.4" r="2.2"/><circle cx="401.5" cy="243.3" r="2.2"/><circle cx="413.3" cy="243.8" r="2.2"/><circle cx="385.1" cy="246.8" r="2.2"/><circle cx="419.1" cy="250.4" r="2.2"/><circle cx="363.6" cy="254.5" r="2.2"/><circle cx="385.6" cy="257.0" r="2.2"/><circle cx="416.4" cy="257.6" r="2.2"/><circle cx="403.8" cy="262.6" r="2.2"/><circle cx="426.6" cy="260.8" r="2.2"/><circle cx="437.0" cy="264.4" r="2.2"/><circle cx="410.6" cy="269.2" r="2.2"/><circle cx="419.1" cy="266.5" r="2.2"/><circle cx="425.3" cy="272.8" r="2.2"/><circle cx="437.3" cy="274.6" r="2.2"/><circle cx="449.0" cy="234.0" r="2.2"/><circle cx="503.9" cy="234.0" r="2.2"/><circle cx="461.8" cy="237.9" r="2.2"/><circle cx="457.0" cy="242.7" r="2.2"/><circle cx="482.4" cy="241.1" r="2.2"/><circle cx="491.4" cy="242.4" r="2.2"/><circle cx="443.1" cy="246.0" r="2.2"/><circle cx="476.2" cy="244.7" r="2.2"/><circle cx="494.1" cy="254.9" r="2.2"/><circle cx="456.1" cy="263.0" r="2.2"/><circle cx="464.5" cy="261.5" r="2.2"/><circle cx="478.8" cy="261.5" r="2.2"/><circle cx="468.1" cy="269.2" r="2.2"/><circle cx="446.1" cy="279.1" r="2.2"/></g>
<g fill="#f11a12"><circle cx="423.9" cy="175.4" r="2.2"/><circle cx="403.0" cy="185.6" r="2.2"/><circle cx="428.4" cy="183.8" r="2.2"/><circle cx="418.2" cy="187.7" r="2.2"/><circle cx="438.7" cy="188.3" r="2.2"/><circle cx="408.3" cy="194.0" r="2.2"/><circle cx="386.0" cy="197.8" r="2.2"/><circle cx="395.3" cy="202.6" r="2.2"/><circle cx="426.8" cy="201.7" r="2.2"/><circle cx="384.5" cy="206.2" r="2.2"/><circle cx="410.1" cy="208.8" r="2.2"/><circle cx="402.1" cy="218.2" r="2.2"/><circle cx="452.4" cy="191.5" r="2.2"/><circle cx="463.1" cy="186.8" r="2.2"/><circle cx="474.7" cy="197.6" r="2.2"/><circle cx="455.6" cy="204.7" r="2.2"/><circle cx="481.2" cy="205.6" r="2.2"/><circle cx="489.0" cy="223.2" r="2.2"/><circle cx="506.6" cy="223.5" r="2.2"/><circle cx="368.9" cy="228.1" r="2.2"/><circle cx="403.0" cy="229.8" r="2.2"/><circle cx="430.7" cy="233.4" r="2.2"/><circle cx="379.2" cy="240.0" r="2.2"/><circle cx="432.8" cy="248.1" r="2.2"/><circle cx="401.5" cy="250.4" r="2.2"/><circle cx="395.3" cy="261.7" r="2.2"/><circle cx="401.2" cy="274.9" r="2.2"/><circle cx="420.4" cy="283.5" r="2.2"/><circle cx="470.3" cy="232.0" r="2.2"/><circle cx="486.0" cy="232.0" r="2.2"/><circle cx="450.2" cy="247.7" r="2.2"/><circle cx="507.5" cy="247.2" r="2.2"/><circle cx="470.8" cy="255.3" r="2.2"/><circle cx="447.5" cy="260.8" r="2.2"/><circle cx="486.0" cy="262.1" r="2.2"/><circle cx="446.1" cy="268.3" r="2.2"/><circle cx="459.5" cy="276.6" r="2.2"/><circle cx="472.6" cy="278.2" r="2.2"/></g>
<g fill="#5fdede"></g>
<polygon points="532.2,249.9 537.5,222.7 545.0,207.4 554.9,192.6 571.9,180.0 592.7,169.8 603.7,170.4 621.5,173.4 646.0,185.1 660.9,193.5 670.7,199.4 676.1,218.2 677.0,242.2 641.7,273.2 589.3,278.4 569.7,270.1" fill="#fbfaf1"/>
<path d="M604 170L591 212M604 170L625 200M604 170L658 218M604 170L676 218M604 170L571 246M604 170L631 232M604 170L660 237M604 170L615 264M577 213L591 212M577 213L634 190M577 213L650 201M577 213L658 218M577 213L676 218M577 213L571 246M577 213L564 256M577 213L631 232M577 213L660 237M577 213L615 264M577 213L606 270M591 212L634 190M591 212L658 218M591 212L676 218M591 212L571 246M591 212L564 256M591 212L631 232M591 212L660 237M634 190L650 201M634 190L658 218M634 190L676 218M634 190L564 256M634 190L660 237M634 190L615 264M625 200L631 232M625 200L660 237M650 201L658 218M650 201L564 256M650 201L631 232M650 201L660 237M650 201L615 264M650 201L606 270M658 218L676 218M658 218L571 246M658 218L615 264M676 218L571 246M676 218L564 256M676 218L660 237M676 218L606 270M571 246L564 256M571 246L631 232M571 246L660 237M571 246L615 264M571 246L606 270M564 256L631 232M564 256L615 264M564 256L606 270M631 232L660 237M631 232L615 264M631 232L606 270M660 237L615 264M615 264L606 270" stroke="#3f9a38" stroke-width="0.60" stroke-opacity="0.80" fill="none"/>
<path d="M592.7 169.8L577.4 178.4M635.3 201.5L655.8 257.1M601.6 243.1L651.5 235.9M578.7 203.5L559.9 214.0M663.5 249.9L655.8 257.1M554.9 192.6L572.4 224.8M670.7 199.4L622.4 219.1M608.6 182.9L626.0 237.7M587.6 245.4L532.2 249.9M537.5 222.7L585.9 252.6M625.1 258.0L637.9 264.6M625.1 258.0L615.2 274.1M587.6 245.4L626.0 237.7M578.7 203.5L554.0 241.8M648.3 256.7L628.6 271.9M592.7 169.8L570.6 238.3M632.6 181.8L623.3 205.3M641.5 218.5L626.0 237.7M632.6 181.8L589.8 219.5M637.9 264.6L628.6 271.9M670.7 199.4L637.9 264.6M628.6 271.9L641.7 273.2M532.2 249.9L673.4 229.0M548.3 224.8L587.6 245.4M601.6 243.1L588.5 261.9M593.9 204.4L621.5 173.4M632.6 181.8L617.9 228.8M608.9 203.8L572.8 257.6M593.9 204.4L570.6 238.3M571.9 180.0L615.2 198.5M573.0 195.3L595.7 255.8M573.0 195.3L625.1 258.0M593.9 204.4L634.0 256.7M595.7 255.8L604.5 224.8M571.9 180.0L625.1 258.0M595.7 255.8L612.2 240.6M646.0 185.1L643.8 192.2M646.0 185.1L660.9 193.5M545.0 207.4L572.4 224.8M577.4 178.4L573.0 195.3M595.7 255.8L628.6 271.9M595.7 255.8L615.2 274.1M545.0 207.4L562.6 229.3M589.8 219.5L619.7 242.7M572.8 257.6L606.3 259.7M642.1 208.7L639.4 226.6M642.1 208.7L655.1 226.6M587.1 197.9L596.1 196.3M587.1 197.9L621.5 186.3M562.6 229.3L641.7 273.2M587.1 197.9L615.2 198.5M559.9 214.0L608.1 214.9M588.5 261.9L626.0 237.7M611.1 191.0L572.4 224.8M587.1 197.9L562.6 229.3M587.1 197.9L578.2 228.4M587.3 182.4L597.5 178.4M587.1 197.9L590.3 232.0M587.3 182.4L577.3 188.6M654.9 207.8L677.0 242.2M611.1 191.0L612.2 240.6M587.1 197.9L612.2 240.6M587.3 182.4L623.3 205.3M570.6 212.8L608.6 182.9M587.3 182.4L589.8 219.5M587.3 182.4L562.6 229.3M569.7 270.1L619.7 242.7M643.8 192.2L623.3 205.3M643.8 192.2L642.1 208.7M599.8 228.1L619.7 242.7M570.6 212.8L622.4 219.1M569.7 270.1L615.2 274.1M643.8 192.2L547.7 234.7M666.6 211.9L639.4 226.6M596.1 196.3L622.4 219.1M590.3 232.0L554.5 252.2M596.1 196.3L572.4 224.8M666.6 211.9L648.3 256.7M596.1 196.3L547.7 234.7M596.1 196.3L570.6 238.3M643.8 192.2L637.9 264.6M597.5 178.4L632.6 181.8M660.9 193.5L670.7 199.4M597.5 178.4L608.9 203.8M597.5 178.4L623.3 205.3M660.9 193.5L562.6 229.3M639.4 226.6L655.8 257.1M608.1 214.9L612.2 240.6M639.4 226.6L589.3 278.4M597.5 178.4L578.2 228.4M608.1 214.9L648.3 256.7M601.1 192.6L654.9 207.8M547.7 234.7L589.3 278.4M626.0 237.7L644.7 239.7M570.6 238.3L612.2 240.6M597.5 178.4L589.3 278.4M577.3 188.6L573.0 195.3M634.0 213.7L619.7 242.7M577.3 188.6L601.1 192.6M615.2 198.5L599.8 228.1M582.3 238.6L595.7 255.8M553.1 200.8L578.7 203.5M553.1 200.8L545.0 207.4M651.5 235.9L612.2 240.6M582.3 238.6L640.3 250.4M553.1 200.8L635.3 201.5M622.4 219.1L651.5 235.9M622.4 219.1L677.0 242.2M577.3 188.6L554.5 252.2M621.5 173.4L651.5 235.9M553.1 200.8L589.8 219.5M577.3 188.6L617.9 228.8M677.0 242.2L641.7 273.2M635.3 201.5L599.8 228.1M619.7 242.7L616.6 255.8M619.7 242.7L634.0 256.7M641.5 218.5L639.4 226.6M640.3 250.4L625.1 258.0M640.3 250.4L634.0 256.7M641.5 218.5L612.2 240.6" stroke="#f05050" stroke-width="0.55" stroke-opacity="0.80" fill="none"/>
<g fill="#f2dc3a"><circle cx="603.7" cy="170.4" r="2.2"/><circle cx="577.3" cy="213.2" r="2.2"/><circle cx="590.7" cy="212.3" r="2.2"/><circle cx="633.5" cy="190.1" r="2.2"/><circle cx="624.7" cy="199.7" r="2.2"/><circle cx="650.5" cy="200.6" r="2.2"/><circle cx="658.2" cy="217.8" r="2.2"/><circle cx="570.6" cy="245.8" r="2.2"/><circle cx="564.0" cy="256.5" r="2.2"/><circle cx="631.0" cy="232.5" r="2.2"/><circle cx="605.7" cy="270.5" r="2.2"/></g>
<g fill="#f11a12"><circle cx="592.7" cy="169.8" r="2.2"/><circle cx="571.9" cy="180.0" r="2.2"/><circle cx="577.4" cy="178.4" r="2.2"/><circle cx="587.3" cy="182.4" r="2.2"/><circle cx="597.5" cy="178.4" r="2.2"/><circle cx="577.3" cy="188.6" r="2.2"/><circle cx="554.9" cy="192.6" r="2.2"/><circle cx="573.0" cy="195.3" r="2.2"/><circle cx="564.0" cy="197.2" r="2.2"/><circle cx="587.1" cy="197.9" r="2.2"/><circle cx="596.1" cy="196.3" r="2.2"/><circle cx="601.1" cy="192.6" r="2.2"/><circle cx="553.1" cy="200.8" r="2.2"/><circle cx="578.7" cy="203.5" r="2.2"/><circle cx="593.9" cy="204.4" r="2.2"/><circle cx="545.0" cy="207.4" r="2.2"/><circle cx="559.9" cy="214.0" r="2.2"/><circle cx="570.6" cy="212.8" r="2.2"/><circle cx="545.2" cy="216.9" r="2.2"/><circle cx="621.5" cy="173.4" r="2.2"/><circle cx="608.6" cy="182.9" r="2.2"/><circle cx="632.6" cy="181.8" r="2.2"/><circle cx="621.5" cy="186.3" r="2.2"/><circle cx="646.0" cy="185.1" r="2.2"/><circle cx="611.1" cy="191.0" r="2.2"/><circle cx="643.8" cy="192.2" r="2.2"/><circle cx="660.9" cy="193.5" r="2.2"/><circle cx="615.2" cy="198.5" r="2.2"/><circle cx="635.3" cy="201.5" r="2.2"/><circle cx="670.7" cy="199.4" r="2.2"/><circle cx="608.9" cy="203.8" r="2.2"/><circle cx="623.3" cy="205.3" r="2.2"/><circle cx="642.1" cy="208.7" r="2.2"/><circle cx="654.9" cy="207.8" r="2.2"/><circle cx="666.6" cy="211.9" r="2.2"/><circle cx="608.1" cy="214.9" r="2.2"/><circle cx="634.0" cy="213.7" r="2.2"/><circle cx="622.4" cy="219.1" r="2.2"/><circle cx="641.5" cy="218.5" r="2.2"/><circle cx="537.5" cy="222.7" r="2.2"/><circle cx="548.3" cy="224.8" r="2.2"/><circle cx="572.4" cy="224.8" r="2.2"/><circle cx="589.8" cy="219.5" r="2.2"/><circle cx="562.6" cy="229.3" r="2.2"/><circle cx="578.2" cy="228.4" r="2.2"/><circle cx="599.8" cy="228.1" r="2.2"/><circle cx="590.3" cy="232.0" r="2.2"/><circle cx="547.7" cy="234.7" r="2.2"/><circle cx="570.6" cy="238.3" r="2.2"/><circle cx="582.3" cy="238.6" r="2.2"/><circle cx="554.0" cy="241.8" r="2.2"/><circle cx="601.6" cy="243.1" r="2.2"/><circle cx="587.6" cy="245.4" r="2.2"/><circle cx="532.2" cy="249.9" r="2.2"/><circle cx="554.5" cy="252.2" r="2.2"/><circle cx="585.9" cy="252.6" r="2.2"/><circle cx="595.7" cy="255.8" r="2.2"/><circle cx="572.8" cy="257.6" r="2.2"/><circle cx="579.6" cy="264.2" r="2.2"/><circle cx="588.5" cy="261.9" r="2.2"/><circle cx="593.9" cy="268.2" r="2.2"/><circle cx="569.7" cy="270.1" r="2.2"/><circle cx="604.5" cy="224.8" r="2.2"/><circle cx="617.9" cy="228.8" r="2.2"/><circle cx="639.4" cy="226.6" r="2.2"/><circle cx="655.1" cy="226.6" r="2.2"/><circle cx="673.4" cy="229.0" r="2.2"/><circle cx="626.0" cy="237.7" r="2.2"/><circle cx="644.7" cy="239.7" r="2.2"/><circle cx="651.5" cy="235.9" r="2.2"/><circle cx="677.0" cy="242.2" r="2.2"/><circle cx="612.2" cy="240.6" r="2.2"/><circle cx="619.7" cy="242.7" r="2.2"/><circle cx="640.3" cy="250.4" r="2.2"/><circle cx="663.5" cy="249.9" r="2.2"/><circle cx="616.6" cy="255.8" r="2.2"/><circle cx="625.1" cy="258.0" r="2.2"/><circle cx="634.0" cy="256.7" r="2.2"/><circle cx="648.3" cy="256.7" r="2.2"/><circle cx="655.8" cy="257.1" r="2.2"/><circle cx="606.3" cy="259.7" r="2.2"/><circle cx="637.9" cy="264.6" r="2.2"/><circle cx="628.6" cy="271.9" r="2.2"/><circle cx="641.7" cy="273.2" r="2.2"/><circle cx="615.2" cy="274.1" r="2.2"/><circle cx="589.3" cy="278.4" r="2.2"/></g>
<g fill="#5fdede"><circle cx="676.1" cy="218.2" r="2.2"/><circle cx="660.3" cy="237.4" r="2.2"/><circle cx="615.2" cy="263.7" r="2.2"/></g>
<g font-family="Liberation Sans, sans-serif" font-size="16" fill="#262626"><text transform="translate(369.3,50.8) scale(1.06,0.95)">(a)</text><text transform="translate(523.8,50.8) scale(1.06,0.95)">(b)</text><text transform="translate(364.0,184.4) scale(1.06,0.95)">(c)</text><text transform="translate(532.4,179.6) scale(1.06,0.95)">(d)</text></g>
</svg>
</body></html>
